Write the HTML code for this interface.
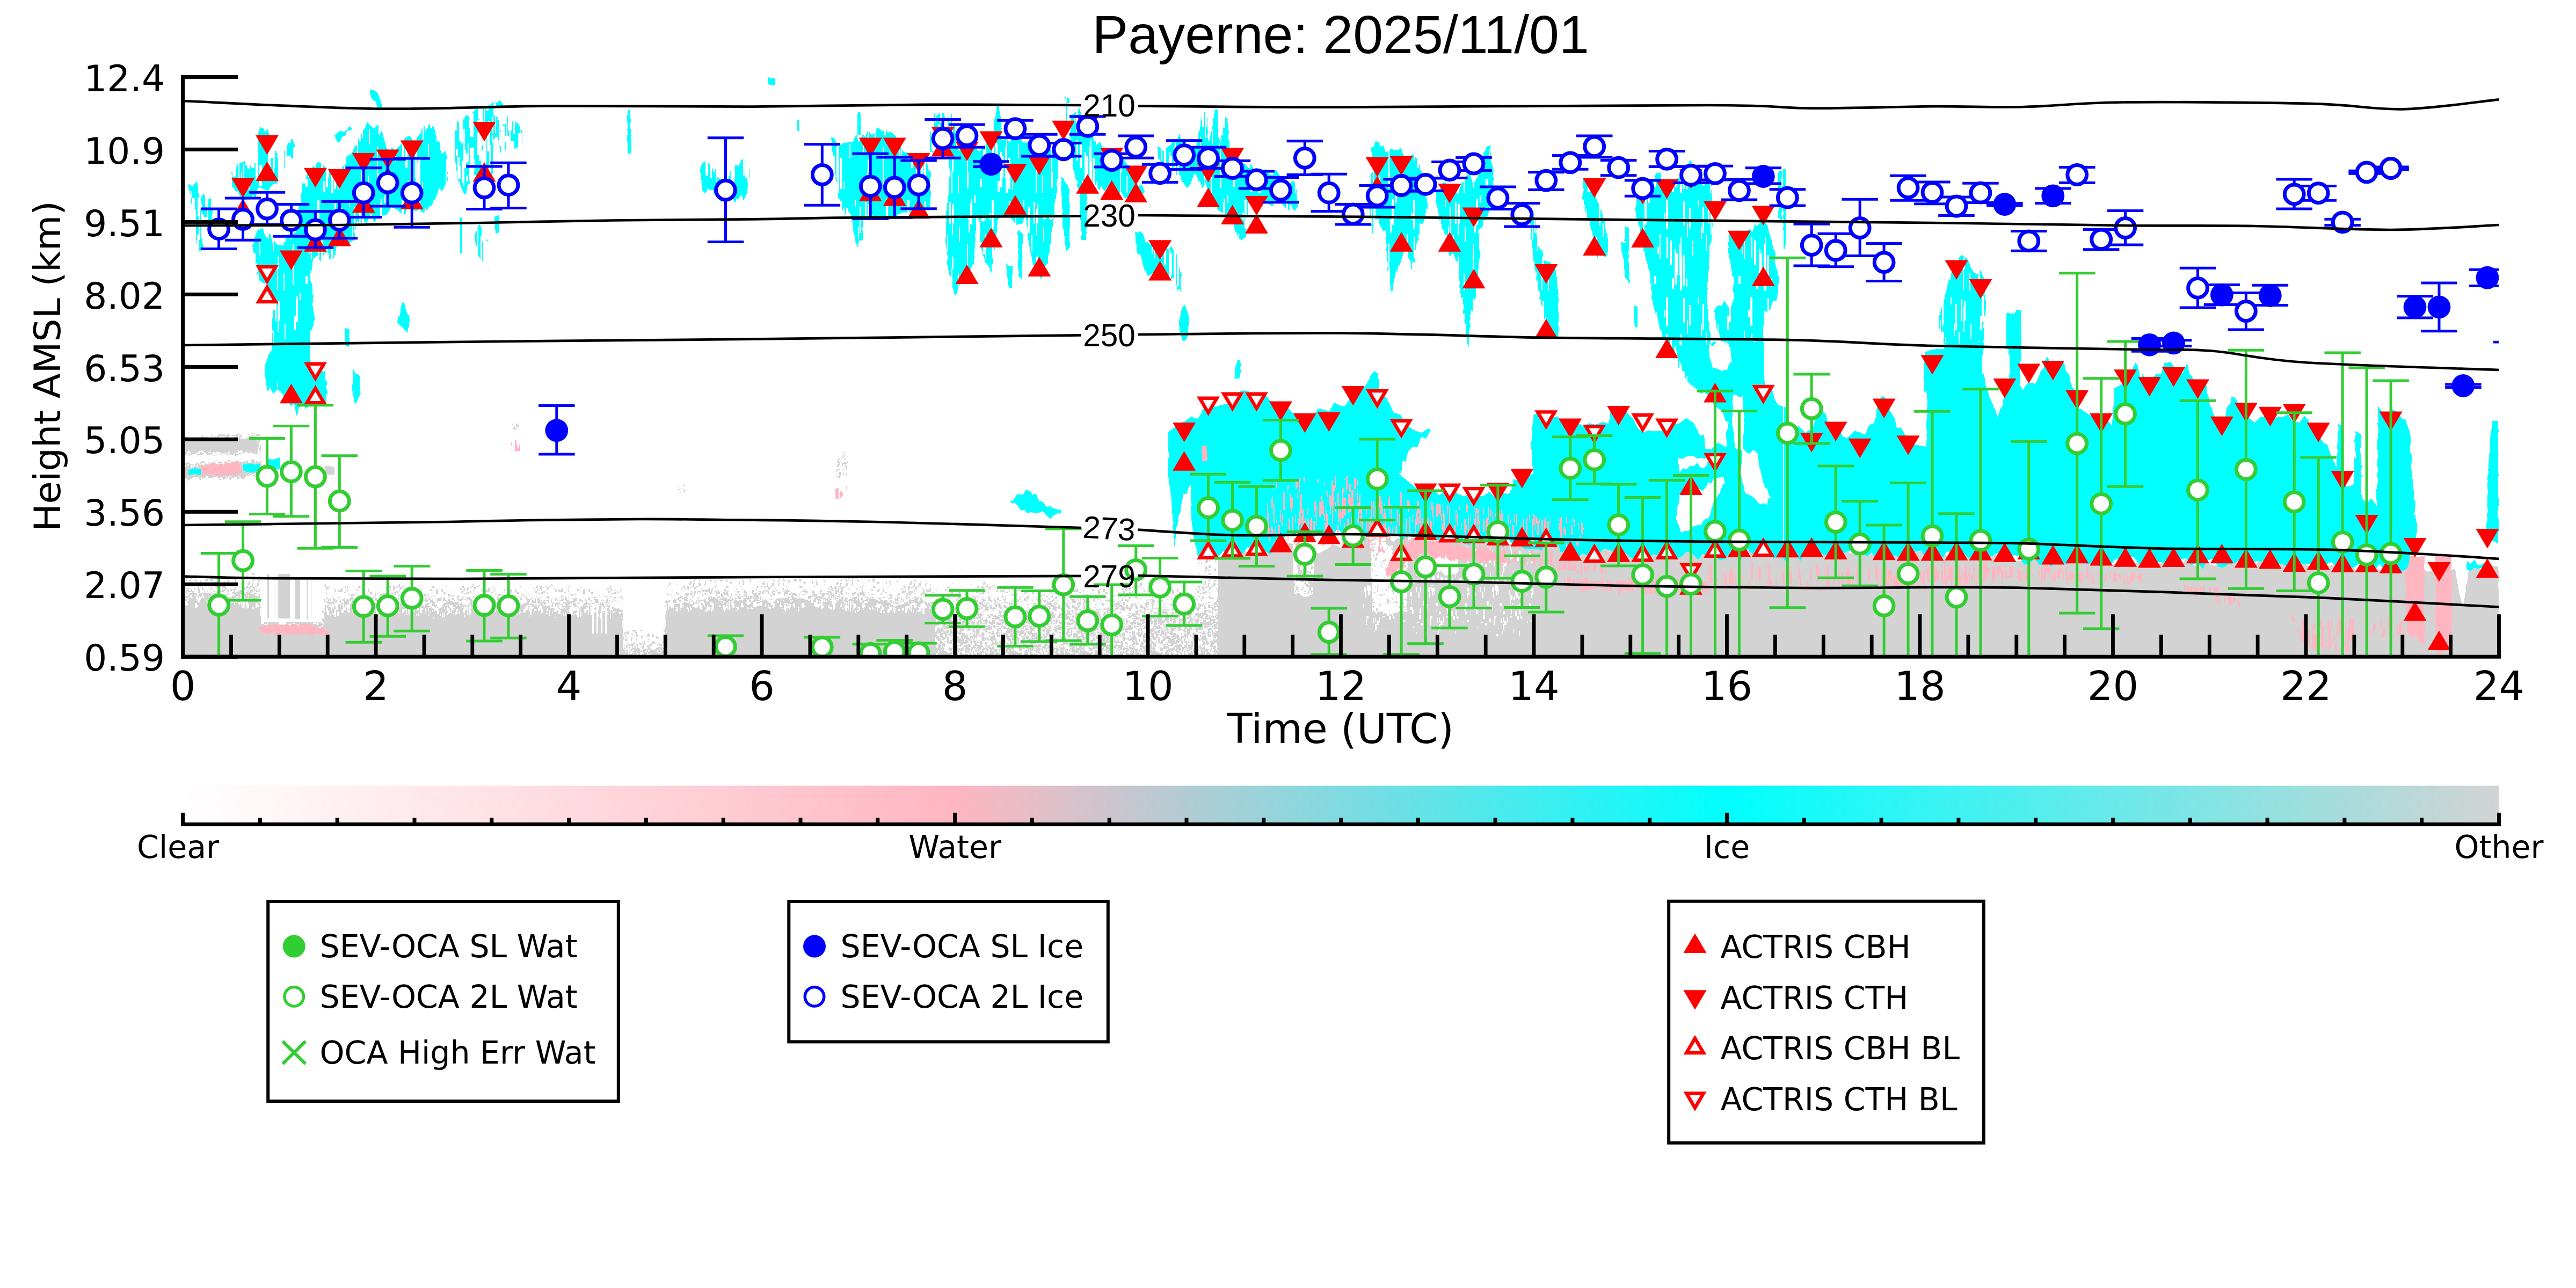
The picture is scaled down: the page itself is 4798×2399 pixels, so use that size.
<!DOCTYPE html><html><head><meta charset="utf-8"><title>Payerne: 2025/11/01</title><style>html,body{margin:0;padding:0;background:#fff}svg{display:block}</style></head><body><svg width="4798" height="2399" viewBox="0 0 4798 2399">
<defs><clipPath id="pc"><rect x="340.6" y="103.30000000000001" width="4313.4" height="1119.9"/></clipPath>
<linearGradient id="cb" x1="0" x2="1" y1="0" y2="0"><stop offset="0" stop-color="#ffffff"/><stop offset="0.3333" stop-color="#ffb6c1"/><stop offset="0.6667" stop-color="#00ffff"/><stop offset="1" stop-color="#d3d3d3"/></linearGradient>
<pattern id="w1" width="157" height="181" patternUnits="userSpaceOnUse"><rect width="157" height="181" fill="#00ffff"/><path d="M116 34h3v13h-3zM104 98h3v13h-3zM145 93h4v58h-4zM46 116h3v23h-3zM146 120h4v59h-4zM45 138h2v40h-2zM87 2h3v14h-3zM47 18h3v36h-3zM2 53h2v26h-2zM152 12h3v46h-3zM59 60h2v28h-2zM136 123h4v45h-4zM74 139h3v30h-3zM6 28h3v34h-3zM121 79h3v39h-3zM6 25h3v14h-3zM74 92h2v51h-2zM57 146h2v33h-2zM127 86h4v46h-4zM81 9h3v48h-3zM22 10h2v14h-2zM6 29h2v35h-2zM108 74h2v46h-2zM138 110h4v40h-4zM151 113h4v58h-4zM31 23h3v49h-3zM136 102h3v43h-3zM28 60h2v23h-2zM120 10h4v54h-4zM46 28h2v48h-2zM80 16h4v39h-4zM41 14h3v41h-3zM98 152h4v15h-4zM131 156h4v20h-4zM147 79h2v41h-2zM37 75h2v30h-2zM1 157h2v15h-2zM77 46h3v25h-3zM12 87h2v27h-2z" fill="#ffffff"/></pattern><pattern id="w2" width="163" height="177" patternUnits="userSpaceOnUse"><rect width="163" height="177" fill="#00ffff"/><path d="M26 65h2v44h-2zM48 45h5v44h-5zM31 35h5v13h-5zM32 71h4v62h-4zM118 54h2v67h-2zM127 128h2v44h-2zM37 100h3v53h-3zM74 73h2v40h-2zM133 85h7v39h-7zM91 95h4v43h-4zM153 73h2v62h-2zM121 27h3v25h-3zM156 7h5v13h-5zM47 113h3v43h-3zM82 34h4v62h-4zM134 67h5v70h-5zM18 0h7v63h-7zM104 47h2v33h-2zM15 53h7v64h-7zM123 144h2v29h-2zM100 108h7v36h-7zM53 50h6v32h-6zM137 154h2v23h-2zM111 24h3v28h-3zM150 105h3v56h-3zM84 93h5v62h-5zM78 21h4v20h-4zM105 39h5v66h-5zM127 44h7v54h-7zM67 17h6v17h-6zM41 83h4v63h-4zM161 0h2v44h-2zM101 17h3v51h-3zM141 38h4v25h-4zM106 20h3v22h-3zM15 25h7v45h-7zM109 82h5v55h-5zM100 55h2v69h-2zM130 103h7v28h-7zM7 76h2v24h-2zM25 8h5v51h-5zM102 6h7v46h-7zM56 1h3v30h-3zM107 110h7v42h-7zM10 90h5v60h-5zM137 48h7v56h-7zM146 87h2v36h-2zM57 99h5v31h-5zM44 153h3v17h-3zM46 15h2v22h-2zM53 133h2v18h-2zM32 15h5v28h-5zM57 110h7v54h-7zM135 40h3v54h-3zM62 129h3v28h-3zM44 32h3v61h-3zM122 68h4v51h-4zM134 15h4v65h-4zM19 97h3v57h-3zM20 68h6v36h-6zM80 86h3v64h-3zM151 92h4v63h-4zM60 9h2v70h-2zM100 7h6v38h-6zM21 94h2v42h-2zM30 57h7v60h-7zM86 60h5v60h-5zM143 56h3v29h-3zM29 110h3v51h-3zM32 37h7v70h-7zM116 73h6v19h-6zM43 114h7v61h-7zM42 14h5v35h-5zM53 118h6v20h-6zM29 2h2v13h-2zM88 109h4v54h-4zM87 67h6v25h-6zM86 31h5v58h-5zM49 113h4v53h-4zM118 97h2v69h-2zM157 130h5v40h-5z" fill="#ffffff"/></pattern><pattern id="w4" width="151" height="173" patternUnits="userSpaceOnUse"><rect width="151" height="173" fill="#00ffff"/><path d="M121 102h7v59h-7zM109 106h4v34h-4zM30 80h4v19h-4zM141 116h7v49h-7zM103 57h4v37h-4zM41 19h7v49h-7zM84 29h4v42h-4zM67 65h8v40h-8zM13 15h4v27h-4zM32 38h3v14h-3zM88 10h8v60h-8zM55 131h5v24h-5zM108 68h3v45h-3zM144 63h3v26h-3zM51 7h7v15h-7zM32 126h3v18h-3zM75 15h6v16h-6zM40 12h7v58h-7zM70 18h6v28h-6zM134 51h2v11h-2zM122 124h7v21h-7zM40 12h7v33h-7zM146 22h2v48h-2zM146 133h3v10h-3zM0 2h4v32h-4zM84 81h8v55h-8zM105 127h5v40h-5zM61 132h6v40h-6zM32 0h2v60h-2zM86 74h3v52h-3zM83 51h6v40h-6zM60 12h4v50h-4zM17 100h8v57h-8zM124 103h4v55h-4zM1 72h4v37h-4zM94 105h4v12h-4zM10 78h2v16h-2zM39 80h3v47h-3zM65 101h5v25h-5zM144 111h6v59h-6zM108 113h2v60h-2zM4 140h5v28h-5zM136 50h3v40h-3zM118 29h2v36h-2zM36 25h2v41h-2zM134 74h5v42h-5zM35 80h6v11h-6zM123 116h4v27h-4zM46 1h6v51h-6zM14 111h3v19h-3zM97 120h4v41h-4zM99 12h7v35h-7zM138 0h7v60h-7zM97 136h6v24h-6zM27 68h7v51h-7zM29 84h3v52h-3zM47 24h8v23h-8zM11 44h2v32h-2zM137 107h8v20h-8zM2 55h4v11h-4zM17 25h8v20h-8zM112 113h4v17h-4zM65 118h7v54h-7zM16 21h2v54h-2zM37 89h6v23h-6zM116 93h2v36h-2zM64 117h6v31h-6zM74 95h4v28h-4zM102 15h4v31h-4zM62 57h2v25h-2zM31 7h6v51h-6zM24 73h6v26h-6zM16 82h6v54h-6zM87 61h3v24h-3zM23 26h8v44h-8zM136 78h8v20h-8zM41 6h7v32h-7zM23 67h2v22h-2zM99 35h2v22h-2zM100 53h5v36h-5zM13 86h4v28h-4zM3 53h3v56h-3zM21 89h2v43h-2zM68 92h8v18h-8zM120 37h7v45h-7zM50 18h3v58h-3zM38 127h3v28h-3zM59 75h7v53h-7zM119 132h8v32h-8zM31 62h3v34h-3zM5 97h3v43h-3zM134 78h8v28h-8zM44 90h8v43h-8zM135 16h7v33h-7zM77 118h5v17h-5zM50 9h5v19h-5zM62 125h6v16h-6zM60 17h6v42h-6zM12 142h7v18h-7zM100 49h7v32h-7zM42 65h3v52h-3zM29 107h6v56h-6zM36 60h3v50h-3zM12 100h5v50h-5zM145 81h6v47h-6zM145 78h3v55h-3zM113 154h3v11h-3zM32 136h8v18h-8z" fill="#ffffff"/></pattern><pattern id="w3" width="149" height="167" patternUnits="userSpaceOnUse"><path d="M143 73h3v19h-3zM57 89h3v20h-3zM111 130h5v21h-5zM136 33h2v12h-2zM133 114h5v9h-5zM53 71h3v12h-3zM44 20h2v13h-2zM135 78h4v15h-4zM108 148h3v13h-3zM24 91h3v40h-3zM61 1h3v14h-3zM4 18h5v37h-5zM39 97h2v40h-2zM33 73h3v34h-3zM141 145h3v16h-3zM45 120h4v28h-4zM22 3h3v39h-3zM67 35h2v35h-2zM73 5h4v30h-4zM2 101h5v14h-5zM1 62h4v12h-4zM3 5h3v33h-3zM6 52h2v29h-2zM131 74h2v9h-2zM127 102h4v23h-4zM89 127h5v12h-5zM20 122h4v19h-4zM53 7h2v30h-2zM119 121h3v27h-3zM104 142h5v21h-5zM124 27h3v40h-3zM115 62h2v32h-2zM69 12h3v40h-3zM43 90h2v40h-2zM34 26h4v27h-4zM94 74h5v30h-5zM31 116h2v18h-2zM122 74h3v20h-3zM12 110h3v34h-3zM116 142h5v11h-5zM109 81h2v37h-2zM15 64h3v32h-3zM58 121h4v15h-4zM95 96h3v9h-3zM48 71h3v20h-3zM54 136h5v12h-5zM84 137h4v10h-4zM122 145h3v14h-3zM137 109h3v26h-3zM85 4h3v33h-3zM2 136h3v17h-3zM127 63h4v20h-4zM104 2h4v40h-4zM119 85h4v21h-4zM35 101h4v27h-4zM42 90h5v10h-5zM83 131h4v17h-4zM54 137h3v23h-3zM132 24h4v34h-4zM60 132h4v15h-4zM32 58h4v40h-4zM135 7h3v31h-3zM72 131h4v36h-4zM110 138h4v15h-4zM111 88h3v30h-3zM102 10h4v27h-4zM132 21h4v32h-4zM113 84h5v13h-5zM132 144h3v11h-3zM16 25h5v23h-5zM110 19h5v32h-5zM70 56h5v36h-5zM23 102h3v35h-3zM64 3h3v40h-3zM97 143h3v22h-3zM41 80h5v25h-5zM54 40h4v10h-4zM77 129h4v16h-4zM78 39h3v8h-3zM53 60h3v26h-3zM6 13h4v38h-4zM102 10h4v38h-4zM126 16h3v36h-3zM34 14h5v31h-5zM79 109h3v24h-3zM62 103h2v39h-2zM115 76h4v23h-4z" fill="#00ffff"/></pattern><pattern id="g7" width="131" height="97" patternUnits="userSpaceOnUse"><path d="M60 85h2v6h-2zM52 54h4v6h-4zM109 49h2v6h-2zM106 80h1v2h-1zM104 52h2v3h-2zM44 27h5v3h-5zM30 16h2v4h-2zM43 43h4v4h-4zM32 39h4v6h-4zM18 23h2v2h-2zM45 22h1v4h-1zM44 40h5v4h-5zM72 78h2v1h-2zM10 47h3v6h-3zM17 78h4v4h-4zM36 23h1v2h-1zM32 81h3v3h-3zM81 45h2v5h-2zM6 0h4v4h-4zM51 78h5v1h-5zM64 43h2v5h-2zM92 23h3v3h-3zM122 57h1v5h-1zM39 56h3v4h-3zM34 54h1v3h-1zM103 36h2v2h-2zM27 86h4v4h-4zM109 16h4v4h-4zM32 6h4v1h-4zM87 5h5v4h-5zM127 87h4v2h-4zM19 52h5v4h-5zM57 58h2v3h-2zM45 35h5v2h-5zM76 71h2v1h-2zM18 25h4v4h-4zM8 54h4v3h-4zM104 70h1v3h-1zM66 11h1v1h-1zM21 51h5v4h-5zM48 17h4v3h-4zM60 51h3v3h-3zM62 52h5v2h-5zM91 31h5v4h-5zM107 92h3v5h-3zM69 43h2v1h-2zM70 24h2v6h-2zM54 92h2v5h-2zM100 25h4v1h-4zM113 37h5v2h-5zM32 76h4v5h-4zM125 15h5v5h-5zM1 40h5v2h-5zM69 43h1v6h-1zM49 6h4v5h-4zM71 36h2v5h-2zM81 35h2v1h-2zM125 54h1v5h-1zM117 12h2v3h-2zM98 87h1v4h-1zM6 26h2v4h-2zM58 66h4v1h-4zM119 45h1v1h-1zM119 79h5v3h-5zM89 90h1v4h-1zM27 57h1v2h-1zM121 43h3v4h-3zM9 54h4v4h-4zM26 16h3v6h-3zM29 31h4v4h-4zM13 12h5v6h-5zM95 77h5v6h-5zM91 82h1v3h-1zM111 44h1v2h-1zM37 69h1v1h-1zM13 84h3v2h-3zM10 59h2v1h-2zM37 95h3v2h-3zM89 68h1v3h-1zM61 52h2v5h-2zM117 2h3v1h-3zM55 81h2v1h-2zM13 27h3v3h-3zM73 58h4v4h-4zM120 29h2v1h-2zM40 69h5v1h-5zM20 34h5v2h-5zM96 54h4v5h-4zM3 33h1v6h-1zM62 70h2v4h-2zM22 63h3v6h-3zM76 20h1v4h-1zM9 61h2v4h-2zM9 53h1v5h-1zM54 74h1v5h-1zM48 7h5v2h-5zM44 53h3v1h-3zM73 88h3v1h-3zM117 85h1v2h-1zM60 68h3v2h-3zM104 86h2v3h-2zM68 82h1v3h-1zM123 37h3v3h-3zM116 31h5v3h-5zM57 73h2v4h-2zM79 18h1v4h-1zM23 68h2v4h-2zM12 35h2v5h-2zM45 21h3v1h-3zM85 15h4v1h-4zM15 46h1v6h-1zM77 83h4v5h-4zM38 59h2v5h-2zM31 72h2v1h-2zM71 28h3v2h-3zM51 52h5v2h-5zM33 92h5v1h-5zM52 37h4v2h-4zM124 69h5v4h-5zM46 49h5v3h-5zM97 68h1v4h-1zM128 58h3v3h-3zM1 1h1v5h-1zM84 63h3v2h-3zM50 42h5v4h-5zM119 52h1v4h-1zM65 32h5v3h-5zM20 32h4v3h-4zM94 73h2v2h-2zM112 57h1v6h-1zM40 48h3v4h-3zM40 14h2v6h-2zM100 7h3v4h-3zM13 53h4v4h-4zM79 7h3v2h-3zM0 6h4v3h-4zM35 5h5v2h-5zM7 61h4v4h-4zM90 69h3v6h-3zM0 49h3v3h-3zM84 26h5v5h-5zM54 70h1v5h-1zM20 69h1v3h-1zM86 74h5v3h-5zM74 14h3v4h-3zM76 41h1v1h-1zM124 22h4v3h-4zM120 79h2v2h-2zM44 45h5v1h-5zM30 70h1v3h-1zM127 49h1v4h-1zM87 6h5v4h-5zM99 45h2v5h-2zM95 73h4v2h-4zM109 75h1v2h-1zM35 40h3v4h-3zM101 27h1v6h-1zM74 83h3v6h-3zM47 85h2v6h-2zM0 32h4v3h-4zM44 67h2v3h-2zM107 89h4v3h-4zM114 18h2v4h-2zM106 76h1v5h-1zM70 96h5v1h-5zM103 25h1v1h-1zM32 76h4v3h-4zM20 80h3v5h-3zM61 87h2v3h-2zM68 15h3v1h-3zM30 13h2v4h-2zM34 91h2v2h-2zM110 3h5v3h-5zM82 25h4v4h-4zM68 87h3v5h-3zM127 42h4v5h-4zM117 65h1v1h-1zM30 9h2v6h-2zM15 39h2v6h-2zM10 3h2v2h-2zM25 14h4v1h-4zM33 86h3v6h-3zM65 52h4v2h-4zM46 46h4v4h-4zM119 77h3v1h-3zM89 85h4v2h-4zM8 88h1v6h-1zM116 91h4v6h-4zM87 43h3v6h-3zM67 10h4v1h-4zM40 21h5v6h-5zM69 91h5v3h-5zM14 31h4v6h-4zM12 44h1v4h-1zM63 85h5v5h-5zM58 88h1v1h-1zM126 24h5v6h-5zM42 90h4v6h-4zM19 31h4v4h-4zM96 72h3v2h-3zM54 94h5v3h-5zM28 39h5v1h-5zM22 82h5v1h-5zM84 14h4v3h-4zM78 64h3v4h-3zM71 93h1v4h-1zM27 77h1v2h-1zM31 86h5v4h-5zM102 2h2v6h-2zM25 62h1v6h-1zM15 88h4v3h-4zM47 76h5v1h-5zM98 68h3v5h-3zM117 47h3v2h-3zM92 37h4v4h-4zM76 80h4v6h-4zM94 67h4v4h-4zM0 10h4v4h-4zM107 91h2v6h-2zM60 88h4v3h-4zM97 0h5v1h-5zM103 1h1v5h-1zM126 22h2v2h-2zM86 47h2v2h-2zM45 48h5v1h-5zM120 59h1v5h-1zM123 32h2v5h-2zM47 70h1v3h-1zM45 75h2v3h-2zM127 14h3v1h-3zM115 45h1v1h-1zM22 95h5v2h-5zM28 64h2v1h-2zM60 64h4v2h-4zM20 55h1v3h-1zM9 25h2v4h-2zM52 59h1v1h-1zM66 15h2v5h-2zM80 27h3v2h-3zM113 69h5v3h-5zM53 10h3v6h-3zM99 2h5v6h-5zM74 15h1v2h-1zM86 20h4v4h-4zM100 35h5v6h-5zM60 6h4v1h-4zM99 47h1v2h-1zM84 28h5v6h-5zM96 36h2v6h-2zM85 88h1v5h-1zM126 14h1v5h-1zM86 15h4v3h-4zM1 88h5v3h-5zM15 90h3v6h-3zM38 79h4v1h-4zM106 29h2v6h-2zM39 61h3v4h-3zM59 4h3v1h-3zM99 92h5v3h-5zM25 5h5v3h-5zM41 14h5v2h-5zM92 52h1v4h-1zM127 7h4v3h-4zM128 71h3v1h-3zM101 39h1v2h-1zM90 38h1v5h-1zM66 46h1v1h-1zM110 30h5v3h-5zM63 20h2v1h-2zM54 49h5v6h-5zM1 22h1v2h-1zM31 66h1v6h-1zM7 58h4v1h-4zM40 72h4v5h-4zM51 83h2v3h-2zM57 50h4v2h-4zM19 49h1v4h-1zM17 94h1v1h-1zM76 61h3v2h-3zM90 69h5v1h-5zM101 87h3v2h-3zM19 57h5v5h-5zM113 70h5v2h-5zM69 11h4v6h-4zM121 57h2v5h-2zM77 61h5v4h-5zM93 82h3v3h-3zM49 19h5v3h-5zM39 62h5v5h-5zM120 67h3v1h-3zM43 57h3v3h-3zM122 49h3v5h-3zM73 68h5v2h-5zM31 38h2v3h-2zM51 3h2v6h-2zM47 31h4v3h-4zM53 56h2v4h-2zM96 62h4v2h-4zM12 2h2v5h-2zM56 43h1v1h-1zM43 51h2v2h-2zM51 29h1v5h-1zM101 85h2v5h-2zM40 38h1v6h-1zM117 61h2v4h-2zM98 5h5v3h-5zM94 95h5v2h-5zM9 49h5v1h-5zM33 64h1v2h-1zM16 88h3v6h-3zM35 16h3v5h-3zM77 68h4v4h-4zM111 21h3v3h-3zM21 80h5v6h-5zM56 2h4v5h-4zM84 15h3v4h-3zM40 1h3v1h-3zM103 32h5v1h-5zM64 17h3v3h-3zM12 25h4v6h-4zM102 88h3v3h-3zM77 51h4v6h-4zM124 31h3v6h-3zM26 82h2v5h-2zM47 89h5v6h-5zM15 79h1v4h-1zM127 75h1v3h-1zM7 4h5v1h-5zM52 47h1v1h-1zM116 77h3v2h-3zM115 69h1v2h-1zM65 17h3v4h-3zM0 24h5v3h-5zM29 44h1v3h-1zM92 72h2v4h-2zM72 40h2v4h-2zM84 38h5v1h-5zM80 73h4v3h-4zM123 46h5v1h-5zM57 21h4v1h-4zM61 66h3v3h-3zM58 16h3v5h-3zM126 47h3v3h-3zM122 82h3v5h-3zM34 48h1v3h-1zM61 61h1v6h-1zM35 92h4v2h-4zM46 38h4v6h-4zM10 49h5v4h-5zM78 62h5v4h-5zM52 6h5v1h-5zM98 80h4v1h-4zM4 72h4v2h-4zM81 65h5v2h-5zM24 18h1v3h-1zM78 21h2v4h-2zM67 50h3v4h-3zM100 83h1v6h-1zM104 15h1v4h-1zM69 9h2v6h-2zM104 51h1v5h-1zM91 21h3v2h-3zM103 27h3v4h-3zM65 82h4v6h-4zM73 17h2v4h-2zM83 79h1v4h-1zM13 48h1v3h-1zM14 41h4v4h-4zM81 70h3v5h-3zM90 1h4v5h-4zM71 40h4v1h-4zM112 55h3v3h-3zM12 49h5v4h-5zM109 91h5v2h-5zM85 35h2v4h-2zM46 43h3v4h-3zM79 27h4v6h-4zM60 84h3v2h-3zM86 58h2v6h-2zM95 32h5v2h-5zM97 4h1v6h-1zM99 60h1v3h-1zM113 47h1v1h-1zM46 20h3v3h-3zM72 86h1v6h-1zM40 21h2v5h-2zM84 34h2v2h-2zM0 11h2v3h-2zM84 84h3v6h-3zM128 67h3v5h-3zM44 23h1v4h-1zM15 46h1v6h-1zM7 40h3v4h-3zM43 85h3v1h-3zM1 61h3v3h-3zM120 87h1v5h-1zM62 42h3v2h-3zM5 83h5v1h-5zM66 28h5v6h-5zM113 33h3v4h-3zM10 23h3v5h-3zM120 65h3v2h-3zM28 82h5v1h-5zM106 70h5v4h-5zM95 37h1v1h-1zM90 26h3v5h-3zM52 68h5v6h-5zM52 32h1v4h-1zM55 57h4v3h-4zM2 85h2v3h-2zM13 27h3v3h-3zM84 7h5v3h-5zM89 20h3v2h-3zM33 0h1v3h-1zM80 42h2v6h-2zM98 37h5v3h-5zM31 48h5v3h-5zM80 37h4v2h-4zM1 33h1v4h-1zM122 66h1v4h-1zM34 53h2v4h-2zM101 57h2v1h-2zM37 37h1v5h-1zM121 1h3v2h-3zM44 24h5v3h-5zM46 85h4v6h-4zM55 25h2v2h-2zM50 18h2v2h-2zM20 33h1v5h-1zM20 57h3v3h-3zM30 5h1v4h-1zM1 91h3v5h-3zM117 12h4v5h-4zM65 68h3v4h-3zM73 62h4v1h-4zM78 6h1v6h-1zM88 18h5v1h-5zM3 40h3v1h-3zM95 48h5v2h-5zM96 14h1v6h-1zM1 52h4v5h-4zM25 81h1v5h-1zM68 91h1v6h-1zM17 84h5v3h-5zM16 23h1v5h-1zM115 91h5v2h-5zM126 20h3v3h-3zM8 19h2v4h-2zM89 42h3v2h-3zM57 15h1v1h-1zM58 63h4v1h-4zM100 23h1v6h-1zM17 69h4v2h-4zM14 87h1v4h-1zM111 41h1v4h-1zM117 83h3v1h-3zM87 30h4v6h-4zM4 12h1v4h-1zM70 24h5v4h-5zM53 46h2v3h-2zM59 80h5v6h-5zM96 23h5v6h-5zM46 55h3v2h-3zM17 24h2v2h-2zM49 57h4v2h-4zM77 88h5v5h-5zM127 22h2v6h-2zM28 71h1v6h-1zM75 6h5v4h-5zM87 33h3v4h-3zM94 28h5v4h-5zM92 2h3v5h-3zM104 61h5v3h-5zM114 15h5v4h-5zM67 77h5v5h-5zM76 31h2v2h-2zM70 90h3v4h-3zM2 44h5v5h-5zM19 6h3v2h-3zM115 6h2v4h-2zM0 95h5v1h-5zM59 58h5v4h-5zM84 72h1v5h-1zM76 87h3v2h-3zM62 55h1v5h-1zM10 43h5v3h-5zM77 53h4v4h-4zM42 91h2v6h-2zM126 60h5v3h-5zM28 77h3v5h-3zM23 18h5v4h-5zM116 55h4v5h-4zM49 63h2v5h-2zM1 0h1v5h-1zM119 2h5v6h-5zM41 23h5v4h-5zM94 89h3v1h-3zM9 58h2v5h-2zM64 42h5v4h-5zM74 43h2v1h-2zM121 88h4v3h-4zM111 75h1v4h-1zM12 21h5v5h-5zM104 86h1v3h-1zM46 0h3v1h-3zM48 17h4v1h-4zM111 84h2v5h-2zM33 27h3v4h-3zM38 92h5v4h-5zM108 42h1v4h-1zM71 17h1v3h-1zM107 6h1v1h-1zM72 10h4v2h-4zM92 63h1v1h-1zM56 12h5v2h-5zM5 1h1v4h-1zM78 33h1v4h-1zM47 30h4v6h-4zM9 5h4v4h-4zM29 31h5v1h-5zM11 36h2v2h-2zM9 65h1v6h-1zM13 11h3v3h-3zM123 85h5v2h-5zM85 51h3v4h-3zM63 37h1v1h-1zM75 47h4v6h-4zM129 56h2v1h-2zM6 73h2v2h-2zM91 55h5v1h-5zM45 20h4v1h-4zM30 11h2v6h-2zM98 40h4v6h-4zM27 72h2v2h-2zM120 18h3v4h-3zM67 58h5v1h-5zM116 25h1v4h-1zM109 71h1v5h-1zM21 14h4v4h-4zM105 58h1v3h-1zM84 81h2v5h-2zM128 23h2v5h-2zM73 1h5v3h-5zM67 7h2v3h-2zM65 76h2v1h-2zM92 80h1v3h-1zM122 30h4v6h-4zM9 60h3v5h-3zM90 56h4v6h-4zM67 9h3v3h-3zM50 19h1v6h-1zM37 81h4v6h-4zM62 89h5v1h-5zM5 60h3v5h-3zM31 55h3v3h-3zM90 75h1v2h-1zM54 34h3v3h-3zM33 19h5v6h-5zM106 84h2v6h-2zM52 36h2v6h-2zM65 72h2v2h-2zM33 52h4v2h-4zM72 25h1v3h-1zM16 80h1v2h-1zM54 85h5v4h-5zM122 41h1v2h-1zM75 70h2v2h-2zM41 96h5v1h-5zM26 71h4v1h-4zM13 84h4v2h-4zM81 21h2v6h-2zM54 0h3v4h-3zM26 93h5v4h-5zM42 10h5v4h-5zM81 15h4v2h-4zM69 5h4v2h-4zM64 91h4v6h-4zM80 29h5v4h-5zM7 13h4v3h-4zM31 92h3v4h-3zM1 2h3v2h-3zM14 27h4v1h-4zM88 29h1v4h-1zM39 43h4v4h-4zM117 55h3v5h-3zM28 20h3v1h-3zM58 50h4v6h-4zM20 2h5v2h-5zM15 32h1v5h-1zM4 79h4v1h-4zM6 55h5v4h-5zM80 93h5v3h-5zM96 32h1v2h-1zM36 15h1v1h-1zM26 59h5v3h-5zM56 30h3v2h-3zM34 45h4v6h-4zM108 8h4v4h-4zM34 72h5v5h-5zM61 27h3v6h-3zM60 3h4v5h-4zM102 25h4v4h-4zM117 29h2v4h-2zM106 92h5v4h-5zM31 0h2v1h-2zM104 20h4v5h-4zM56 55h5v4h-5zM115 20h1v5h-1zM20 47h3v1h-3zM75 66h5v4h-5zM5 55h4v6h-4zM89 9h4v2h-4zM31 2h1v3h-1zM76 17h1v6h-1zM109 83h3v2h-3zM66 3h1v1h-1zM129 72h2v3h-2zM40 61h1v4h-1zM114 10h5v6h-5zM111 91h3v3h-3zM93 79h1v6h-1zM41 63h3v2h-3zM92 52h1v4h-1zM22 73h2v4h-2zM45 0h1v3h-1zM9 76h2v2h-2zM8 5h2v5h-2zM23 8h3v6h-3zM12 91h3v6h-3zM79 87h1v5h-1zM41 47h1v1h-1zM63 88h4v3h-4zM19 28h3v3h-3zM127 94h4v2h-4zM15 19h4v4h-4zM46 83h4v3h-4zM21 81h5v3h-5zM34 15h5v6h-5zM63 54h5v6h-5zM58 71h2v5h-2zM88 28h2v6h-2zM25 6h2v5h-2zM72 89h1v5h-1zM125 26h1v1h-1zM13 64h1v3h-1zM129 44h1v1h-1zM8 91h4v5h-4zM106 21h3v3h-3zM13 50h1v4h-1zM60 67h4v4h-4zM84 5h4v4h-4zM113 61h1v1h-1zM76 80h3v6h-3zM117 53h2v3h-2zM12 44h5v2h-5zM107 10h2v1h-2zM119 9h4v3h-4zM60 9h5v6h-5zM98 10h2v1h-2zM86 54h4v3h-4zM13 45h1v1h-1zM22 57h5v2h-5zM103 21h5v2h-5zM13 91h5v5h-5zM85 50h4v6h-4zM102 26h1v3h-1zM75 81h4v3h-4zM33 34h2v2h-2zM99 50h4v3h-4zM25 67h4v3h-4zM14 53h4v1h-4zM26 26h1v6h-1zM68 21h5v2h-5zM4 3h4v4h-4zM7 37h3v2h-3zM14 36h1v2h-1zM46 9h4v6h-4zM62 32h2v1h-2zM63 88h5v3h-5zM86 1h2v5h-2zM91 77h2v4h-2zM92 76h3v3h-3zM123 91h3v5h-3zM82 78h1v4h-1zM120 7h1v5h-1zM68 14h1v4h-1zM127 50h3v2h-3zM110 68h5v2h-5zM32 47h1v5h-1zM55 88h4v5h-4zM56 13h3v5h-3zM121 51h5v6h-5zM62 82h1v2h-1zM52 61h3v3h-3zM115 91h2v1h-2zM29 80h3v2h-3zM84 46h2v4h-2zM113 85h3v1h-3zM28 69h3v6h-3zM127 44h3v2h-3zM79 62h2v3h-2zM96 30h4v4h-4zM114 82h4v4h-4zM51 69h5v4h-5zM38 1h1v1h-1zM27 74h1v6h-1zM33 25h1v6h-1zM94 60h1v2h-1zM96 18h4v4h-4zM61 94h5v2h-5zM37 87h1v1h-1zM27 6h1v2h-1zM38 17h5v6h-5zM39 42h3v4h-3zM22 91h4v4h-4zM53 12h2v1h-2zM35 76h4v3h-4zM93 62h4v1h-4zM95 49h3v4h-3zM7 81h5v2h-5zM18 47h5v3h-5zM88 15h4v6h-4zM50 52h2v3h-2zM12 61h3v5h-3zM33 90h4v2h-4zM61 89h3v4h-3zM109 12h4v2h-4zM71 60h1v4h-1zM69 66h5v1h-5zM92 55h1v4h-1zM95 54h4v3h-4zM6 54h1v5h-1zM26 1h3v2h-3zM21 34h2v3h-2zM129 77h1v2h-1zM109 49h1v2h-1zM53 87h5v6h-5zM79 64h3v2h-3zM106 45h2v5h-2zM46 47h1v1h-1zM96 22h3v2h-3zM50 74h2v5h-2zM32 42h1v6h-1zM129 27h2v2h-2zM123 75h5v5h-5zM66 79h3v1h-3zM39 34h5v2h-5zM125 40h3v1h-3zM54 73h3v1h-3zM91 40h1v6h-1zM49 60h2v4h-2zM118 67h2v4h-2zM121 38h4v6h-4zM27 35h5v6h-5zM66 0h1v4h-1zM22 94h4v2h-4zM120 38h4v1h-4zM85 61h1v2h-1zM41 77h2v2h-2zM117 50h2v5h-2zM67 62h5v5h-5zM76 52h4v5h-4zM78 47h2v2h-2zM115 43h2v1h-2zM95 41h5v5h-5zM63 84h2v6h-2zM84 67h2v2h-2zM22 44h2v5h-2zM41 19h2v6h-2zM53 91h3v6h-3zM88 93h5v4h-5zM129 68h1v3h-1zM73 54h1v4h-1zM110 83h2v2h-2zM117 55h1v6h-1zM110 25h2v4h-2zM64 76h1v2h-1zM56 23h4v2h-4zM16 0h3v6h-3zM60 16h1v2h-1zM47 53h5v6h-5zM48 8h2v3h-2zM12 15h2v3h-2zM22 64h4v4h-4zM46 70h1v6h-1zM10 52h4v5h-4zM45 70h5v6h-5zM109 24h3v6h-3zM83 12h5v6h-5zM85 6h4v6h-4zM82 68h5v2h-5zM72 2h1v6h-1zM44 61h4v6h-4zM11 62h1v2h-1zM64 13h1v4h-1zM35 63h5v5h-5zM63 71h2v3h-2zM129 17h2v2h-2zM117 76h3v3h-3zM114 47h2v3h-2zM110 60h2v4h-2zM37 6h4v1h-4zM82 1h4v4h-4zM127 17h2v4h-2zM41 93h1v3h-1zM63 81h1v3h-1zM28 90h2v1h-2zM22 81h1v4h-1zM47 9h5v4h-5zM116 55h4v3h-4zM51 49h3v3h-3zM73 64h1v1h-1zM16 90h1v5h-1zM76 40h5v4h-5zM18 45h4v6h-4zM87 78h4v2h-4zM0 43h5v2h-5zM21 64h3v6h-3zM100 40h1v3h-1zM0 64h3v5h-3zM34 52h3v4h-3zM40 56h5v4h-5zM129 87h2v4h-2zM121 52h3v6h-3zM15 20h3v6h-3zM111 66h3v6h-3zM83 25h2v4h-2zM19 47h1v6h-1zM15 42h2v5h-2zM26 53h3v6h-3zM43 4h1v6h-1zM64 52h5v3h-5zM41 45h2v4h-2zM25 78h2v2h-2zM60 64h3v3h-3zM65 46h5v3h-5zM3 75h1v4h-1zM59 74h5v3h-5zM94 32h4v2h-4zM69 28h1v1h-1zM5 52h2v2h-2zM102 7h4v3h-4zM44 20h1v3h-1zM80 59h3v5h-3zM11 28h1v1h-1zM129 2h2v4h-2zM123 8h2v2h-2zM66 12h5v2h-5zM75 76h2v5h-2zM61 0h3v3h-3zM39 67h4v3h-4zM32 71h3v2h-3zM92 46h3v3h-3zM110 5h5v2h-5zM32 41h5v2h-5zM104 61h1v6h-1zM1 85h2v2h-2zM47 69h5v1h-5zM52 5h2v5h-2zM114 35h2v2h-2zM29 31h5v6h-5zM31 79h2v1h-2zM26 45h2v6h-2zM122 67h4v2h-4zM121 66h5v5h-5zM74 59h3v4h-3zM41 51h2v1h-2zM95 48h1v3h-1zM52 90h3v2h-3zM80 81h5v1h-5zM126 67h4v6h-4zM25 10h1v2h-1zM122 38h2v4h-2zM7 22h2v1h-2zM87 43h4v4h-4zM83 43h3v3h-3zM126 24h1v3h-1zM90 87h4v6h-4zM52 52h4v3h-4zM59 52h3v6h-3zM45 61h3v1h-3zM51 23h5v5h-5zM72 23h3v1h-3zM78 12h4v3h-4zM119 87h1v4h-1zM118 37h5v3h-5zM70 57h1v3h-1zM28 42h3v4h-3zM29 29h1v3h-1zM92 61h5v6h-5zM4 61h5v1h-5zM92 56h1v1h-1zM81 38h1v2h-1zM100 43h3v5h-3zM61 30h1v5h-1zM41 48h4v2h-4zM81 78h4v4h-4zM104 70h3v6h-3zM118 47h3v1h-3zM73 70h3v1h-3zM116 29h2v2h-2zM41 82h1v1h-1zM95 19h2v6h-2zM87 85h3v3h-3zM58 81h1v1h-1zM80 66h4v1h-4zM42 5h5v4h-5zM24 33h2v3h-2zM7 89h5v1h-5zM41 56h3v5h-3zM27 70h1v3h-1zM99 77h2v2h-2zM101 43h3v5h-3zM12 62h4v1h-4zM115 76h1v2h-1zM22 86h2v1h-2zM114 15h2v4h-2zM126 45h3v1h-3zM44 36h4v4h-4zM11 77h4v3h-4zM120 77h5v1h-5zM54 92h5v4h-5zM26 79h5v2h-5zM53 37h2v2h-2zM71 56h2v1h-2zM48 93h3v3h-3zM40 11h3v3h-3zM71 66h1v4h-1zM8 59h5v1h-5zM52 82h4v1h-4zM64 4h3v3h-3zM36 47h4v6h-4zM61 16h4v2h-4zM64 77h5v2h-5zM45 53h3v5h-3zM4 18h2v1h-2zM17 92h3v3h-3zM71 41h3v4h-3zM35 27h5v6h-5zM49 69h4v2h-4zM81 84h1v4h-1zM22 52h1v4h-1zM120 17h2v2h-2zM90 70h1v3h-1zM112 66h3v1h-3zM27 30h1v3h-1zM118 70h5v3h-5zM74 50h5v6h-5zM72 58h4v2h-4zM7 62h3v6h-3zM76 21h5v5h-5zM111 58h2v4h-2zM106 41h3v6h-3zM5 22h1v6h-1zM54 52h2v5h-2zM29 8h1v2h-1zM75 89h5v1h-5zM35 2h4v5h-4zM11 75h2v6h-2zM58 91h2v1h-2zM14 49h3v2h-3zM126 71h4v6h-4zM121 80h1v5h-1zM68 28h3v5h-3zM48 15h5v4h-5zM110 17h3v6h-3zM109 38h5v5h-5zM126 19h4v2h-4zM29 55h5v2h-5zM1 68h1v6h-1zM30 75h1v1h-1zM85 34h2v3h-2zM20 65h4v5h-4zM88 50h1v5h-1zM34 68h3v5h-3zM30 48h3v3h-3zM112 41h3v3h-3zM38 66h4v5h-4zM117 40h5v4h-5zM69 67h3v6h-3zM73 35h5v3h-5zM18 15h3v1h-3zM75 42h2v2h-2zM73 39h3v3h-3zM55 37h2v4h-2zM22 60h5v4h-5zM19 52h1v6h-1zM112 73h3v4h-3zM99 91h3v3h-3zM33 23h2v1h-2zM86 10h2v2h-2zM90 15h5v5h-5zM13 91h5v5h-5zM19 78h3v6h-3zM26 53h3v5h-3zM4 47h1v5h-1zM98 63h5v6h-5zM61 23h3v6h-3zM18 34h5v1h-5zM66 12h4v4h-4zM94 46h3v3h-3zM83 84h4v6h-4zM88 24h4v4h-4zM57 16h3v6h-3zM4 5h4v5h-4zM115 17h2v6h-2zM9 41h3v5h-3zM58 62h5v2h-5zM80 16h2v1h-2zM116 68h4v6h-4zM9 40h1v2h-1zM41 58h1v5h-1zM75 4h2v3h-2zM35 61h1v1h-1zM117 8h3v5h-3zM39 46h5v6h-5zM78 0h2v3h-2zM56 54h1v1h-1zM55 91h1v4h-1zM100 52h5v1h-5zM0 63h1v1h-1zM123 61h4v4h-4z" fill="#d3d3d3"/></pattern><pattern id="g4" width="127" height="101" patternUnits="userSpaceOnUse"><path d="M85 51h4v6h-4zM101 22h2v4h-2zM65 16h4v3h-4zM113 10h2v1h-2zM117 65h4v6h-4zM1 64h4v3h-4zM1 83h3v6h-3zM99 2h4v2h-4zM117 91h2v6h-2zM55 32h4v3h-4zM57 28h1v5h-1zM95 15h1v3h-1zM22 53h4v2h-4zM85 22h2v1h-2zM64 75h3v6h-3zM116 54h2v6h-2zM18 74h2v6h-2zM43 86h1v3h-1zM76 7h1v5h-1zM64 3h1v6h-1zM85 93h1v5h-1zM32 66h4v6h-4zM99 40h1v1h-1zM71 39h4v6h-4zM68 51h1v4h-1zM67 64h3v1h-3zM72 83h3v5h-3zM38 86h4v1h-4zM104 29h1v1h-1zM36 3h3v2h-3zM3 48h1v1h-1zM9 52h3v4h-3zM56 83h2v6h-2zM81 68h3v2h-3zM30 29h2v2h-2zM35 51h4v3h-4zM82 83h3v5h-3zM54 2h1v4h-1zM33 88h1v4h-1zM4 53h4v6h-4zM35 21h3v2h-3zM65 79h1v5h-1zM39 8h4v3h-4zM0 0h2v1h-2zM5 46h1v5h-1zM76 33h2v1h-2zM84 31h3v4h-3zM74 33h4v5h-4zM56 17h2v6h-2zM32 23h4v4h-4zM1 69h3v4h-3zM95 27h1v3h-1zM46 73h2v6h-2zM27 7h2v2h-2zM114 49h1v3h-1zM84 84h3v2h-3zM122 84h3v5h-3zM26 89h4v2h-4zM14 43h4v3h-4zM70 32h4v5h-4zM70 91h4v2h-4zM46 78h1v2h-1zM71 25h2v2h-2zM26 68h4v3h-4zM112 52h4v1h-4zM19 78h1v5h-1zM61 62h3v6h-3zM6 55h4v2h-4zM80 88h2v4h-2zM118 6h2v4h-2zM96 46h1v6h-1zM117 64h3v2h-3zM23 30h3v1h-3zM30 76h3v3h-3zM55 34h1v2h-1zM45 8h3v1h-3zM11 4h1v6h-1zM124 19h1v6h-1zM115 89h3v6h-3zM104 71h1v1h-1zM26 57h1v2h-1zM38 76h4v1h-4zM42 27h4v1h-4zM24 45h1v1h-1zM54 63h1v1h-1zM65 89h4v2h-4zM81 55h2v4h-2zM20 12h2v5h-2zM75 69h3v2h-3zM57 21h2v5h-2zM92 5h2v5h-2zM75 42h3v3h-3zM52 74h4v2h-4zM65 37h4v4h-4zM93 45h4v4h-4zM49 19h3v4h-3zM74 11h2v3h-2zM83 16h3v5h-3zM55 69h2v5h-2zM18 72h2v6h-2zM116 11h1v1h-1zM121 57h3v3h-3zM73 96h4v5h-4zM13 25h2v6h-2zM115 15h2v2h-2zM67 94h1v2h-1zM107 3h2v6h-2zM20 77h4v6h-4zM60 10h3v3h-3zM66 20h3v3h-3zM5 64h1v4h-1zM28 72h3v4h-3zM11 37h4v1h-4zM95 50h3v4h-3zM113 18h2v4h-2zM26 55h2v3h-2zM123 8h2v3h-2zM76 22h1v1h-1zM73 2h4v1h-4zM82 0h1v1h-1zM17 41h2v6h-2zM28 81h1v5h-1zM48 31h1v3h-1zM13 33h4v3h-4zM19 54h4v4h-4zM47 15h3v1h-3zM37 48h2v2h-2zM113 5h4v6h-4zM54 78h4v6h-4zM50 54h4v2h-4zM31 9h1v6h-1zM44 66h4v2h-4zM24 29h4v4h-4zM104 58h4v4h-4zM12 57h3v4h-3zM53 64h4v6h-4zM29 31h1v1h-1zM68 48h3v6h-3zM6 56h4v4h-4zM27 70h4v6h-4zM72 61h4v5h-4zM5 28h1v3h-1zM29 34h4v1h-4zM52 4h4v6h-4zM41 90h1v6h-1zM86 68h4v3h-4zM29 91h1v6h-1zM91 19h3v2h-3zM9 97h1v1h-1zM119 38h2v2h-2zM9 35h4v6h-4zM9 23h4v2h-4zM118 43h4v2h-4zM54 80h3v3h-3zM63 13h1v1h-1zM21 54h3v4h-3zM87 88h1v6h-1zM69 21h2v3h-2zM63 70h4v3h-4zM119 45h1v2h-1zM115 49h3v4h-3zM16 90h4v2h-4zM5 36h1v4h-1zM90 74h4v4h-4zM28 41h2v1h-2zM118 29h3v2h-3zM19 72h4v1h-4zM12 83h3v3h-3zM47 21h1v3h-1zM55 94h2v3h-2zM29 22h4v6h-4zM77 82h2v3h-2zM34 92h1v4h-1zM49 31h1v1h-1zM0 82h2v3h-2zM0 68h1v5h-1zM119 81h4v2h-4zM102 14h2v4h-2zM110 62h4v3h-4zM86 48h2v6h-2zM107 94h1v6h-1zM43 89h2v4h-2zM98 30h3v3h-3zM77 47h4v4h-4zM82 79h2v2h-2zM23 80h2v1h-2zM122 1h3v1h-3zM50 88h3v1h-3zM96 18h1v5h-1zM54 87h4v2h-4zM82 83h1v4h-1zM5 47h4v6h-4zM120 52h2v2h-2zM115 62h1v1h-1zM60 21h3v3h-3zM78 92h3v3h-3zM59 61h2v1h-2zM6 8h3v1h-3zM17 3h2v5h-2zM112 25h2v5h-2zM38 71h4v3h-4zM95 38h1v4h-1zM81 67h2v2h-2zM93 89h1v6h-1zM22 40h1v3h-1zM61 48h1v6h-1zM10 95h3v4h-3zM47 24h2v1h-2zM15 40h1v4h-1zM7 39h1v3h-1zM83 6h2v2h-2zM94 6h4v6h-4zM112 94h4v1h-4zM11 50h2v2h-2zM63 92h3v6h-3zM54 16h4v4h-4zM45 40h1v6h-1zM71 49h3v1h-3zM98 35h4v6h-4zM66 92h4v4h-4zM66 38h1v4h-1zM115 86h4v3h-4zM45 9h2v6h-2zM32 82h1v6h-1zM52 6h2v3h-2zM40 7h4v3h-4zM96 50h3v4h-3zM68 17h2v6h-2zM36 0h1v4h-1zM111 17h1v1h-1zM52 94h2v3h-2zM58 39h4v6h-4zM98 72h2v3h-2zM109 58h3v4h-3zM26 79h3v2h-3zM84 96h3v4h-3zM126 88h1v6h-1zM84 30h3v3h-3zM107 58h2v3h-2zM123 29h2v1h-2zM108 61h4v3h-4zM33 86h2v6h-2zM96 72h4v3h-4zM116 60h4v3h-4zM22 94h3v4h-3zM24 63h2v6h-2zM85 92h1v2h-1zM71 36h3v4h-3zM30 4h3v3h-3zM98 47h1v6h-1zM37 88h2v3h-2zM32 25h1v2h-1zM75 14h4v6h-4zM47 78h4v4h-4zM112 25h3v2h-3zM30 28h2v5h-2zM125 61h2v4h-2zM67 6h3v5h-3zM6 38h1v3h-1zM84 19h4v5h-4zM77 45h3v2h-3zM23 69h1v2h-1zM15 95h4v3h-4zM26 6h1v3h-1zM48 53h4v4h-4zM126 26h1v3h-1zM112 2h3v4h-3zM9 95h1v1h-1zM68 31h2v5h-2zM125 24h1v5h-1zM98 56h3v1h-3zM96 91h4v2h-4zM98 19h3v6h-3zM103 65h1v6h-1zM112 86h1v3h-1zM23 13h2v5h-2zM86 27h1v1h-1zM36 3h4v4h-4zM22 7h1v2h-1zM89 73h2v5h-2zM3 4h3v4h-3zM45 31h2v2h-2zM58 42h1v3h-1zM56 36h2v4h-2zM31 19h2v4h-2zM83 10h4v1h-4zM51 62h2v6h-2zM75 67h2v5h-2zM76 31h4v2h-4zM14 71h1v2h-1zM115 78h1v6h-1zM99 96h4v2h-4zM116 42h2v2h-2zM117 73h4v4h-4zM48 85h4v6h-4zM64 39h2v5h-2zM110 0h2v1h-2zM80 59h4v4h-4zM98 26h2v6h-2zM73 67h3v1h-3zM104 60h1v3h-1zM63 65h3v4h-3zM29 45h4v5h-4zM55 34h4v6h-4zM85 55h3v6h-3zM113 32h1v5h-1zM92 32h3v1h-3zM17 48h4v6h-4zM49 45h2v3h-2zM29 21h4v6h-4zM85 33h4v1h-4zM75 72h3v4h-3zM78 37h2v5h-2zM65 46h2v4h-2zM73 4h3v4h-3zM63 3h4v5h-4zM29 1h2v3h-2zM30 77h4v6h-4zM55 12h2v2h-2zM14 50h3v5h-3zM96 89h2v3h-2zM83 28h3v5h-3zM95 53h1v6h-1zM56 17h3v2h-3zM25 69h1v5h-1zM44 57h2v4h-2zM96 62h1v2h-1zM64 62h3v3h-3zM103 5h2v4h-2zM51 93h4v2h-4zM113 54h1v1h-1zM43 15h3v1h-3zM43 5h1v4h-1zM51 12h2v5h-2zM93 17h2v5h-2zM116 76h2v2h-2zM22 13h3v2h-3zM27 76h3v3h-3zM10 27h1v5h-1zM24 59h1v6h-1zM35 89h1v4h-1zM81 37h1v5h-1zM120 2h4v1h-4zM14 24h4v2h-4zM57 83h1v6h-1zM106 69h1v5h-1zM81 14h1v6h-1zM79 25h2v1h-2zM101 80h4v2h-4zM27 78h1v1h-1zM85 59h1v5h-1zM102 61h4v1h-4zM46 18h4v2h-4zM36 0h3v3h-3zM30 38h1v6h-1zM48 34h1v3h-1zM27 83h2v1h-2zM103 91h4v4h-4zM6 8h1v2h-1zM7 23h1v6h-1zM22 81h3v1h-3zM14 96h4v1h-4zM113 22h4v1h-4zM105 10h3v6h-3zM35 57h4v5h-4zM45 81h1v1h-1zM42 16h2v4h-2zM96 38h4v1h-4zM5 64h1v1h-1zM21 64h3v1h-3zM91 25h4v1h-4zM78 94h4v4h-4zM53 14h1v4h-1zM57 52h1v5h-1zM71 67h1v5h-1zM73 54h3v5h-3zM93 70h4v6h-4zM95 19h4v2h-4zM62 83h3v1h-3zM99 90h2v2h-2zM123 75h3v6h-3zM102 16h2v3h-2zM107 30h3v2h-3zM37 79h4v5h-4zM71 31h3v3h-3zM71 52h3v6h-3zM15 4h1v3h-1zM1 59h2v2h-2zM45 18h3v2h-3zM66 37h1v4h-1zM9 87h1v1h-1zM117 68h4v2h-4zM74 51h3v4h-3zM0 30h4v5h-4zM83 27h4v4h-4zM102 20h3v2h-3zM75 61h1v4h-1zM100 31h1v2h-1zM26 68h2v4h-2zM83 40h1v1h-1zM5 48h4v2h-4zM28 7h4v1h-4zM64 96h2v5h-2zM83 25h2v5h-2zM62 24h2v1h-2zM62 12h1v3h-1zM30 81h4v2h-4zM90 41h3v3h-3zM38 30h4v6h-4zM94 76h4v5h-4zM79 2h4v4h-4zM21 59h3v2h-3zM58 20h4v5h-4zM86 81h3v1h-3zM26 83h3v6h-3zM41 14h2v4h-2zM4 89h3v4h-3zM51 92h1v2h-1zM28 73h4v3h-4zM88 26h3v1h-3zM51 85h4v1h-4zM48 40h1v3h-1zM61 58h3v2h-3zM54 5h2v3h-2zM17 47h3v2h-3zM84 68h4v5h-4zM62 8h4v1h-4zM81 13h3v4h-3zM100 100h1v1h-1zM111 10h4v3h-4zM19 99h4v1h-4zM109 45h2v4h-2zM24 72h3v5h-3zM6 89h1v4h-1zM74 67h4v4h-4zM90 100h1v1h-1zM47 78h2v4h-2zM55 3h4v5h-4zM86 13h4v1h-4zM102 49h1v1h-1zM77 30h4v2h-4zM55 72h3v6h-3zM120 65h4v4h-4zM110 28h1v5h-1zM11 86h2v4h-2zM23 81h3v2h-3zM51 76h3v3h-3zM33 80h2v2h-2zM9 40h1v6h-1zM58 34h2v4h-2zM101 12h3v2h-3zM13 55h1v5h-1zM9 65h1v4h-1zM87 0h1v3h-1zM101 15h2v3h-2zM52 13h2v6h-2zM79 9h1v5h-1zM88 32h4v3h-4zM123 31h4v5h-4zM69 86h2v6h-2zM10 41h4v2h-4zM43 43h1v1h-1zM44 22h3v4h-3zM3 94h4v3h-4zM19 11h1v2h-1zM11 28h3v5h-3zM28 35h2v5h-2zM51 60h3v2h-3zM84 71h2v1h-2zM38 72h4v6h-4zM58 70h2v6h-2zM119 40h1v1h-1zM118 68h2v3h-2zM79 97h1v2h-1zM120 65h2v1h-2zM44 70h1v4h-1zM42 51h2v2h-2zM39 53h2v4h-2zM102 11h2v6h-2zM26 82h3v2h-3zM75 55h1v6h-1zM3 42h3v4h-3zM65 69h4v3h-4zM49 58h3v3h-3zM55 89h2v6h-2zM13 64h4v5h-4zM97 77h4v1h-4zM60 75h3v5h-3zM107 58h4v1h-4zM36 87h3v1h-3zM62 17h1v1h-1zM76 45h1v5h-1zM22 53h4v1h-4zM72 31h1v3h-1zM121 67h2v3h-2zM68 40h2v5h-2zM72 19h4v5h-4zM120 59h2v1h-2zM88 44h3v2h-3zM19 60h2v4h-2zM4 91h1v4h-1zM59 25h2v2h-2zM6 74h1v5h-1zM94 89h2v2h-2zM113 39h2v1h-2zM90 0h2v6h-2zM38 7h2v1h-2zM123 75h2v4h-2zM46 11h4v4h-4zM53 43h2v1h-2zM50 9h2v6h-2zM19 42h2v6h-2zM2 83h4v2h-4zM94 16h1v3h-1zM32 6h3v4h-3zM119 21h3v3h-3zM19 44h3v4h-3zM70 39h1v5h-1zM113 18h3v6h-3zM108 35h3v3h-3zM44 80h3v5h-3zM23 23h4v3h-4zM124 21h3v3h-3zM62 20h3v2h-3zM28 13h1v1h-1zM114 82h2v3h-2zM65 59h4v4h-4zM86 88h4v4h-4zM47 48h3v1h-3zM7 94h4v6h-4zM96 74h4v6h-4zM51 5h2v2h-2zM114 5h2v6h-2zM57 17h4v6h-4zM61 26h2v1h-2zM88 41h3v6h-3zM91 11h3v1h-3zM59 1h2v3h-2zM123 75h1v1h-1zM7 0h4v4h-4zM42 88h4v3h-4zM105 23h4v3h-4zM10 64h2v1h-2zM38 55h1v5h-1zM54 51h3v6h-3zM25 83h1v5h-1zM121 29h3v2h-3zM59 12h2v5h-2zM80 32h4v3h-4zM11 65h1v6h-1zM45 90h1v2h-1zM116 62h3v6h-3zM113 14h2v6h-2zM71 21h3v6h-3zM102 89h1v3h-1zM16 75h3v3h-3zM104 18h3v2h-3zM3 33h2v6h-2zM14 30h2v4h-2zM63 55h4v1h-4zM67 31h3v3h-3zM105 59h2v1h-2zM92 61h4v2h-4zM49 39h1v3h-1zM84 7h2v2h-2zM92 95h1v5h-1zM90 81h1v4h-1zM41 73h2v4h-2zM56 44h1v2h-1zM104 63h1v6h-1zM7 56h4v5h-4zM75 94h3v1h-3zM120 92h1v6h-1zM51 71h4v1h-4zM19 92h1v5h-1zM44 54h4v2h-4zM14 80h1v1h-1zM43 95h3v4h-3zM53 28h3v5h-3zM72 29h1v3h-1zM53 79h1v2h-1zM98 57h2v6h-2zM86 28h2v3h-2zM76 98h1v2h-1zM96 5h2v6h-2zM98 8h1v5h-1zM73 95h2v2h-2zM54 33h3v3h-3zM70 86h1v4h-1zM60 17h1v6h-1zM37 65h3v3h-3zM8 20h2v1h-2zM60 31h1v4h-1zM74 64h3v5h-3zM18 4h2v3h-2zM22 67h4v6h-4zM77 93h4v3h-4zM92 26h2v5h-2zM60 74h1v6h-1zM35 33h4v5h-4zM62 90h3v3h-3zM91 15h3v4h-3zM112 27h2v1h-2zM38 24h4v6h-4zM30 90h4v2h-4zM81 74h2v2h-2zM71 56h2v5h-2zM99 4h1v2h-1zM38 97h3v3h-3zM65 74h2v5h-2zM104 40h4v5h-4zM31 47h3v1h-3zM37 46h4v2h-4zM6 26h4v6h-4zM56 70h2v6h-2zM117 29h3v5h-3zM19 0h3v6h-3zM42 0h1v3h-1zM87 72h2v6h-2zM99 47h2v4h-2zM57 19h4v1h-4zM88 91h3v2h-3zM75 14h3v1h-3zM78 83h2v1h-2zM8 35h1v3h-1zM17 37h1v1h-1zM34 84h2v1h-2zM99 74h1v5h-1zM114 68h2v3h-2zM106 43h4v6h-4zM94 51h3v1h-3zM35 80h4v6h-4zM13 33h4v3h-4zM5 99h4v1h-4zM32 29h3v2h-3zM101 16h3v1h-3zM11 31h1v2h-1zM18 64h4v2h-4zM5 45h3v4h-3zM11 18h1v2h-1zM67 48h2v3h-2zM78 51h4v3h-4zM23 70h1v2h-1zM43 94h2v1h-2zM52 77h3v3h-3zM79 37h3v4h-3zM24 13h1v5h-1zM123 40h4v1h-4zM54 24h4v1h-4zM8 14h3v2h-3zM96 68h1v2h-1zM74 36h4v1h-4zM15 13h3v1h-3zM27 53h2v5h-2zM95 85h4v3h-4zM11 55h4v3h-4zM26 84h3v3h-3zM115 97h2v1h-2zM105 38h4v5h-4zM11 70h4v4h-4zM79 33h4v3h-4zM80 2h1v5h-1zM92 63h3v1h-3zM76 85h2v3h-2zM67 91h4v6h-4zM94 5h3v4h-3zM61 62h1v4h-1zM5 2h2v6h-2zM19 63h3v6h-3zM38 86h2v1h-2zM49 79h3v2h-3zM82 92h3v6h-3zM10 51h2v6h-2zM36 83h1v6h-1zM102 87h1v3h-1zM103 72h3v4h-3zM6 62h1v5h-1zM63 48h2v3h-2zM86 69h1v5h-1zM24 22h3v2h-3zM22 32h4v5h-4zM1 82h1v3h-1zM84 89h3v4h-3zM39 57h2v2h-2zM82 78h3v1h-3zM20 48h1v5h-1zM27 78h4v6h-4zM7 69h4v4h-4zM108 39h2v3h-2zM50 82h2v1h-2zM70 80h2v2h-2zM48 3h2v1h-2zM116 12h2v2h-2zM8 2h3v2h-3zM120 42h2v3h-2zM90 82h4v4h-4zM69 55h4v1h-4zM120 45h3v5h-3zM71 49h4v4h-4zM25 38h4v2h-4zM23 91h3v4h-3zM45 29h1v4h-1zM90 80h2v5h-2zM58 77h1v3h-1zM83 30h4v2h-4zM26 58h3v1h-3z" fill="#d3d3d3"/></pattern><pattern id="g1" width="137" height="103" patternUnits="userSpaceOnUse"><path d="M76 35h2v3h-2zM75 68h3v4h-3zM104 78h3v1h-3zM25 95h4v5h-4zM116 31h3v5h-3zM75 35h1v1h-1zM31 97h2v2h-2zM69 92h4v5h-4zM76 37h1v4h-1zM93 23h3v2h-3zM109 51h1v4h-1zM2 20h3v3h-3zM80 53h2v5h-2zM86 79h1v5h-1zM84 50h3v1h-3zM114 10h1v5h-1zM64 61h4v3h-4zM35 83h2v5h-2zM30 89h4v5h-4zM97 0h3v5h-3zM71 2h2v3h-2zM127 9h3v1h-3zM53 15h4v4h-4zM28 5h4v2h-4zM123 42h3v1h-3zM33 10h1v4h-1zM121 64h4v1h-4zM96 8h2v5h-2zM30 80h4v2h-4zM99 69h2v2h-2zM62 84h3v2h-3zM101 59h1v2h-1zM10 59h2v1h-2zM131 67h1v2h-1zM72 45h4v3h-4zM18 94h4v5h-4zM87 30h1v2h-1zM37 38h4v3h-4zM78 51h4v1h-4zM7 86h1v2h-1zM48 84h2v1h-2zM53 31h2v4h-2zM71 14h2v3h-2zM131 33h1v3h-1zM18 8h3v5h-3zM99 70h1v2h-1zM37 71h4v4h-4zM87 87h3v3h-3zM119 33h1v1h-1zM72 11h2v3h-2zM126 95h2v4h-2zM65 45h4v2h-4zM16 86h3v3h-3zM94 90h1v3h-1zM21 78h2v2h-2zM37 94h4v5h-4zM89 30h2v3h-2zM49 80h1v4h-1zM83 31h4v5h-4zM110 13h3v4h-3zM22 32h1v5h-1zM127 68h4v5h-4zM88 47h2v2h-2zM70 51h4v1h-4zM28 0h4v3h-4zM40 17h1v4h-1zM54 25h3v3h-3zM94 13h1v3h-1zM118 92h1v3h-1zM59 37h4v4h-4zM92 95h2v5h-2zM112 44h1v3h-1zM116 67h3v4h-3zM30 11h2v2h-2zM119 61h4v4h-4zM77 42h1v4h-1zM117 86h4v5h-4zM80 47h3v2h-3zM53 28h1v5h-1zM88 95h4v5h-4zM89 56h1v5h-1zM18 69h2v1h-2zM74 96h3v5h-3zM126 31h1v2h-1zM45 85h2v5h-2zM75 2h3v2h-3zM84 40h3v4h-3zM28 58h1v1h-1zM52 52h3v5h-3zM85 93h2v4h-2zM29 30h1v1h-1zM48 42h2v3h-2zM53 26h4v5h-4zM89 50h4v3h-4zM120 9h3v1h-3zM29 27h1v2h-1zM13 2h2v2h-2zM84 69h4v3h-4zM118 46h3v2h-3zM36 13h1v3h-1zM117 82h2v1h-2zM58 56h3v2h-3zM6 53h2v5h-2zM13 55h3v5h-3zM43 65h1v2h-1zM20 89h2v1h-2zM80 33h1v1h-1zM110 81h4v1h-4zM3 26h1v2h-1zM110 77h4v1h-4zM96 68h2v1h-2zM87 44h3v3h-3zM26 99h2v3h-2zM76 2h4v5h-4zM54 12h4v5h-4zM36 13h4v2h-4zM130 29h1v5h-1zM98 51h3v4h-3zM29 3h2v4h-2zM133 26h1v1h-1zM88 79h1v3h-1zM45 17h1v4h-1zM26 49h2v1h-2zM1 6h3v4h-3zM97 7h2v4h-2zM130 82h2v1h-2zM126 52h2v1h-2zM85 97h3v2h-3zM108 26h2v1h-2zM60 80h3v4h-3zM57 6h1v1h-1zM58 58h2v5h-2zM41 18h1v4h-1zM11 100h3v3h-3zM95 62h1v3h-1zM48 72h4v4h-4zM3 5h3v3h-3zM44 78h2v1h-2zM84 18h1v4h-1zM7 36h2v2h-2zM120 90h4v2h-4zM47 96h1v3h-1zM9 61h2v2h-2zM47 82h4v3h-4zM48 66h2v4h-2zM10 13h3v1h-3zM107 18h3v3h-3zM40 80h3v2h-3zM32 2h4v3h-4zM50 56h2v3h-2zM5 82h2v1h-2zM60 73h1v4h-1zM12 86h3v2h-3zM90 19h2v4h-2zM18 28h3v2h-3zM47 62h4v5h-4zM73 88h1v5h-1zM120 32h3v4h-3zM113 11h3v2h-3zM2 29h1v2h-1zM91 81h1v5h-1zM5 37h3v3h-3zM121 81h4v1h-4zM64 97h1v1h-1zM99 62h1v5h-1zM124 39h3v4h-3zM119 65h1v1h-1zM17 90h4v4h-4zM69 50h2v4h-2zM132 38h4v5h-4zM12 22h4v5h-4zM58 51h4v2h-4zM121 18h2v4h-2zM3 40h2v4h-2zM59 23h4v5h-4zM126 84h2v3h-2zM66 6h1v5h-1zM19 79h3v1h-3zM81 40h4v2h-4zM69 31h4v3h-4zM100 77h3v1h-3zM83 86h2v5h-2zM15 99h3v2h-3zM18 81h2v1h-2zM96 41h4v2h-4zM101 94h4v1h-4zM126 54h2v2h-2zM120 72h1v1h-1zM6 18h1v1h-1zM69 45h2v3h-2zM18 20h1v3h-1zM43 74h4v2h-4zM21 19h1v1h-1zM4 9h1v3h-1zM53 63h2v3h-2zM89 47h1v3h-1zM35 66h3v3h-3zM11 46h4v3h-4zM50 58h4v1h-4zM50 7h2v3h-2zM27 76h1v4h-1zM105 22h2v4h-2zM121 53h2v1h-2zM27 51h2v4h-2zM37 30h1v4h-1zM0 67h3v5h-3zM3 20h4v2h-4zM92 72h4v2h-4zM19 11h3v2h-3zM5 33h4v1h-4zM127 72h4v5h-4zM81 68h3v4h-3zM33 95h1v5h-1zM88 85h4v4h-4zM8 92h3v4h-3zM29 97h3v3h-3zM90 91h3v3h-3zM101 60h1v2h-1zM68 56h4v5h-4zM67 46h1v4h-1zM41 67h3v3h-3zM48 9h2v2h-2zM39 61h4v4h-4zM53 3h3v3h-3zM95 10h3v4h-3zM103 96h4v3h-4zM133 98h1v2h-1zM3 99h4v3h-4zM59 68h1v4h-1zM12 51h3v3h-3zM66 84h4v1h-4zM9 94h3v3h-3zM87 65h3v4h-3zM15 7h1v1h-1zM132 8h3v1h-3zM2 52h1v2h-1zM108 49h4v3h-4zM82 41h4v1h-4zM83 41h2v2h-2zM129 91h2v3h-2zM79 58h2v3h-2zM69 29h4v5h-4zM53 20h2v1h-2zM92 99h1v3h-1zM15 1h1v2h-1zM12 82h4v1h-4zM55 62h3v2h-3zM133 89h4v5h-4zM14 17h2v1h-2zM113 39h1v2h-1zM129 26h1v3h-1zM81 83h3v2h-3zM111 48h3v5h-3zM127 54h4v3h-4zM105 76h4v4h-4zM120 94h2v1h-2zM58 32h3v2h-3zM134 78h1v5h-1zM84 40h4v5h-4zM57 82h3v1h-3zM4 73h4v3h-4zM73 65h2v2h-2zM7 16h3v2h-3zM61 49h3v1h-3zM71 43h4v2h-4zM18 11h4v5h-4zM97 12h1v1h-1zM6 13h4v4h-4zM88 68h2v5h-2zM118 49h4v4h-4zM45 69h1v2h-1zM56 6h3v1h-3zM39 3h1v2h-1zM91 4h3v3h-3zM36 36h3v4h-3zM119 18h2v4h-2zM6 51h1v5h-1zM60 13h1v3h-1zM60 63h4v5h-4zM80 2h3v1h-3zM21 10h2v4h-2zM16 34h4v5h-4zM53 71h3v4h-3zM120 3h4v1h-4z" fill="#d3d3d3"/></pattern><pattern id="h3" width="113" height="107" patternUnits="userSpaceOnUse"><path d="M101 72h2v10h-2zM45 7h1v4h-1zM110 19h3v2h-3zM103 94h3v6h-3zM17 60h3v9h-3zM53 72h2v2h-2zM38 11h1v9h-1zM4 93h2v9h-2zM1 36h4v8h-4zM98 44h4v8h-4zM62 34h3v9h-3zM49 36h1v9h-1zM97 103h2v3h-2zM54 91h4v10h-4zM11 42h1v2h-1zM89 4h4v10h-4zM18 20h3v9h-3zM69 55h1v6h-1zM60 59h1v7h-1zM27 79h1v6h-1zM9 61h1v2h-1zM55 38h2v2h-2zM57 39h2v9h-2zM71 96h1v9h-1zM92 23h1v3h-1zM55 2h3v6h-3zM45 90h4v7h-4zM7 58h1v9h-1zM69 11h2v8h-2zM23 65h4v8h-4zM75 30h4v4h-4zM59 80h2v5h-2zM58 10h3v10h-3zM70 83h1v2h-1zM11 67h1v6h-1zM5 37h4v8h-4zM56 49h4v2h-4zM49 65h1v10h-1zM28 98h2v6h-2zM82 60h2v9h-2zM43 86h4v9h-4zM43 32h4v9h-4zM20 33h2v6h-2zM30 97h4v9h-4zM101 35h2v3h-2zM63 69h3v10h-3zM15 87h4v6h-4zM19 87h4v5h-4zM97 52h2v9h-2zM93 47h3v3h-3zM37 90h2v3h-2zM51 16h2v10h-2zM86 94h4v7h-4zM58 76h1v3h-1zM6 75h2v10h-2zM61 102h3v5h-3zM55 98h1v4h-1zM62 101h2v6h-2zM74 73h1v7h-1zM43 90h4v10h-4zM82 88h4v6h-4zM73 36h2v2h-2zM9 44h3v5h-3zM15 96h4v8h-4zM22 19h2v9h-2zM53 55h4v8h-4zM39 16h2v2h-2zM6 49h4v8h-4zM4 98h1v9h-1zM45 42h1v7h-1zM52 60h1v8h-1zM0 71h3v2h-3zM51 55h3v8h-3zM15 11h3v6h-3zM56 72h2v4h-2zM103 41h1v2h-1zM4 29h1v4h-1zM68 45h4v5h-4zM31 23h3v7h-3zM51 14h1v7h-1zM16 80h2v6h-2zM11 18h4v6h-4zM67 11h2v10h-2zM35 95h1v6h-1zM2 4h4v6h-4zM43 63h3v7h-3zM29 44h4v8h-4zM48 95h1v8h-1zM76 61h4v5h-4zM81 77h3v4h-3zM66 23h4v9h-4zM105 60h4v6h-4zM85 29h1v8h-1zM57 54h4v4h-4zM85 16h3v3h-3zM51 45h4v6h-4zM70 97h4v10h-4zM5 37h2v9h-2zM29 73h1v8h-1zM64 20h1v2h-1zM62 58h3v4h-3zM61 48h3v4h-3zM8 36h4v4h-4zM81 8h1v3h-1zM44 67h4v8h-4zM81 42h4v6h-4zM58 65h3v6h-3zM109 58h4v4h-4zM14 66h2v4h-2zM104 20h1v7h-1zM93 14h3v10h-3zM98 18h3v9h-3zM48 55h1v5h-1zM34 10h3v7h-3zM18 82h2v9h-2zM83 54h4v10h-4zM36 6h1v2h-1zM84 90h1v2h-1zM97 74h2v9h-2zM6 27h2v10h-2zM31 25h1v6h-1zM41 4h1v7h-1zM47 32h4v7h-4zM9 83h3v5h-3zM111 60h1v6h-1zM39 63h1v7h-1zM76 23h2v9h-2zM107 26h4v8h-4zM60 51h3v9h-3zM69 18h2v4h-2zM1 50h3v10h-3zM24 53h4v10h-4zM19 31h3v7h-3zM57 70h4v6h-4zM85 73h1v2h-1zM26 57h4v4h-4zM61 14h3v4h-3zM25 84h3v10h-3zM78 97h4v9h-4zM12 4h2v8h-2zM19 102h1v2h-1zM39 84h4v3h-4zM55 8h4v8h-4zM100 34h4v8h-4zM99 85h4v2h-4zM104 56h4v8h-4zM15 60h1v3h-1zM44 23h1v6h-1zM6 90h4v3h-4zM77 39h4v10h-4zM102 28h1v6h-1zM60 18h3v2h-3zM74 62h2v3h-2zM93 2h3v3h-3zM87 89h3v9h-3zM61 79h3v9h-3zM36 61h2v4h-2zM96 57h4v3h-4zM88 91h2v3h-2zM35 35h3v3h-3zM47 83h4v3h-4zM110 49h2v8h-2zM90 20h4v10h-4zM83 67h3v8h-3zM81 7h1v5h-1zM6 66h1v10h-1zM5 92h3v3h-3zM40 32h2v10h-2zM88 11h2v10h-2zM34 40h1v10h-1zM8 13h4v5h-4zM94 14h4v6h-4zM92 62h1v7h-1zM101 17h2v7h-2zM61 56h3v10h-3zM8 54h4v8h-4zM79 66h1v10h-1zM99 86h1v2h-1zM45 16h4v2h-4zM92 26h4v4h-4zM33 23h3v10h-3zM1 60h2v9h-2zM86 93h3v8h-3zM81 29h1v3h-1zM65 31h4v10h-4zM75 12h1v10h-1zM84 32h2v4h-2zM41 9h2v7h-2zM9 54h2v8h-2zM105 51h4v4h-4zM0 95h3v9h-3zM43 23h1v3h-1zM42 60h2v8h-2zM15 82h4v9h-4zM81 52h3v2h-3zM50 52h4v8h-4zM22 8h2v10h-2zM96 92h1v3h-1zM1 18h2v2h-2zM101 41h1v7h-1zM38 87h4v3h-4zM72 91h1v5h-1zM74 57h2v10h-2zM55 81h4v5h-4zM91 65h4v3h-4zM80 48h4v9h-4zM65 86h4v3h-4zM99 92h4v2h-4zM22 36h2v5h-2zM4 39h4v2h-4zM97 75h2v9h-2zM21 3h2v9h-2zM86 61h1v6h-1zM61 85h1v3h-1zM22 21h3v10h-3zM100 30h2v9h-2zM73 80h4v7h-4zM23 8h4v8h-4zM6 81h2v7h-2zM84 28h2v6h-2zM85 27h2v7h-2zM91 47h4v6h-4zM71 64h4v7h-4zM74 21h4v10h-4zM88 88h2v3h-2zM45 17h1v6h-1zM69 10h4v2h-4zM47 51h3v10h-3zM62 59h3v6h-3zM112 50h1v3h-1zM35 71h2v8h-2zM42 71h1v9h-1zM42 86h4v3h-4zM66 97h1v5h-1zM93 90h1v9h-1zM85 90h3v10h-3zM49 74h3v3h-3zM93 90h4v3h-4zM104 66h4v5h-4zM109 31h1v5h-1zM29 20h3v7h-3zM32 71h2v10h-2zM28 36h1v8h-1zM19 24h3v7h-3zM6 23h4v9h-4zM75 40h2v5h-2zM110 20h2v6h-2zM2 85h3v7h-3zM31 23h4v8h-4zM24 31h2v8h-2zM105 39h4v5h-4zM41 43h3v6h-3zM58 72h3v8h-3zM98 62h4v5h-4zM22 27h4v6h-4zM69 86h4v8h-4z" fill="#ffffff"/></pattern><pattern id="h1" width="119" height="109" patternUnits="userSpaceOnUse"><path d="M8 12h4v9h-4zM85 10h3v7h-3zM62 72h3v12h-3zM72 95h3v3h-3zM86 17h4v7h-4zM91 21h3v4h-3zM2 47h1v5h-1zM82 101h3v5h-3zM92 34h3v6h-3zM117 6h2v12h-2zM111 34h3v10h-3zM109 44h1v3h-1zM12 46h3v7h-3zM95 57h2v6h-2zM27 4h2v9h-2zM54 79h1v2h-1zM24 13h2v11h-2zM42 4h4v9h-4zM70 60h1v9h-1zM63 60h1v9h-1zM94 46h1v12h-1zM93 45h2v10h-2zM29 70h3v5h-3zM79 34h3v2h-3zM25 55h4v8h-4zM76 19h4v8h-4zM49 7h3v12h-3zM19 3h2v10h-2zM74 9h2v9h-2zM76 36h1v8h-1zM76 95h1v6h-1zM37 62h3v6h-3zM54 9h1v7h-1zM14 77h1v3h-1zM84 6h2v4h-2zM76 57h4v3h-4zM10 26h1v9h-1zM43 101h2v4h-2zM26 42h3v11h-3zM42 93h4v9h-4zM29 96h2v5h-2zM61 85h1v10h-1zM98 59h1v2h-1zM108 67h1v3h-1zM39 86h1v8h-1zM106 17h2v2h-2zM114 4h2v7h-2zM22 68h3v3h-3zM13 103h4v3h-4zM56 33h4v6h-4zM85 48h3v9h-3zM46 57h4v5h-4zM58 62h3v8h-3zM93 85h1v10h-1zM57 47h1v2h-1zM44 11h2v12h-2zM100 95h4v4h-4zM75 22h2v12h-2zM65 93h4v11h-4zM114 65h4v3h-4zM89 1h3v11h-3zM77 44h2v9h-2zM58 90h2v5h-2zM19 88h2v4h-2zM114 15h3v8h-3zM87 96h1v11h-1zM32 30h4v8h-4zM45 63h2v11h-2zM82 82h1v7h-1zM82 21h3v7h-3zM63 49h3v4h-3zM43 41h1v7h-1zM50 2h4v9h-4zM9 41h4v5h-4zM90 6h3v9h-3zM47 0h4v10h-4zM88 36h3v7h-3zM111 49h3v4h-3zM88 57h4v7h-4zM65 66h4v8h-4zM39 35h2v8h-2zM94 13h2v11h-2zM99 43h1v9h-1zM110 38h2v9h-2zM50 91h4v11h-4z" fill="#ffffff"/></pattern><pattern id="p4" width="113" height="127" patternUnits="userSpaceOnUse"><path d="M13 39h4v23h-4zM83 89h4v23h-4zM50 50h2v7h-2zM51 41h3v9h-3zM11 81h2v40h-2zM37 49h2v17h-2zM65 3h2v30h-2zM11 64h3v33h-3zM45 50h2v29h-2zM73 43h2v27h-2zM43 25h4v26h-4zM74 23h2v38h-2zM15 19h3v10h-3zM94 41h4v30h-4zM0 46h3v34h-3zM35 67h3v33h-3zM82 74h2v30h-2zM47 71h3v16h-3zM29 38h4v40h-4zM109 11h4v15h-4zM91 79h4v27h-4zM5 30h3v19h-3zM107 12h4v26h-4zM36 79h2v17h-2zM31 75h2v21h-2zM62 12h3v25h-3zM60 72h4v25h-4zM13 31h2v19h-2zM74 91h2v36h-2zM87 14h4v32h-4zM102 81h3v30h-3zM67 104h2v14h-2zM62 91h3v20h-3zM19 75h4v8h-4zM43 42h4v29h-4zM77 62h2v9h-2zM19 73h3v24h-3zM63 66h2v18h-2zM32 37h3v34h-3zM13 21h2v27h-2zM16 20h2v6h-2zM109 86h4v7h-4zM88 42h2v28h-2zM95 25h3v16h-3zM10 57h2v13h-2zM8 68h3v7h-3zM78 40h4v28h-4zM31 23h4v14h-4zM98 81h2v24h-2zM98 41h3v29h-3zM76 66h4v31h-4zM62 102h3v25h-3zM20 76h4v40h-4zM85 17h2v13h-2zM46 56h3v28h-3zM1 77h2v9h-2zM8 67h2v18h-2zM87 3h3v37h-3zM81 14h2v34h-2zM41 1h3v27h-3zM103 33h2v33h-2zM17 38h4v33h-4zM84 16h3v35h-3zM27 9h3v19h-3zM97 49h2v9h-2zM57 81h3v33h-3zM17 92h2v32h-2zM78 27h4v30h-4zM61 0h2v19h-2zM90 8h3v36h-3zM6 49h3v38h-3zM81 0h3v18h-3zM13 57h4v32h-4zM38 97h3v21h-3zM57 67h3v32h-3zM25 57h4v23h-4zM94 65h3v20h-3zM104 38h4v32h-4zM83 89h3v37h-3zM85 8h4v23h-4zM25 66h2v27h-2zM55 55h3v30h-3zM68 31h2v29h-2zM87 84h3v29h-3zM29 53h4v33h-4zM87 82h2v9h-2zM58 19h2v26h-2zM46 63h4v23h-4zM98 28h3v30h-3zM101 98h3v16h-3zM47 4h2v24h-2zM7 95h4v9h-4zM58 31h3v9h-3zM107 18h4v34h-4z" fill="#ffb6c1"/></pattern><pattern id="p2" width="109" height="131" patternUnits="userSpaceOnUse"><path d="M80 68h3v12h-3zM101 0h3v33h-3zM48 54h3v31h-3zM92 61h3v19h-3zM42 51h1v20h-1zM33 48h1v9h-1zM29 99h1v11h-1zM43 47h3v35h-3zM62 7h3v21h-3zM44 99h1v8h-1zM79 13h1v16h-1zM12 85h2v12h-2zM83 24h2v35h-2zM60 68h1v6h-1zM20 82h3v26h-3zM82 98h2v26h-2zM69 59h3v11h-3zM0 79h2v12h-2zM18 2h1v9h-1zM69 57h2v14h-2zM8 10h1v16h-1zM6 8h3v28h-3zM54 25h1v16h-1zM80 14h1v27h-1zM72 39h2v35h-2zM71 21h1v33h-1zM3 66h2v13h-2zM79 63h2v9h-2zM31 90h1v21h-1zM21 102h2v29h-2zM68 89h1v32h-1zM9 45h2v36h-2zM83 21h1v8h-1zM0 99h3v26h-3zM98 41h2v22h-2zM54 42h1v20h-1zM21 1h1v31h-1zM23 18h2v14h-2zM4 3h3v18h-3zM26 45h1v25h-1zM95 33h2v23h-2zM83 94h2v20h-2zM47 58h2v26h-2zM106 57h1v13h-1zM68 40h2v13h-2zM36 81h2v25h-2zM24 4h3v35h-3zM74 41h1v28h-1zM78 66h3v11h-3zM67 25h1v19h-1zM37 50h3v23h-3zM72 34h1v32h-1zM51 21h2v25h-2zM2 50h3v26h-3zM27 32h3v26h-3zM63 9h1v32h-1zM14 41h1v15h-1zM9 10h1v19h-1zM50 17h3v17h-3zM106 93h1v15h-1zM22 35h3v26h-3zM101 88h1v19h-1zM88 51h1v6h-1zM18 86h1v35h-1zM88 96h2v27h-2zM20 50h2v32h-2zM27 31h2v15h-2zM65 91h2v9h-2zM0 109h1v21h-1zM102 93h3v9h-3zM5 10h3v20h-3zM72 68h2v15h-2zM15 95h3v30h-3zM37 30h2v11h-2zM64 16h3v25h-3zM42 99h1v8h-1zM47 16h1v35h-1zM74 66h2v24h-2zM80 7h2v22h-2zM6 60h1v10h-1zM86 65h1v14h-1zM29 54h3v25h-3zM98 46h1v7h-1zM55 107h3v6h-3zM59 18h3v28h-3z" fill="#ffb6c1"/></pattern>
</defs>
<rect width="4798" height="2399" fill="#fff"/>
<g clip-path="url(#pc)" shape-rendering="crispEdges">
<path d="M340 1230L340 1220L340 1216L341 1206L341 1192L341 1183L341 1176L343 1172L342 1160L343 1158L343 1150L342 1147L343 1137L343 1120L344 1116L353 1114L361 1112L368 1118L376 1116L385 1110L393 1118L402 1113L409 1115L418 1119L426 1112L435 1116L442 1118L450 1122L460 1114L467 1111L476 1109L484 1115L484 1128L484 1138L485 1145L486 1153L486 1161L495 1165L503 1160L511 1155L520 1163L527 1165L536 1159L544 1155L552 1156L561 1155L569 1156L578 1159L586 1155L595 1161L603 1161L604 1154L604 1137L605 1129L614 1127L621 1135L629 1125L638 1126L646 1131L655 1124L663 1129L672 1136L680 1131L687 1133L697 1136L705 1136L713 1130L721 1126L729 1126L737 1128L745 1130L754 1125L762 1127L772 1126L779 1134L787 1129L796 1133L803 1131L813 1137L820 1132L828 1127L836 1130L844 1137L853 1126L860 1133L868 1133L878 1133L885 1137L893 1129L902 1128L910 1132L917 1130L926 1136L934 1136L942 1136L950 1128L957 1130L966 1125L974 1128L982 1131L990 1138L1000 1138L1007 1138L1015 1128L1023 1128L1033 1134L1040 1137L1049 1135L1057 1127L1066 1139L1074 1137L1083 1129L1091 1131L1099 1134L1107 1141L1117 1134L1124 1139L1133 1132L1142 1142L1151 1133L1159 1138L1160 1153L1160 1154L1159 1159L1160 1179L1161 1181L1161 1189L1160 1203L1161 1203L1162 1215L1170 1212L1178 1212L1188 1210L1196 1213L1205 1216L1214 1214L1221 1215L1229 1216L1238 1215L1238 1206L1239 1192L1239 1186L1239 1185L1239 1172L1240 1166L1240 1152L1240 1146L1240 1145L1241 1134L1241 1124L1249 1130L1257 1125L1265 1124L1273 1123L1282 1123L1290 1126L1297 1129L1306 1123L1312 1127L1321 1117L1329 1116L1337 1116L1346 1125L1354 1117L1361 1123L1370 1126L1378 1117L1385 1119L1394 1127L1401 1120L1409 1115L1417 1120L1425 1116L1433 1123L1441 1121L1449 1113L1458 1121L1467 1114L1475 1124L1481 1115L1490 1114L1497 1117L1507 1119L1513 1124L1523 1115L1530 1120L1539 1121L1546 1115L1556 1124L1565 1116L1574 1124L1582 1117L1591 1117L1599 1123L1608 1125L1616 1124L1624 1122L1633 1125L1641 1120L1649 1120L1658 1124L1666 1130L1674 1127L1683 1125L1691 1124L1700 1131L1709 1124L1716 1134L1725 1133L1734 1129L1742 1129L1742 1136L1743 1148L1743 1152L1743 1165L1742 1169L1742 1173L1743 1181L1742 1192L1743 1198L1743 1216L1743 1217L1743 1228L1751 1225L1759 1223L1768 1225L1775 1234L1784 1225L1791 1225L1799 1221L1808 1228L1816 1224L1823 1221L1832 1222L1839 1222L1847 1225L1856 1229L1864 1231L1873 1231L1880 1226L1888 1234L1897 1231L1905 1222L1913 1233L1921 1231L1929 1223L1937 1228L1945 1232L1954 1229L1961 1230L1968 1224L1977 1223L1986 1223L1993 1229L2002 1230L2008 1228L2018 1232L2026 1228L2033 1230L2041 1231L2049 1222L2057 1231L2067 1231L2074 1228L2082 1228L2090 1231L2097 1230L2106 1223L2114 1231L2121 1229L2130 1222L2139 1230L2146 1230L2155 1228L2162 1227L2170 1233L2180 1234L2187 1222L2196 1232L2203 1227L2212 1224L2219 1224L2227 1223L2235 1234L2243 1232L2252 1233L2260 1224L2268 1228L2267 1219L2268 1205L2267 1202L2267 1190L2268 1184L2268 1171L2267 1174L2268 1167L2268 1158L2268 1143L2268 1143L2268 1126L2267 1116L2269 1106L2269 1100L2268 1091L2268 1086L2269 1076L2269 1074L2269 1063L2269 1058L2268 1047L2269 1036L2277 1038L2285 1037L2292 1029L2301 1036L2309 1029L2318 1025L2326 1033L2334 1027L2342 1024L2350 1018L2360 1017L2367 1019L2376 1024L2383 1016L2391 1011L2399 1012L2408 1013L2408 1018L2409 1031L2409 1041L2409 1045L2409 1053L2409 1058L2409 1078L2410 1080L2410 1094L2410 1094L2411 1106L2419 1105L2429 1112L2436 1111L2446 1106L2446 1091L2446 1093L2445 1081L2447 1069L2447 1066L2447 1059L2447 1039L2448 1036L2448 1027L2456 1031L2465 1026L2473 1022L2481 1015L2490 1016L2497 1020L2505 1012L2514 1017L2521 1009L2530 1013L2530 1003L2538 1004L2546 1002L2553 1005L2562 1001L2571 1010L2579 1009L2586 1001L2595 1010L2602 1002L2611 1004L2619 1003L2628 1007L2634 1001L2643 1003L2651 1007L2660 1009L2667 1005L2675 1011L2683 1010L2692 1002L2701 1003L2708 1006L2716 1006L2724 1003L2734 1009L2741 1003L2750 1004L2757 1004L2765 1003L2775 1015L2783 1013L2790 1016L2799 1007L2806 1015L2815 1014L2823 1011L2831 1009L2839 1011L2847 1020L2856 1015L2864 1021L2873 1014L2880 1020L2889 1010L2898 1015L2905 1013L2912 1022L2922 1016L2929 1021L2937 1012L2945 1024L2955 1022L2962 1017L2970 1025L2979 1016L2986 1017L2995 1013L3003 1026L3010 1026L3019 1017L3028 1027L3035 1020L3044 1021L3051 1028L3060 1026L3069 1027L3076 1024L3084 1021L3092 1027L3101 1020L3108 1021L3117 1018L3126 1022L3134 1030L3141 1022L3150 1020L3158 1029L3166 1023L3174 1028L3182 1027L3191 1030L3198 1029L3206 1031L3214 1028L3222 1030L3230 1024L3239 1023L3246 1028L3256 1026L3262 1027L3271 1031L3278 1034L3287 1027L3296 1032L3303 1022L3311 1023L3319 1034L3327 1034L3335 1033L3344 1025L3351 1034L3360 1029L3367 1024L3375 1024L3384 1025L3391 1030L3399 1022L3407 1031L3415 1026L3424 1033L3431 1023L3440 1027L3447 1031L3456 1025L3464 1028L3473 1027L3480 1027L3488 1027L3497 1034L3504 1028L3512 1032L3521 1023L3529 1029L3537 1028L3544 1029L3553 1023L3562 1032L3569 1025L3577 1028L3585 1025L3594 1030L3601 1025L3610 1034L3617 1026L3626 1036L3633 1030L3641 1036L3650 1036L3657 1035L3665 1035L3674 1030L3681 1035L3690 1027L3698 1031L3705 1026L3715 1034L3722 1025L3730 1031L3730 1043L3737 1046L3746 1048L3755 1045L3762 1045L3771 1043L3779 1043L3787 1043L3795 1038L3803 1044L3812 1048L3819 1044L3827 1044L3836 1040L3844 1039L3851 1045L3859 1047L3869 1048L3875 1046L3884 1046L3892 1052L3901 1050L3909 1049L3918 1042L3926 1046L3932 1052L3942 1050L3949 1041L3957 1050L3965 1052L3973 1051L3982 1047L3989 1043L3998 1047L4006 1041L4015 1043L4023 1050L4031 1044L4039 1043L4046 1050L4055 1053L4064 1050L4072 1043L4079 1050L4087 1053L4095 1055L4104 1047L4111 1049L4119 1053L4127 1054L4137 1052L4144 1051L4152 1050L4159 1048L4168 1044L4177 1052L4185 1051L4192 1046L4200 1053L4209 1045L4217 1047L4226 1048L4233 1053L4242 1054L4251 1048L4258 1050L4267 1048L4275 1058L4282 1052L4291 1047L4299 1055L4307 1056L4316 1060L4324 1052L4332 1049L4339 1054L4348 1050L4356 1049L4363 1062L4372 1052L4381 1057L4388 1061L4396 1054L4406 1051L4413 1061L4422 1051L4429 1061L4437 1061L4445 1055L4453 1055L4462 1057L4471 1062L4478 1059L4486 1062L4495 1060L4504 1063L4512 1056L4520 1065L4528 1064L4537 1056L4547 1062L4554 1063L4563 1064L4571 1059L4574 1065L4576 1080L4578 1089L4579 1096L4581 1106L4584 1118L4586 1124L4588 1134L4589 1125L4591 1111L4593 1100L4592 1092L4595 1087L4597 1073L4597 1067L4599 1059L4608 1052L4618 1060L4627 1060L4636 1050L4645 1054L4653 1055L4654 1067L4654 1066L4655 1085L4653 1083L4653 1091L4655 1109L4655 1115L4654 1123L4654 1124L4654 1142L4655 1144L4654 1149L4655 1160L4655 1170L4655 1186L4656 1193L4655 1190L4656 1204L4656 1211L4655 1222L4656 1230L4647 1235L4639 1234L4631 1223L4625 1233L4616 1223L4608 1230L4600 1226L4593 1228L4585 1227L4575 1227L4568 1233L4560 1225L4552 1224L4544 1233L4536 1232L4528 1229L4519 1235L4511 1235L4503 1226L4496 1235L4489 1228L4480 1226L4472 1230L4464 1233L4456 1228L4448 1225L4440 1232L4432 1226L4424 1234L4416 1225L4407 1235L4399 1226L4392 1233L4383 1225L4375 1227L4367 1230L4359 1228L4352 1236L4345 1225L4335 1225L4328 1236L4320 1233L4312 1226L4303 1225L4295 1229L4288 1229L4280 1233L4272 1232L4264 1225L4256 1229L4247 1235L4240 1231L4231 1229L4224 1233L4216 1234L4208 1235L4199 1232L4192 1228L4183 1225L4176 1234L4167 1232L4159 1229L4151 1232L4144 1232L4136 1226L4127 1234L4120 1230L4112 1224L4104 1226L4096 1236L4088 1225L4080 1231L4072 1230L4063 1234L4056 1229L4048 1226L4040 1229L4032 1225L4023 1228L4015 1227L4007 1224L4000 1229L3991 1228L3984 1226L3975 1236L3968 1226L3959 1229L3952 1225L3944 1234L3935 1230L3928 1226L3920 1228L3912 1234L3903 1230L3895 1231L3887 1234L3879 1235L3871 1228L3863 1229L3856 1223L3847 1227L3839 1227L3831 1229L3823 1232L3816 1236L3808 1224L3800 1235L3792 1225L3782 1232L3776 1224L3767 1232L3759 1225L3752 1226L3743 1228L3736 1235L3728 1226L3720 1231L3712 1232L3704 1234L3695 1226L3688 1230L3680 1229L3671 1231L3662 1226L3654 1230L3646 1230L3639 1230L3632 1231L3624 1223L3615 1230L3608 1232L3599 1228L3590 1236L3583 1232L3575 1224L3568 1232L3560 1228L3551 1230L3542 1235L3535 1233L3528 1228L3519 1228L3511 1230L3503 1226L3495 1229L3487 1234L3479 1234L3470 1230L3464 1230L3455 1232L3447 1228L3439 1227L3431 1232L3423 1224L3415 1235L3406 1224L3398 1223L3391 1236L3383 1232L3375 1235L3367 1232L3359 1233L3350 1232L3343 1232L3334 1233L3326 1226L3320 1234L3311 1232L3303 1234L3294 1231L3287 1227L3279 1228L3271 1232L3263 1224L3254 1224L3247 1234L3239 1236L3230 1224L3223 1231L3215 1236L3206 1229L3198 1232L3190 1225L3183 1223L3175 1225L3167 1225L3158 1225L3150 1233L3142 1233L3135 1224L3127 1233L3118 1233L3111 1232L3103 1229L3095 1227L3086 1233L3079 1224L3070 1234L3063 1228L3055 1226L3046 1230L3039 1228L3031 1229L3023 1225L3015 1228L3006 1232L2999 1228L2991 1236L2982 1231L2975 1224L2967 1233L2959 1228L2951 1236L2942 1231L2935 1229L2927 1228L2919 1231L2910 1234L2902 1223L2895 1229L2887 1234L2879 1224L2871 1234L2862 1231L2855 1235L2847 1232L2838 1228L2831 1231L2823 1226L2814 1236L2807 1231L2798 1230L2791 1227L2782 1234L2775 1225L2766 1234L2759 1231L2750 1235L2742 1230L2734 1226L2727 1226L2718 1228L2710 1229L2701 1225L2694 1237L2686 1225L2678 1234L2670 1231L2661 1230L2655 1224L2646 1235L2638 1231L2630 1234L2623 1236L2615 1234L2605 1227L2598 1226L2589 1225L2583 1231L2575 1229L2565 1235L2558 1231L2551 1225L2542 1227L2535 1232L2526 1232L2517 1229L2511 1236L2501 1226L2494 1227L2487 1235L2477 1234L2470 1234L2463 1232L2453 1224L2447 1233L2438 1232L2430 1231L2422 1225L2413 1227L2405 1230L2397 1227L2389 1232L2381 1233L2375 1224L2367 1226L2359 1235L2350 1225L2343 1225L2334 1235L2326 1229L2318 1234L2309 1232L2301 1226L2294 1233L2286 1225L2278 1227L2269 1225L2261 1234L2254 1226L2246 1228L2239 1225L2230 1224L2221 1232L2213 1230L2205 1227L2199 1228L2190 1237L2181 1225L2173 1235L2165 1233L2157 1236L2149 1234L2141 1225L2134 1234L2126 1226L2117 1235L2109 1231L2102 1226L2093 1233L2085 1224L2078 1231L2069 1227L2062 1231L2054 1234L2045 1226L2037 1233L2029 1233L2021 1234L2014 1235L2005 1230L1997 1235L1989 1235L1982 1226L1973 1228L1966 1228L1958 1223L1950 1229L1942 1225L1934 1234L1926 1228L1918 1228L1910 1224L1901 1236L1893 1230L1885 1230L1877 1236L1869 1226L1862 1227L1853 1224L1845 1233L1838 1224L1829 1231L1821 1233L1814 1235L1805 1224L1797 1230L1789 1227L1781 1229L1774 1231L1765 1225L1757 1233L1750 1234L1741 1229L1733 1234L1726 1229L1717 1234L1709 1227L1702 1229L1694 1234L1686 1234L1677 1224L1670 1236L1661 1227L1653 1232L1644 1230L1637 1229L1629 1224L1622 1236L1613 1236L1606 1234L1596 1235L1589 1232L1581 1232L1574 1231L1565 1232L1557 1230L1549 1236L1541 1227L1533 1225L1525 1236L1517 1227L1508 1230L1500 1225L1493 1227L1485 1227L1477 1225L1469 1234L1461 1231L1453 1226L1445 1229L1437 1231L1429 1227L1421 1226L1413 1228L1405 1224L1397 1235L1389 1231L1382 1227L1373 1227L1364 1225L1357 1235L1349 1224L1341 1229L1332 1225L1325 1236L1317 1225L1309 1228L1302 1232L1293 1234L1285 1233L1277 1233L1269 1234L1260 1235L1252 1235L1245 1234L1238 1230L1229 1231L1221 1234L1213 1231L1205 1229L1196 1233L1189 1229L1180 1228L1173 1234L1165 1230L1156 1226L1149 1225L1140 1231L1132 1236L1125 1235L1116 1236L1109 1229L1100 1224L1093 1231L1085 1236L1078 1231L1069 1230L1060 1232L1053 1228L1045 1228L1037 1232L1028 1225L1021 1229L1013 1231L1005 1236L997 1229L988 1237L981 1230L972 1226L965 1236L956 1230L949 1235L941 1234L932 1235L924 1225L917 1230L908 1226L901 1232L893 1228L884 1232L877 1229L869 1227L860 1223L853 1235L844 1232L837 1230L829 1227L821 1230L812 1231L804 1225L796 1233L788 1225L781 1230L773 1231L764 1224L756 1234L748 1233L740 1226L733 1225L724 1231L716 1229L709 1224L701 1231L693 1229L683 1227L677 1236L669 1228L660 1234L653 1231L645 1230L636 1227L628 1233L621 1227L613 1230L604 1227L596 1228L588 1236L580 1231L572 1230L563 1229L557 1225L548 1228L540 1226L531 1227L524 1232L517 1225L508 1225L499 1234L493 1229L484 1234L477 1228L469 1228L461 1226L452 1230L443 1229L436 1233L428 1235L420 1228L412 1231L403 1235L396 1230L389 1227L380 1228L372 1231L363 1229L357 1226L348 1228Z" fill="#d3d3d3"/>
<path d="M344 1107L355 1102L365 1105L375 1104L386 1104L398 1102L408 1104L420 1112L431 1112L440 1102L452 1100L462 1108L473 1105L484 1106L484 1120L485 1134L485 1142L486 1152L497 1147L508 1155L517 1146L528 1147L539 1149L549 1146L560 1154L571 1156L581 1155L592 1151L603 1152L602 1139L605 1135L605 1120L614 1118L625 1125L635 1115L646 1116L656 1117L664 1125L675 1124L686 1125L695 1119L705 1128L716 1128L726 1126L735 1124L746 1117L756 1122L765 1129L775 1127L786 1126L796 1124L806 1121L817 1130L826 1124L837 1118L847 1122L857 1121L869 1126L878 1120L889 1123L899 1129L910 1120L920 1118L931 1121L941 1123L951 1118L961 1124L972 1126L982 1122L992 1118L1003 1121L1014 1117L1025 1119L1034 1123L1046 1121L1056 1122L1066 1119L1078 1131L1088 1119L1099 1125L1109 1132L1119 1121L1128 1126L1138 1128L1149 1134L1159 1129L1160 1142L1159 1153L1160 1159L1161 1167L1160 1189L1161 1191L1162 1206L1173 1211L1184 1202L1195 1211L1205 1204L1216 1211L1227 1205L1238 1206L1239 1194L1238 1183L1239 1177L1240 1170L1240 1161L1240 1146L1240 1131L1240 1127L1241 1115L1250 1118L1262 1114L1270 1109L1280 1114L1290 1117L1302 1118L1311 1117L1321 1110L1331 1113L1341 1110L1352 1114L1361 1117L1371 1109L1381 1112L1391 1107L1401 1111L1412 1108L1424 1117L1434 1116L1445 1117L1454 1115L1466 1113L1477 1108L1487 1117L1497 1113L1509 1109L1519 1105L1530 1111L1541 1114L1552 1107L1563 1111L1573 1112L1584 1115L1594 1109L1606 1120L1616 1115L1627 1111L1637 1113L1647 1117L1658 1117L1669 1114L1679 1113L1689 1119L1699 1117L1711 1118L1722 1120L1731 1123L1742 1120L1742 1131L1732 1137L1722 1125L1710 1129L1700 1136L1689 1133L1678 1132L1669 1125L1658 1122L1647 1124L1637 1130L1627 1132L1616 1126L1606 1131L1595 1131L1584 1120L1574 1122L1563 1126L1551 1118L1542 1126L1530 1122L1518 1125L1508 1123L1498 1122L1488 1117L1476 1124L1466 1118L1455 1126L1443 1117L1434 1117L1423 1118L1412 1119L1401 1122L1391 1121L1381 1127L1372 1125L1360 1129L1351 1121L1342 1124L1330 1128L1322 1120L1311 1127L1300 1124L1291 1130L1281 1130L1271 1120L1262 1122L1250 1127L1241 1126L1240 1132L1240 1146L1240 1155L1240 1160L1239 1175L1240 1186L1238 1191L1238 1209L1238 1217L1227 1214L1217 1214L1206 1218L1194 1224L1184 1218L1173 1222L1162 1217L1161 1208L1160 1194L1161 1188L1161 1179L1160 1160L1160 1155L1159 1140L1149 1141L1139 1140L1129 1132L1120 1135L1108 1136L1099 1136L1088 1132L1077 1133L1068 1129L1056 1134L1045 1136L1034 1130L1024 1132L1014 1137L1003 1140L993 1139L982 1133L971 1128L962 1135L952 1132L941 1133L930 1128L920 1139L909 1131L899 1130L888 1137L878 1133L869 1136L857 1136L848 1138L836 1136L828 1139L816 1133L806 1131L796 1135L786 1140L775 1140L766 1132L755 1136L745 1136L735 1128L726 1127L715 1131L705 1134L694 1132L685 1138L674 1139L666 1134L654 1130L644 1127L634 1135L625 1136L615 1132L605 1131L604 1142L603 1154L603 1163L591 1166L582 1166L570 1166L561 1166L549 1162L540 1163L528 1158L518 1162L507 1166L496 1169L486 1163L485 1155L484 1134L484 1123L484 1117L472 1118L462 1123L451 1113L441 1121L429 1113L419 1121L408 1124L397 1120L387 1122L377 1116L366 1113L355 1112L344 1118Z" fill="url(#g7)"/>
<path d="M344 1095L355 1094L366 1089L377 1094L387 1101L397 1091L408 1092L419 1091L430 1098L442 1092L452 1091L463 1090L473 1099L484 1094L485 1109L485 1114L486 1128L486 1140L497 1135L507 1141L519 1141L529 1136L539 1138L549 1145L561 1145L570 1137L582 1135L593 1133L603 1140L604 1125L603 1113L605 1108L614 1111L626 1106L636 1112L644 1115L656 1106L664 1112L675 1110L685 1109L696 1104L706 1108L715 1105L725 1106L736 1106L746 1106L755 1111L766 1109L775 1117L787 1108L796 1112L807 1117L816 1109L826 1109L837 1106L848 1110L857 1110L869 1114L879 1112L890 1114L900 1116L909 1110L921 1110L930 1109L940 1110L950 1117L962 1112L972 1107L982 1110L992 1109L1003 1107L1014 1116L1024 1117L1035 1114L1046 1114L1057 1110L1067 1106L1077 1117L1089 1114L1099 1113L1109 1110L1119 1118L1129 1118L1139 1116L1149 1119L1159 1117L1160 1130L1160 1136L1161 1147L1161 1161L1161 1173L1161 1180L1162 1194L1173 1200L1184 1195L1194 1198L1206 1190L1217 1194L1228 1199L1238 1194L1238 1189L1240 1173L1238 1168L1239 1149L1239 1139L1240 1138L1239 1123L1241 1112L1241 1103L1251 1106L1261 1103L1270 1106L1281 1105L1290 1102L1301 1100L1310 1100L1321 1097L1331 1095L1341 1103L1351 1098L1361 1104L1372 1101L1381 1095L1392 1103L1401 1099L1411 1097L1423 1098L1433 1102L1445 1098L1455 1103L1466 1097L1476 1104L1488 1105L1498 1097L1508 1097L1519 1102L1530 1099L1541 1100L1552 1105L1563 1094L1573 1101L1584 1106L1595 1102L1606 1102L1616 1103L1627 1104L1638 1106L1647 1103L1658 1107L1669 1109L1679 1101L1690 1101L1699 1101L1711 1110L1721 1101L1732 1111L1742 1108L1742 1120L1732 1114L1721 1118L1711 1126L1700 1123L1690 1116L1680 1111L1668 1114L1658 1115L1648 1121L1637 1116L1626 1110L1616 1115L1606 1120L1594 1119L1583 1110L1573 1114L1562 1112L1551 1113L1540 1115L1530 1111L1519 1116L1508 1105L1498 1111L1487 1112L1477 1108L1466 1108L1455 1115L1445 1110L1434 1110L1423 1105L1411 1113L1401 1111L1391 1116L1381 1113L1371 1117L1361 1116L1352 1115L1341 1110L1330 1117L1321 1119L1310 1108L1302 1117L1291 1113L1282 1111L1270 1117L1261 1109L1251 1109L1241 1115L1240 1123L1240 1137L1239 1147L1239 1161L1239 1170L1240 1180L1238 1185L1239 1195L1238 1206L1227 1203L1216 1201L1205 1209L1194 1209L1183 1211L1173 1212L1162 1206L1161 1201L1161 1182L1161 1177L1159 1168L1161 1151L1160 1142L1159 1129L1148 1123L1140 1125L1128 1132L1118 1132L1110 1127L1099 1125L1089 1123L1077 1126L1067 1122L1057 1121L1046 1119L1034 1121L1024 1124L1014 1124L1003 1124L993 1117L982 1122L972 1117L962 1118L951 1121L940 1125L931 1118L921 1121L910 1128L899 1118L888 1128L879 1123L868 1118L858 1119L847 1124L837 1120L826 1120L817 1120L807 1124L796 1124L787 1117L776 1123L766 1124L756 1119L745 1118L735 1116L725 1123L715 1127L705 1123L696 1123L684 1124L675 1118L664 1128L655 1123L645 1125L635 1125L624 1126L615 1126L605 1120L603 1129L604 1138L603 1152L591 1154L581 1150L570 1148L561 1150L550 1158L539 1152L529 1155L518 1155L507 1148L497 1156L486 1152L486 1135L484 1127L485 1124L484 1106L472 1109L463 1111L452 1112L441 1111L430 1108L420 1111L408 1112L398 1113L386 1113L377 1113L366 1104L354 1103L344 1107Z" fill="url(#g4)"/>
<path d="M344 1074L354 1073L366 1074L377 1076L387 1072L398 1078L409 1079L418 1072L431 1076L441 1071L452 1078L462 1067L472 1067L484 1073L484 1089L485 1097L485 1105L486 1119L497 1117L507 1120L517 1113L528 1121L540 1121L550 1114L561 1113L570 1115L581 1125L593 1115L603 1119L604 1110L604 1096L605 1087L615 1093L624 1094L634 1092L644 1088L656 1084L666 1088L675 1085L685 1083L695 1094L706 1087L716 1094L726 1084L736 1089L746 1088L755 1092L766 1091L776 1096L787 1089L796 1091L807 1085L817 1093L827 1090L838 1096L847 1094L857 1088L869 1096L879 1086L888 1091L900 1089L909 1092L920 1093L930 1090L941 1096L951 1094L962 1088L972 1092L982 1089L992 1087L1004 1091L1014 1094L1025 1086L1035 1095L1045 1094L1055 1088L1067 1088L1078 1098L1088 1087L1099 1092L1108 1098L1119 1091L1128 1089L1139 1093L1149 1102L1159 1096L1160 1104L1160 1118L1161 1131L1160 1138L1161 1155L1161 1163L1162 1173L1172 1177L1184 1171L1194 1174L1205 1175L1216 1177L1228 1178L1238 1173L1239 1161L1238 1150L1239 1137L1240 1136L1240 1122L1240 1108L1241 1105L1241 1094L1241 1082L1251 1086L1261 1088L1271 1080L1281 1085L1292 1077L1301 1081L1312 1083L1321 1075L1331 1074L1342 1080L1351 1081L1361 1078L1372 1076L1382 1082L1392 1074L1401 1078L1412 1081L1424 1083L1434 1081L1445 1080L1455 1073L1466 1081L1476 1075L1488 1079L1497 1075L1508 1074L1520 1080L1530 1078L1541 1082L1551 1082L1562 1084L1573 1074L1584 1076L1595 1075L1606 1083L1616 1082L1627 1077L1637 1078L1647 1085L1658 1082L1669 1081L1680 1081L1690 1089L1701 1079L1711 1080L1720 1085L1732 1088L1742 1087L1742 1099L1742 1108L1732 1108L1722 1104L1711 1114L1700 1113L1689 1113L1679 1106L1669 1105L1658 1108L1647 1103L1637 1103L1627 1100L1616 1103L1605 1103L1595 1098L1584 1098L1574 1102L1563 1107L1552 1106L1541 1102L1530 1099L1519 1093L1509 1092L1498 1102L1487 1096L1477 1094L1465 1105L1454 1093L1445 1097L1433 1103L1422 1094L1413 1094L1401 1099L1392 1099L1382 1105L1372 1099L1361 1095L1351 1101L1341 1097L1332 1095L1322 1104L1311 1108L1301 1105L1292 1106L1280 1097L1271 1099L1260 1101L1251 1108L1241 1103L1240 1113L1240 1129L1240 1128L1240 1145L1240 1154L1239 1160L1239 1179L1239 1179L1238 1194L1227 1189L1217 1194L1206 1196L1194 1194L1183 1197L1172 1194L1162 1194L1162 1186L1161 1169L1160 1164L1161 1146L1159 1141L1160 1125L1159 1117L1149 1113L1140 1120L1129 1117L1118 1108L1109 1120L1099 1113L1087 1106L1078 1109L1067 1108L1057 1118L1045 1117L1034 1107L1024 1115L1014 1117L1004 1107L993 1106L982 1110L972 1105L962 1116L952 1104L941 1112L931 1111L921 1112L909 1105L899 1112L888 1110L878 1114L869 1116L857 1111L847 1113L837 1111L827 1118L816 1110L807 1115L796 1112L785 1116L775 1110L765 1115L756 1112L745 1114L735 1105L726 1113L715 1111L706 1109L696 1112L686 1113L676 1115L664 1112L656 1111L646 1108L636 1104L625 1108L615 1105L605 1108L604 1117L603 1124L603 1140L592 1146L582 1146L572 1144L560 1143L549 1137L539 1133L529 1145L518 1138L508 1143L497 1144L486 1140L486 1123L485 1115L484 1104L484 1094L472 1100L462 1095L452 1095L441 1093L431 1097L419 1089L409 1092L397 1088L388 1098L376 1091L366 1097L355 1098L344 1095L344 1081Z" fill="url(#g1)"/>
<path d="M344 1116L355 1110L365 1112L376 1122L387 1117L398 1117L408 1113L418 1110L429 1114L441 1110L452 1122L463 1112L472 1111L484 1115L484 1124L485 1140L485 1152L486 1161L496 1167L506 1165L517 1165L529 1165L539 1163L549 1154L560 1166L571 1163L581 1163L591 1156L603 1161L603 1157L604 1142L605 1129L614 1126L626 1123L636 1125L645 1128L656 1125L665 1127L675 1131L686 1127L695 1128L705 1135L715 1127L725 1130L735 1134L745 1137L756 1134L765 1129L775 1132L786 1132L796 1133L806 1127L816 1132L827 1129L836 1128L848 1131L858 1138L868 1127L879 1135L890 1137L899 1137L910 1138L919 1128L930 1137L940 1126L951 1137L961 1135L971 1131L982 1131L993 1128L1003 1130L1014 1138L1024 1128L1035 1135L1046 1126L1056 1136L1067 1130L1078 1135L1089 1129L1099 1134L1109 1140L1119 1140L1128 1141L1139 1133L1148 1143L1159 1138L1159 1146L1159 1160L1161 1167L1161 1183L1161 1192L1162 1198L1162 1215L1172 1212L1184 1215L1195 1215L1205 1217L1216 1220L1227 1222L1238 1215L1239 1202L1239 1193L1239 1183L1239 1169L1240 1160L1240 1148L1240 1141L1241 1135L1241 1124L1250 1119L1262 1119L1270 1119L1281 1124L1290 1128L1300 1119L1311 1124L1322 1121L1332 1124L1341 1128L1351 1127L1362 1115L1370 1115L1381 1118L1392 1126L1401 1120L1412 1119L1423 1124L1434 1122L1444 1115L1455 1122L1466 1124L1476 1126L1488 1114L1497 1121L1508 1122L1519 1116L1530 1120L1541 1121L1552 1115L1562 1123L1574 1124L1584 1116L1595 1126L1605 1126L1616 1124L1627 1131L1637 1122L1647 1132L1659 1125L1668 1132L1679 1130L1690 1129L1700 1123L1710 1124L1720 1122L1731 1128L1742 1129L1742 1143L1732 1137L1721 1148L1711 1140L1700 1141L1689 1141L1679 1143L1670 1139L1659 1144L1648 1142L1638 1142L1627 1135L1616 1138L1605 1135L1595 1142L1585 1141L1573 1137L1562 1129L1551 1138L1540 1129L1530 1134L1520 1130L1508 1127L1498 1131L1486 1140L1477 1129L1465 1140L1455 1132L1444 1131L1433 1134L1422 1128L1411 1129L1401 1134L1392 1136L1382 1131L1371 1138L1361 1135L1351 1141L1341 1130L1331 1138L1321 1139L1312 1140L1301 1131L1291 1133L1281 1141L1270 1134L1261 1140L1250 1133L1241 1138L1240 1150L1240 1160L1240 1166L1240 1179L1240 1183L1239 1195L1239 1211L1239 1221L1238 1229L1227 1225L1216 1231L1205 1225L1195 1233L1184 1232L1172 1233L1162 1229L1162 1216L1161 1201L1160 1191L1160 1186L1161 1180L1159 1163L1159 1152L1149 1147L1139 1151L1129 1153L1118 1153L1109 1143L1099 1148L1088 1147L1077 1150L1067 1145L1057 1150L1046 1145L1036 1152L1024 1148L1014 1146L1003 1143L993 1152L982 1145L972 1141L961 1147L952 1140L941 1149L930 1140L921 1141L909 1140L899 1150L888 1141L879 1142L868 1151L858 1142L847 1145L837 1142L826 1153L817 1144L807 1152L796 1147L787 1146L775 1148L766 1146L755 1149L746 1142L736 1140L725 1143L715 1142L705 1152L695 1150L686 1140L675 1142L666 1143L655 1149L646 1137L636 1145L625 1149L615 1148L605 1143L604 1151L603 1163L603 1175L591 1173L582 1171L571 1174L561 1180L550 1171L540 1179L529 1178L517 1179L507 1177L496 1179L486 1175L485 1164L485 1156L485 1145L484 1129L472 1134L463 1135L452 1132L441 1123L430 1130L420 1127L409 1133L397 1126L386 1126L375 1128L365 1134L354 1124L344 1130Z" fill="url(#h3)"/>
<path d="M1743 1142L1753 1145L1763 1142L1774 1146L1784 1140L1793 1148L1804 1148L1814 1141L1823 1144L1834 1145L1844 1144L1855 1143L1864 1146L1874 1142L1885 1150L1895 1139L1905 1138L1915 1144L1924 1144L1935 1145L1945 1149L1955 1142L1965 1149L1976 1151L1985 1145L1996 1149L2005 1142L2016 1144L2026 1142L2036 1146L2047 1142L2056 1153L2066 1151L2076 1152L2087 1151L2097 1146L2106 1144L2117 1148L2127 1153L2138 1148L2146 1149L2157 1150L2167 1147L2177 1145L2187 1148L2197 1149L2207 1143L2218 1152L2227 1146L2237 1150L2249 1151L2258 1146L2268 1150L2268 1164L2268 1175L2269 1180L2267 1200L2268 1212L2267 1211L2268 1228L2258 1232L2248 1223L2239 1230L2228 1226L2217 1225L2207 1224L2197 1230L2187 1224L2177 1223L2167 1226L2157 1224L2148 1227L2138 1228L2126 1228L2116 1229L2106 1224L2097 1231L2086 1227L2076 1227L2066 1231L2057 1223L2045 1229L2036 1233L2026 1226L2015 1234L2005 1227L1996 1229L1986 1231L1975 1223L1966 1233L1955 1229L1946 1226L1935 1229L1924 1224L1915 1233L1904 1222L1894 1228L1885 1226L1874 1226L1864 1234L1854 1228L1844 1227L1833 1232L1824 1226L1814 1226L1803 1229L1794 1226L1784 1224L1773 1222L1764 1222L1753 1223L1743 1228L1743 1211L1743 1210L1744 1201L1744 1186L1744 1169L1742 1163L1744 1156Z" fill="url(#g7)"/>
<path d="M1743 1114L1752 1113L1764 1119L1774 1116L1783 1108L1793 1110L1804 1117L1813 1110L1824 1111L1835 1117L1845 1113L1854 1114L1864 1112L1875 1122L1884 1118L1894 1112L1905 1114L1915 1110L1924 1118L1935 1115L1945 1117L1955 1121L1965 1114L1976 1123L1985 1122L1995 1112L2006 1115L2016 1111L2026 1121L2036 1111L2046 1116L2056 1118L2067 1116L2077 1124L2086 1119L2096 1116L2107 1123L2117 1122L2127 1125L2137 1116L2147 1115L2158 1114L2167 1119L2176 1125L2188 1125L2198 1115L2208 1120L2217 1121L2227 1125L2237 1123L2247 1117L2258 1125L2268 1120L2268 1133L2268 1143L2268 1150L2258 1145L2247 1153L2237 1152L2228 1148L2218 1155L2208 1148L2198 1153L2188 1148L2178 1147L2166 1148L2156 1152L2146 1151L2137 1154L2126 1151L2116 1149L2107 1144L2096 1141L2087 1142L2075 1152L2066 1146L2056 1150L2047 1145L2035 1142L2025 1150L2016 1142L2005 1144L1995 1152L1985 1149L1975 1151L1965 1151L1956 1151L1945 1147L1935 1150L1925 1139L1915 1149L1904 1148L1895 1144L1885 1150L1875 1140L1864 1145L1853 1139L1844 1143L1834 1140L1824 1144L1813 1144L1803 1148L1794 1149L1784 1138L1773 1149L1763 1143L1753 1136L1743 1142L1743 1123Z" fill="url(#g4)"/>
<path d="M1743 1088L1753 1090L1764 1094L1774 1086L1783 1090L1794 1093L1804 1087L1815 1086L1825 1085L1833 1083L1843 1089L1853 1089L1864 1093L1875 1091L1885 1096L1894 1092L1904 1083L1914 1095L1924 1090L1936 1088L1946 1091L1954 1083L1966 1085L1976 1085L1986 1087L1995 1090L2005 1096L2015 1093L2027 1095L2036 1085L2045 1087L2056 1089L2067 1096L2076 1097L2086 1093L2096 1094L2107 1089L2116 1088L2126 1086L2137 1092L2147 1087L2157 1092L2167 1090L2176 1085L2187 1090L2197 1095L2207 1096L2217 1086L2227 1090L2237 1095L2248 1094L2258 1091L2268 1092L2268 1112L2268 1120L2257 1116L2248 1114L2238 1114L2227 1119L2218 1120L2207 1116L2197 1117L2188 1124L2177 1118L2166 1113L2157 1123L2147 1114L2137 1113L2126 1116L2117 1121L2106 1118L2096 1120L2086 1120L2075 1123L2066 1114L2055 1114L2047 1120L2035 1115L2025 1119L2016 1116L2005 1116L1995 1111L1986 1123L1975 1111L1965 1116L1955 1119L1945 1120L1935 1122L1924 1116L1914 1116L1905 1118L1895 1117L1885 1110L1874 1119L1863 1113L1854 1116L1844 1113L1834 1113L1825 1112L1813 1114L1804 1109L1794 1119L1784 1110L1773 1117L1764 1113L1752 1108L1743 1114L1744 1099Z" fill="url(#g1)"/>
<path d="M2411 1027L2422 1031L2434 1030L2446 1027L2446 1041L2446 1053L2446 1065L2446 1069L2445 1083L2446 1093L2446 1106L2434 1107L2422 1104L2411 1106L2410 1095L2410 1085L2410 1072L2411 1063L2411 1052L2411 1036Z" fill="url(#g4)"/>
<path d="M2231 1041L2244 1041L2256 1039L2269 1041L2269 1053L2269 1061L2268 1069L2268 1081L2269 1091L2268 1105L2269 1110L2269 1125L2269 1135L2268 1142L2268 1153L2269 1168L2269 1176L2269 1185L2256 1188L2243 1185L2231 1187L2232 1179L2231 1166L2231 1154L2232 1147L2232 1138L2231 1124L2232 1112L2231 1101L2232 1091L2231 1086L2232 1075L2231 1061L2231 1054Z" fill="url(#g1)"/>
<path d="M2553 1010L2563 1004L2571 1008L2580 1008L2585 1017L2590 1018L2594 1030L2600 1040L2611 1041L2622 1045L2622 1051L2621 1064L2622 1065L2621 1081L2622 1084L2620 1102L2621 1107L2620 1112L2621 1120L2620 1133L2620 1140L2611 1137L2602 1141L2594 1143L2585 1146L2576 1139L2566 1139L2556 1140L2556 1128L2555 1122L2556 1120L2556 1104L2556 1099L2555 1085L2555 1080L2555 1079L2554 1068L2553 1063L2554 1047L2555 1042L2553 1029L2552 1022L2552 1013Z" fill="#ffffff"/>
<path d="M2553 1010L2562 1008L2571 1009L2580 1008L2585 1019L2589 1030L2595 1032L2600 1040L2612 1041L2622 1045L2622 1050L2621 1060L2622 1072L2621 1077L2621 1094L2621 1092L2620 1106L2621 1112L2620 1121L2620 1137L2620 1140L2611 1140L2603 1145L2594 1144L2585 1146L2576 1140L2566 1141L2556 1140L2556 1130L2555 1118L2556 1122L2555 1110L2555 1099L2555 1087L2554 1086L2554 1077L2554 1068L2554 1059L2553 1051L2554 1042L2553 1030L2553 1029L2554 1020Z" fill="url(#g1)"/>
<path d="M2664 1031L2672 1032L2682 1030L2690 1031L2698 1028L2707 1036L2715 1029L2715 1040L2715 1049L2717 1063L2716 1066L2707 1070L2699 1071L2691 1072L2683 1061L2674 1067L2665 1068L2665 1061L2664 1054L2664 1046Z" fill="#ffffff"/>
<path d="M2540 1090L2549 1084L2559 1084L2569 1092L2579 1086L2591 1087L2600 1095L2610 1096L2619 1094L2630 1096L2639 1093L2651 1085L2660 1091L2669 1095L2680 1093L2690 1094L2701 1086L2710 1087L2719 1094L2730 1093L2739 1086L2750 1096L2760 1090L2770 1084L2780 1093L2789 1088L2800 1088L2810 1092L2819 1090L2830 1096L2840 1090L2850 1086L2860 1090L2860 1099L2859 1107L2860 1126L2860 1133L2860 1142L2860 1151L2860 1165L2860 1180L2850 1181L2839 1182L2829 1184L2820 1185L2810 1182L2800 1179L2789 1186L2780 1175L2769 1180L2760 1176L2749 1178L2740 1176L2730 1176L2720 1180L2710 1180L2701 1174L2689 1176L2680 1183L2669 1180L2659 1184L2649 1183L2640 1181L2630 1178L2620 1174L2609 1182L2600 1181L2590 1175L2579 1185L2569 1177L2559 1177L2549 1180L2540 1180L2540 1166L2540 1156L2539 1149L2539 1131L2539 1121L2540 1115L2539 1108Z" fill="url(#h1)"/>
<path d="M2623 1106L2634 1096L2645 1104L2654 1104L2666 1098L2675 1108L2687 1106L2696 1115L2707 1101L2717 1117L2728 1112L2739 1108L2749 1104L2758 1118L2771 1107L2779 1121L2791 1110L2790 1124L2788 1140L2786 1135L2785 1159L2784 1158L2782 1176L2771 1179L2760 1165L2750 1171L2738 1171L2728 1178L2717 1180L2708 1174L2697 1165L2687 1163L2676 1162L2663 1169L2654 1169L2642 1170L2632 1171L2630 1161L2629 1160L2627 1137L2626 1138L2626 1120Z" fill="url(#h1)"/>
<path d="M2581 1013L2592 1012L2601 1010L2612 1008L2621 1019L2633 1014L2642 1012L2652 1015L2663 1021L2673 1012L2682 1015L2694 1016L2704 1014L2713 1020L2723 1023L2734 1015L2744 1012L2754 1014L2764 1012L2774 1016L2784 1014L2794 1020L2805 1025L2815 1017L2825 1025L2835 1024L2846 1028L2856 1022L2857 1035L2855 1039L2856 1059L2856 1070L2856 1079L2856 1090L2846 1089L2835 1091L2826 1087L2816 1085L2805 1090L2795 1085L2785 1090L2774 1088L2764 1095L2755 1096L2745 1096L2734 1087L2723 1091L2714 1097L2703 1094L2694 1084L2683 1086L2672 1092L2663 1090L2653 1085L2642 1085L2632 1092L2621 1084L2612 1096L2601 1089L2592 1093L2581 1090L2581 1081L2581 1069L2582 1053L2582 1052L2581 1041L2581 1028Z" fill="url(#h1)"/>
<path d="M486 1062H600V1159H486Z" fill="#fff"/>
<path d="M497.8 1068.6H500.9V1151.8H497.8Z" fill="#d3d3d3"/>
<path d="M509.6 1071H511.4V1149H509.6Z" fill="#d3d3d3"/>
<path d="M517 1068.6H518.9V1151.8H517Z" fill="#d3d3d3"/>
<path d="M520.1 1068.6H540V1151.8H520.1Z" fill="#d3d3d3"/>
<path d="M549.9 1078.5H558.6V1153H549.9Z" fill="#d3d3d3"/>
<path d="M571 1079.8H572.9V1154H571Z" fill="#d3d3d3"/>
<path d="M578.5 1079.8H579.8V1151.8H578.5Z" fill="#d3d3d3"/>
<path d="M1103 1128h3v52h-3z" fill="#fff"/>
<path d="M1111 1128h3v52h-3z" fill="#fff"/>
<path d="M1119 1128h3v52h-3z" fill="#fff"/>
<path d="M1127 1128h3v52h-3z" fill="#fff"/>
<path d="M344 812L350 814L356 815L362 814L368 814L374 810L381 813L387 814L392 809L398 811L404 810L411 808L417 809L423 809L429 809L435 809L441 809L448 806L453 809L459 812L465 807L472 806L478 809L484 809L484 813L484 824L485 830L486 830L486 836L486 845L480 847L474 846L468 843L461 844L455 843L449 846L443 847L437 849L430 846L424 849L418 843L412 848L406 847L400 849L393 846L387 848L381 844L375 849L369 848L362 845L356 847L351 850L344 847L344 840L344 834L344 829L344 817Z" fill="url(#g7)"/>
<path d="M344 819L350 816L357 818L363 818L369 821L375 817L381 818L387 819L393 817L399 821L405 817L411 815L418 817L424 819L430 819L436 818L442 816L448 818L454 817L461 816L467 814L473 818L479 816L479 821L480 834L480 839L473 841L468 842L462 838L456 842L449 838L443 839L437 842L431 839L424 843L418 843L412 844L406 840L400 842L393 841L387 842L381 842L375 838L368 843L362 843L357 842L350 839L344 841L344 832L344 827Z" fill="#d3d3d3"/>
<path d="M344 863L350 861L356 865L362 865L368 862L374 860L380 859L386 863L392 857L399 860L404 858L410 859L416 862L422 858L428 857L434 860L441 856L446 858L453 860L459 856L464 860L471 854L476 859L483 859L488 857L489 864L489 873L491 878L491 882L485 882L478 886L472 887L465 886L459 886L453 893L446 892L441 893L435 889L428 894L422 889L416 894L410 894L404 890L398 895L392 890L386 890L380 890L374 894L368 893L362 890L356 892L350 895L344 894L344 888L344 879L344 874L344 870Z" fill="url(#g7)"/>
<path d="M344 869L350 868L356 871L362 868L369 871L374 868L380 870L386 866L393 867L399 865L405 870L411 866L417 869L423 864L429 867L435 867L441 865L447 865L454 868L459 867L465 867L472 867L478 866L484 864L484 875L485 880L479 883L473 881L467 881L460 884L454 883L448 887L442 887L435 890L429 886L424 888L417 890L411 887L405 885L399 888L393 891L387 887L381 886L375 889L368 888L362 888L357 889L350 889L344 889L344 880L344 875Z" fill="#d3d3d3"/>
<path d="M374 865L380 867L386 866L392 864L398 861L405 865L411 863L416 865L422 860L428 864L434 860L441 859L446 862L448 870L449 875L451 882L445 881L439 885L432 885L426 886L420 885L414 885L408 888L402 886L395 883L389 884L383 883L377 887L376 882L375 873Z" fill="#ffb6c1"/>
<path d="M351 875L363 872L374 874L374 885L363 883L351 885Z" fill="#00ffff"/>
<path d="M453 865L464 863L474 865L484 864L484 875L473 880L463 880L453 876Z" fill="#00ffff"/>
<path d="M495 854L508 856L521 852L521 863L522 873L509 875L496 872Z" fill="#00ffff"/>
<path d="M605 868L623 869L623 885L606 883Z" fill="#d3d3d3"/>
<path d="M481 1170L486 1166L491 1167L495 1165L500 1163L505 1165L510 1163L515 1162L520 1165L525 1163L530 1165L535 1164L540 1165L545 1163L550 1161L555 1165L560 1164L565 1162L570 1162L575 1163L580 1164L585 1165L590 1170L595 1169L600 1168L604 1171L610 1176L614 1176L612 1183L607 1180L601 1182L597 1182L592 1179L586 1181L581 1185L575 1180L570 1181L565 1180L560 1182L555 1182L550 1180L545 1183L540 1180L535 1183L530 1181L525 1179L520 1182L515 1184L510 1177L505 1179L500 1182L495 1180L490 1180L486 1173Z" fill="#ffb6c1"/>
<path d="M1556 859L1561 852L1565 844L1570 840L1573 842L1576 849L1579 859L1578 866L1577 876L1578 881L1577 887L1570 884L1564 891L1558 889L1557 887L1558 876L1557 870L1556 868Z" fill="url(#g4)"/>
<path d="M1555 910L1563 909L1570 904L1577 906L1576 915L1575 920L1569 923L1562 930L1557 929L1556 925L1556 915Z" fill="url(#p4)"/>
<path d="M954 789L966 788L967 794L967 801L955 800Z" fill="url(#g4)"/>
<path d="M952 824L959 819L965 821L971 822L972 829L972 835L973 845L967 840L961 840L954 843L953 838L953 834Z" fill="url(#p4)"/>
<path d="M1262 903L1268 907L1276 902L1276 912L1276 917L1269 919L1263 918L1262 914Z" fill="url(#g4)"/>
<path d="M2530 1003L2541 1006L2549 1001L2559 1013L2569 998L2580 1015L2589 1002L2600 1015L2609 1010L2621 1008L2630 1001L2641 1003L2651 1004L2660 1018L2670 1013L2680 1005L2690 1013L2700 1007L2709 1019L2720 1020L2730 1010L2741 1013L2752 1016L2761 1015L2770 1023L2781 1006L2790 1012L2800 1014L2811 1023L2822 1022L2832 1020L2842 1013L2852 1011L2863 1018L2872 1011L2883 1023L2892 1026L2903 1017L2902 1023L2903 1042L2903 1051L2903 1059L2892 1059L2882 1065L2872 1059L2862 1055L2850 1055L2840 1052L2830 1051L2820 1049L2810 1050L2799 1048L2789 1056L2780 1038L2769 1044L2759 1047L2748 1039L2741 1050L2730 1038L2719 1038L2710 1047L2699 1034L2690 1041L2679 1036L2670 1036L2660 1030L2650 1039L2639 1025L2629 1038L2617 1027L2608 1019L2598 1018L2587 1026L2577 1022L2566 1030L2552 1026L2541 1027L2530 1027L2531 1011Z" fill="url(#p4)"/>
<path d="M2903 1045L2912 1050L2923 1041L2933 1047L2945 1045L2955 1041L2966 1044L2975 1055L2985 1049L2996 1048L2996 1057L2996 1069L2985 1071L2974 1060L2964 1069L2955 1064L2944 1074L2934 1063L2924 1063L2912 1060L2903 1066L2904 1055Z" fill="url(#p4)"/>
<path d="M3033 1078L3043 1072L3054 1072L3065 1076L3075 1084L3086 1079L3098 1085L3109 1079L3119 1076L3129 1081L3139 1079L3151 1075L3161 1079L3172 1082L3182 1083L3181 1089L3182 1106L3172 1103L3160 1106L3150 1109L3139 1097L3130 1099L3118 1105L3107 1099L3097 1099L3087 1108L3077 1106L3064 1105L3054 1094L3044 1097L3033 1101L3033 1095Z" fill="url(#p4)"/>
<path d="M3182 1050L3192 1049L3203 1059L3212 1047L3222 1059L3232 1056L3243 1053L3253 1057L3263 1044L3275 1056L3284 1053L3293 1047L3305 1044L3314 1043L3323 1049L3335 1050L3344 1047L3355 1054L3364 1052L3374 1058L3384 1046L3395 1052L3406 1053L3415 1059L3426 1044L3435 1044L3446 1046L3455 1057L3467 1049L3475 1056L3487 1056L3496 1051L3506 1055L3516 1046L3526 1051L3537 1051L3547 1054L3557 1058L3569 1050L3579 1060L3588 1058L3598 1059L3608 1047L3619 1047L3628 1051L3638 1054L3650 1058L3660 1059L3668 1051L3680 1059L3689 1052L3700 1048L3710 1054L3719 1052L3730 1055L3731 1066L3730 1083L3730 1087L3719 1091L3710 1094L3699 1090L3690 1085L3678 1095L3667 1083L3657 1099L3648 1096L3637 1092L3627 1090L3617 1085L3605 1086L3596 1096L3586 1099L3574 1102L3564 1086L3554 1100L3545 1096L3534 1090L3524 1103L3513 1095L3504 1093L3493 1102L3483 1095L3473 1098L3462 1099L3452 1096L3441 1101L3431 1099L3421 1098L3411 1088L3400 1100L3388 1102L3379 1093L3368 1101L3359 1103L3347 1086L3338 1086L3327 1090L3316 1092L3307 1100L3296 1093L3286 1088L3276 1088L3266 1099L3254 1096L3244 1083L3234 1083L3224 1097L3213 1097L3202 1083L3191 1084L3182 1087L3182 1075L3182 1065Z" fill="url(#p2)"/>
<path d="M3500 1059L3510 1061L3521 1063L3530 1062L3540 1058L3551 1050L3560 1060L3572 1064L3582 1064L3590 1057L3602 1053L3610 1066L3621 1048L3632 1054L3643 1050L3653 1053L3662 1053L3673 1050L3683 1057L3693 1048L3704 1059L3712 1063L3724 1053L3733 1055L3744 1056L3752 1051L3763 1064L3774 1058L3785 1059L3795 1066L3805 1054L3815 1051L3825 1067L3836 1058L3846 1056L3855 1064L3865 1069L3876 1066L3886 1057L3898 1072L3908 1063L3918 1073L3927 1066L3939 1066L3949 1070L3958 1073L3969 1068L3980 1063L3989 1069L3989 1085L3979 1076L3968 1086L3958 1091L3948 1078L3938 1085L3927 1074L3917 1087L3908 1078L3898 1089L3885 1076L3877 1086L3865 1079L3855 1080L3847 1083L3834 1076L3824 1084L3815 1075L3804 1088L3794 1076L3784 1073L3773 1083L3763 1084L3754 1071L3744 1077L3733 1078L3723 1071L3712 1082L3703 1073L3692 1084L3683 1079L3672 1082L3662 1075L3653 1082L3642 1090L3631 1079L3622 1085L3612 1078L3601 1092L3591 1091L3582 1087L3571 1079L3560 1093L3551 1082L3541 1090L3531 1094L3519 1078L3510 1079L3500 1087L3500 1065Z" fill="url(#p4)"/>
<path d="M4059 1087L4070 1090L4082 1093L4094 1095L4106 1090L4115 1095L4125 1094L4133 1094L4144 1102L4151 1108L4162 1110L4170 1120L4180 1120L4180 1136L4169 1136L4159 1129L4149 1124L4138 1127L4127 1121L4115 1109L4106 1110L4094 1113L4082 1108L4071 1100L4059 1101Z" fill="url(#p4)"/>
<path d="M4264 1143L4273 1144L4284 1142L4295 1138L4305 1153L4314 1138L4325 1141L4335 1154L4344 1154L4354 1142L4366 1157L4374 1152L4385 1152L4384 1169L4384 1170L4385 1191L4386 1198L4386 1204L4385 1213L4376 1216L4363 1218L4353 1213L4343 1204L4332 1214L4322 1203L4313 1211L4302 1204L4292 1199L4287 1194L4283 1179L4279 1175L4274 1158L4269 1157Z" fill="url(#p4)"/>
<path d="M4413 1152L4424 1152L4434 1147L4445 1151L4457 1148L4468 1160L4478 1157L4479 1163L4479 1185L4478 1190L4468 1184L4456 1186L4447 1181L4436 1189L4423 1180L4413 1185L4412 1174L4413 1160Z" fill="url(#p4)"/>
<path d="M4478 1036L4491 1036L4503 1037L4516 1036L4516 1047L4515 1055L4516 1073L4515 1072L4516 1083L4515 1092L4515 1107L4515 1114L4515 1124L4515 1135L4515 1146L4515 1156L4516 1162L4516 1182L4515 1182L4516 1199L4507 1198L4500 1183L4490 1187L4483 1176L4483 1165L4482 1149L4482 1145L4482 1134L4480 1120L4481 1105L4481 1105L4481 1084L4479 1075L4480 1064L4480 1062L4479 1045Z" fill="#ffb6c1"/>
<path d="M4536 1036L4547 1033L4556 1038L4567 1036L4566 1045L4566 1061L4566 1062L4567 1079L4567 1088L4566 1102L4566 1109L4566 1116L4567 1124L4567 1145L4566 1145L4567 1162L4566 1165L4567 1183L4567 1187L4567 1199L4567 1213L4556 1213L4546 1219L4536 1213L4537 1202L4537 1197L4537 1185L4537 1174L4537 1167L4536 1154L4536 1141L4537 1126L4537 1116L4536 1109L4537 1101L4537 1094L4536 1082L4536 1069L4536 1063L4536 1044Z" fill="#ffb6c1"/>
<path d="M2562 999L2573 999L2584 997L2595 1000L2607 996L2619 999L2630 1001L2630 1013L2629 1019L2630 1036L2620 1036L2607 1032L2596 1032L2585 1034L2573 1027L2562 1034L2562 1018L2562 1009Z" fill="url(#p4)"/>
<path d="M2581 1059L2591 1066L2602 1061L2612 1063L2623 1062L2623 1078L2609 1081L2597 1070L2583 1076Z" fill="url(#p4)"/>
<path d="M2580 1061L2584 1056L2588 1045L2592 1043L2596 1036L2599 1034L2603 1026L2608 1028L2613 1014L2617 1012L2623 1015L2630 1002L2636 1002L2642 997L2649 1006L2654 1006L2661 1008L2667 1007L2673 1008L2680 1002L2685 1002L2691 1009L2699 1007L2705 1016L2711 1018L2717 1014L2722 1019L2730 1017L2735 1023L2742 1023L2748 1028L2755 1016L2760 1019L2766 1019L2773 1024L2779 1028L2784 1029L2791 1035L2798 1032L2804 1037L2799 1046L2793 1049L2788 1046L2782 1044L2776 1042L2768 1050L2763 1044L2756 1049L2749 1038L2743 1043L2736 1038L2729 1048L2723 1042L2717 1044L2711 1040L2704 1045L2698 1043L2691 1032L2686 1032L2680 1037L2673 1042L2666 1037L2661 1033L2655 1026L2648 1030L2642 1034L2636 1043L2629 1037L2624 1046L2618 1044L2615 1056L2609 1065L2604 1058L2599 1068L2592 1069L2587 1070Z" fill="#ffb6c1"/>
<path d="M2912 1079L2918 1074L2925 1074L2931 1081L2936 1073L2942 1086L2949 1076L2955 1075L2961 1085L2966 1082L2973 1082L2979 1084L2984 1076L2990 1083L2997 1076L3003 1085L3010 1079L3015 1083L3021 1082L3028 1083L3033 1080L3041 1083L3045 1084L3052 1084L3059 1082L3065 1077L3071 1081L3077 1088L3083 1085L3089 1081L3095 1084L3102 1088L3108 1082L3115 1089L3120 1090L3127 1079L3134 1079L3139 1088L3146 1085L3151 1081L3158 1090L3163 1087L3170 1082L3176 1086L3177 1086L3176 1099L3171 1100L3165 1100L3158 1099L3151 1096L3145 1105L3139 1093L3133 1096L3127 1100L3121 1106L3113 1095L3108 1103L3102 1102L3096 1094L3090 1105L3083 1095L3077 1106L3071 1096L3065 1107L3059 1103L3052 1096L3046 1105L3040 1097L3033 1104L3027 1096L3021 1102L3015 1108L3008 1106L3002 1102L2996 1098L2990 1100L2985 1102L2979 1105L2973 1094L2968 1099L2960 1098L2954 1101L2949 1104L2943 1103L2937 1095L2930 1099L2924 1093L2918 1099L2912 1096L2912 1083Z" fill="url(#p4)"/>
<path d="M2928 1083L2934 1085L2941 1082L2947 1082L2952 1082L2959 1084L2965 1087L2972 1086L2978 1084L2983 1085L2990 1087L2997 1083L3002 1086L3009 1087L3015 1084L3021 1081L3028 1082L3034 1089L3040 1083L3046 1084L3052 1086L3058 1088L3064 1089L3070 1090L3077 1089L3082 1085L3088 1086L3095 1091L3101 1088L3106 1092L3113 1087L3119 1089L3124 1087L3130 1091L3137 1093L3142 1094L3148 1090L3154 1089L3161 1090L3161 1096L3155 1096L3149 1098L3143 1094L3137 1092L3130 1099L3125 1100L3119 1095L3113 1097L3107 1100L3100 1095L3095 1099L3088 1098L3083 1093L3076 1096L3070 1101L3064 1098L3058 1098L3052 1097L3046 1094L3040 1101L3034 1099L3027 1098L3021 1099L3015 1096L3009 1092L3003 1093L2996 1097L2990 1098L2984 1090L2978 1090L2971 1092L2965 1096L2959 1094L2953 1092L2947 1090L2940 1091L2934 1088L2928 1091Z" fill="#ffb6c1"/>
<path d="M351 342L358 347L365 340L367 336L368 344L369 349L369 357L372 370L372 377L373 382L374 391L376 392L374 396L375 411L374 421L376 426L376 438L376 433L377 441L377 451L378 458L379 458L379 465L370 468L369 466L366 453L365 440L365 435L364 439L363 438L361 417L362 408L360 410L359 405L359 404L358 390L357 388L356 370L355 382L353 370L355 366L352 351L351 348Z" fill="url(#w2)"/>
<path d="M374 368L379 361L387 372L393 368L395 385L395 390L393 396L396 387L395 411L395 410L392 418L388 420L386 428L382 423L381 407L377 410L377 404L376 391L376 384L375 375L374 376Z" fill="url(#w2)"/>
<path d="M430 326L434 312L439 317L442 305L448 303L451 302L457 299L462 297L469 314L474 312L475 297L476 309L477 294L476 287L479 289L478 271L481 261L480 269L482 258L481 243L482 249L484 237L491 239L494 246L498 239L504 258L508 270L511 265L516 270L517 286L516 290L518 296L518 288L519 291L520 301L521 306L521 322L521 326L516 342L511 342L507 344L500 355L492 353L484 349L480 350L476 371L471 363L465 372L460 373L453 373L446 363L443 356L439 357L435 349L432 349L432 323Z" fill="url(#w2)"/>
<path d="M537 263L544 257L549 270L550 268L547 278L548 296L548 296L548 306L547 312L539 314L530 316L529 309L527 307L528 300L526 288L529 288L530 272L535 260Z" fill="url(#w2)"/>
<path d="M563 340L568 343L572 322L575 330L578 326L583 309L587 313L591 302L598 303L603 309L610 316L615 313L621 326L627 327L633 326L638 309L640 309L642 318L645 292L650 288L651 290L656 284L661 272L665 270L667 257L671 267L674 246L676 237L677 243L681 235L684 228L691 235L697 240L703 232L705 232L709 250L711 242L714 254L717 265L721 278L727 280L731 274L735 284L740 275L745 272L749 265L757 255L763 253L772 266L777 256L783 248L788 235L790 234L795 241L800 230L802 242L806 234L809 239L812 251L814 260L819 266L820 279L825 286L827 284L829 280L833 293L833 294L833 310L834 320L833 328L835 336L835 335L830 343L827 350L823 357L818 349L814 363L809 374L807 377L803 384L799 385L796 391L788 396L781 391L774 393L768 391L760 384L754 400L748 399L740 391L734 388L729 385L720 401L715 401L708 406L703 405L697 415L691 397L683 416L679 413L670 417L665 410L663 423L663 429L662 427L661 441L658 451L656 447L650 454L642 449L634 454L628 456L627 458L624 478L621 481L619 484L612 483L605 469L597 487L591 475L587 480L586 481L583 481L581 504L577 503L579 504L578 513L579 533L578 533L580 525L582 534L582 549L584 550L582 566L583 574L583 576L586 590L586 591L586 596L584 598L584 604L581 615L581 614L578 615L577 631L577 638L576 653L578 657L577 655L577 677L578 670L577 680L583 678L586 683L591 687L596 704L602 692L605 703L606 715L606 724L609 725L610 730L604 736L597 720L591 725L585 728L579 731L572 739L565 725L561 721L552 739L549 727L543 738L534 741L528 720L521 730L516 725L509 734L503 722L498 730L496 715L497 709L495 719L496 712L494 702L493 699L495 676L493 680L498 668L499 674L504 653L507 656L508 643L506 648L506 638L507 640L507 630L508 610L507 620L507 610L507 608L507 596L509 585L509 577L513 578L512 576L515 565L516 559L512 556L509 549L504 553L501 546L495 527L491 527L487 526L484 521L483 526L482 507L479 513L480 500L479 489L476 492L476 472L473 472L473 467L472 471L470 456L472 456L474 442L478 433L481 427L484 428L489 424L492 434L497 444L503 434L508 454L511 448L516 456L521 456L527 458L531 445L537 435L542 447L547 434L554 428L555 432L556 422L555 401L556 391L556 386L559 381L558 382L558 382L559 380L560 356L560 364L562 358L562 352Z" fill="url(#w1)"/>
<path d="M847 232L852 225L858 227L863 223L868 215L874 216L880 209L886 204L891 200L897 199L903 201L908 194L914 195L920 187L925 192L931 186L936 193L940 200L937 209L934 212L929 217L926 223L933 222L940 219L947 217L954 219L959 226L963 229L966 231L971 242L974 244L978 255L982 256L977 263L973 265L968 274L962 275L956 279L950 280L944 277L937 283L931 284L928 287L927 298L925 303L923 308L921 315L919 316L917 326L911 321L904 326L899 325L892 329L886 326L880 326L878 328L875 342L872 342L870 348L869 359L866 363L863 358L860 351L857 342L854 336L852 335L851 331L851 320L849 316L850 306L848 302L848 296L847 295L847 284L847 275L848 271L847 267L847 258L847 256L847 246L847 238Z" fill="url(#w4)"/>
<path d="M884 437L888 429L892 418L896 421L898 438L901 433L904 445L906 442L908 444L910 456L909 452L909 462L907 481L907 490L908 489L901 489L900 493L897 480L894 482L890 474L889 461L888 459L885 451Z" fill="url(#w2)"/>
<path d="M922 403L931 400L930 403L930 414L930 417L929 430L929 433L923 435L923 431L922 424L922 415L921 406Z" fill="#00ffff"/>
<path d="M856 405L861 405L861 410L861 419L861 425L861 431L861 436L861 441L861 447L861 452L861 459L861 466L861 472L857 472L857 468L857 462L857 454L857 446L857 442L857 437L857 430L857 422L856 415L856 413Z" fill="#00ffff"/>
<path d="M1304 312L1310 302L1316 299L1322 307L1325 307L1330 322L1333 314L1336 330L1343 334L1350 335L1352 328L1358 321L1363 315L1366 309L1369 307L1376 309L1381 298L1387 293L1389 306L1391 299L1394 310L1397 316L1397 332L1395 326L1396 326L1393 341L1392 355L1393 346L1392 358L1385 374L1381 362L1376 369L1369 377L1362 364L1357 368L1351 361L1345 376L1336 372L1332 363L1325 360L1319 350L1314 361L1308 354L1307 339L1308 332L1306 341L1307 340L1304 317L1305 311Z" fill="url(#w2)"/>
<path d="M1169 205L1174 205L1174 212L1174 219L1175 222L1174 234L1174 236L1175 244L1175 251L1175 259L1176 262L1175 270L1176 270L1176 276L1175 286L1169 286L1169 284L1169 277L1169 269L1168 259L1168 257L1169 245L1168 240L1169 239L1169 232L1168 223L1168 216L1169 213Z" fill="#00ffff"/>
<path d="M752 563L754 567L755 573L759 585L762 587L763 596L762 605L762 612L760 610L759 621L754 615L749 609L744 606L740 600L742 588L744 591L746 580L747 569L750 563Z" fill="#00ffff"/>
<path d="M642 610L651 614L651 621L650 628L651 630L650 644L650 647L642 642L642 637L643 630L643 624L643 618Z" fill="#00ffff"/>
<path d="M623 253L630 245L635 244L641 246L646 242L651 235L656 239L652 244L647 242L643 253L638 254L633 264L628 265L627 262Z" fill="#00ffff"/>
<path d="M689 167L696 168L703 172L706 179L707 183L710 191L712 200L703 200L700 189L695 187L691 181L689 173Z" fill="#00ffff"/>
<path d="M507 640L514 637L521 631L526 642L532 630L539 636L545 633L552 635L558 644L565 646L571 631L577 640L578 647L576 664L576 669L577 668L580 675L586 683L591 679L595 681L601 692L605 691L605 687L606 713L607 705L609 712L607 732L608 721L610 733L607 738L608 749L605 752L596 742L590 743L584 744L578 749L571 762L563 752L560 757L557 758L554 773L552 774L548 751L547 752L542 756L535 748L529 740L526 733L524 733L520 718L520 721L516 710L508 715L500 715L500 705L497 712L498 690L495 688L495 679L493 677L495 682L497 673L501 657L503 663L506 651Z" fill="#00ffff"/>
<path d="M658 687L663 697L666 696L670 701L671 701L670 712L671 727L671 732L672 733L669 738L665 748L661 752L659 745L659 742L657 731L656 724L656 722L657 711L658 708L658 697L658 691Z" fill="#00ffff"/>
<path d="M1549 256L1555 258L1560 275L1565 270L1572 266L1581 265L1588 265L1595 250L1599 265L1607 251L1612 255L1616 242L1624 252L1630 245L1635 237L1644 246L1649 237L1653 247L1658 246L1663 248L1669 255L1672 260L1678 269L1681 281L1686 284L1691 284L1698 287L1704 291L1711 291L1719 288L1722 300L1726 303L1726 300L1730 319L1733 316L1734 326L1732 337L1732 346L1734 346L1733 344L1732 351L1734 358L1734 356L1733 379L1732 382L1734 390L1733 391L1727 392L1720 392L1716 409L1710 405L1704 403L1696 396L1691 399L1685 395L1678 397L1672 400L1666 406L1661 407L1652 400L1648 411L1642 406L1635 405L1629 407L1622 396L1614 411L1607 410L1608 425L1606 424L1607 431L1608 436L1608 432L1607 447L1603 448L1600 447L1598 463L1596 452L1594 461L1593 440L1592 442L1591 433L1589 430L1589 409L1586 417L1586 405L1581 393L1574 400L1573 385L1569 393L1566 381L1565 369L1563 372L1563 375L1561 366L1560 356L1559 352L1559 340L1556 332L1556 330L1557 328L1554 315L1553 310L1554 303L1552 293L1552 290L1551 288L1549 288L1549 275L1550 272L1548 256Z" fill="url(#w1)"/>
<path d="M2115 433L2121 430L2129 435L2133 449L2135 452L2138 450L2143 456L2151 457L2155 451L2163 455L2169 459L2175 465L2182 459L2189 472L2194 475L2196 486L2196 482L2196 496L2199 509L2199 506L2201 512L2201 509L2199 531L2200 523L2200 537L2199 545L2197 537L2193 542L2191 529L2188 521L2185 517L2179 522L2171 514L2164 521L2157 521L2152 506L2144 511L2139 515L2133 503L2131 502L2129 494L2125 476L2123 473L2119 475L2117 463L2117 455L2117 458L2115 450L2115 445L2114 430Z" fill="url(#w1)"/>
<path d="M2206 568L2208 570L2210 577L2213 584L2215 596L2214 608L2215 604L2213 611L2213 624L2209 633L2206 635L2202 634L2200 624L2196 614L2197 614L2196 601L2196 596L2198 593L2200 579L2203 571Z" fill="#00ffff"/>
<path d="M2553 274L2557 278L2562 263L2568 265L2571 277L2576 270L2581 284L2590 278L2598 279L2604 279L2609 276L2616 293L2624 292L2630 288L2635 289L2640 298L2644 306L2646 320L2650 316L2652 327L2651 332L2654 339L2652 334L2655 338L2656 345L2657 358L2656 371L2657 365L2659 381L2659 393L2660 391L2657 387L2654 407L2651 416L2648 418L2646 414L2641 428L2639 438L2640 433L2640 443L2637 448L2638 459L2637 461L2635 477L2635 488L2633 490L2631 480L2630 500L2630 503L2628 499L2629 487L2628 490L2626 475L2626 480L2622 465L2623 456L2615 465L2611 448L2604 456L2604 456L2602 473L2603 484L2603 485L2601 494L2601 501L2598 505L2599 504L2597 510L2596 518L2595 525L2595 537L2594 548L2595 545L2594 541L2592 526L2591 528L2589 514L2588 522L2586 503L2585 503L2584 505L2585 490L2583 482L2585 469L2583 471L2582 464L2584 450L2581 459L2581 443L2581 437L2581 440L2581 428L2577 431L2570 420L2567 406L2562 410L2562 409L2558 415L2557 433L2556 437L2556 421L2555 405L2556 404L2555 407L2554 387L2552 397L2553 382L2556 373L2557 381L2561 369L2565 360L2567 354L2567 338L2567 336L2566 338L2567 319L2567 325L2568 319L2567 307L2564 295L2560 301L2558 296L2556 291Z" fill="url(#w1)"/>
<path d="M2306 670L2310 670L2311 681L2310 686L2311 690L2310 699L2310 703L2305 703L2305 700L2305 690L2305 681L2306 673Z" fill="#00ffff"/>
<path d="M1430 144L1437 146L1444 146L1444 158L1437 159L1430 156Z" fill="#00ffff"/>
<path d="M1485 223L1489 223L1488 231L1488 236L1489 244L1485 244L1485 236L1485 229Z" fill="#00ffff"/>
<path d="M1598 209L1602 209L1603 215L1603 226L1603 234L1604 236L1603 246L1603 251L1597 251L1597 243L1597 240L1597 234L1597 224L1597 215Z" fill="#00ffff"/>
<path d="M2556 274L2561 273L2567 263L2572 274L2572 268L2577 284L2582 293L2589 291L2595 284L2601 280L2609 288L2613 292L2615 290L2622 300L2623 316L2628 316L2635 312L2642 312L2642 322L2643 320L2644 324L2644 341L2645 332L2645 349L2646 354L2646 357L2645 363L2644 380L2644 387L2645 386L2645 389L2644 406L2643 394L2644 410L2644 424L2643 428L2644 426L2644 438L2642 435L2643 454L2642 456L2632 451L2633 458L2632 457L2632 469L2630 475L2631 481L2630 493L2629 492L2624 480L2622 483L2621 476L2619 465L2614 470L2614 471L2611 481L2607 495L2605 493L2602 510L2602 504L2601 503L2599 511L2597 520L2595 531L2595 531L2593 545L2591 541L2590 543L2589 521L2589 518L2587 524L2587 510L2586 503L2585 491L2586 489L2585 490L2584 468L2584 478L2584 462L2583 448L2581 456L2583 444L2582 434L2581 433L2581 423L2579 418L2580 424L2578 420L2578 402L2577 405L2577 391L2569 395L2563 391L2561 398L2561 412L2561 419L2560 411L2560 430L2559 434L2558 433L2556 429L2556 428L2554 418L2554 415L2554 399L2552 403L2551 391L2551 392L2552 376L2550 381L2549 365L2550 350L2549 354L2550 355L2553 340L2553 324L2555 323L2557 319L2558 316L2557 318L2556 294L2557 303L2555 287L2555 273Z" fill="url(#w1)"/>
<path d="M2674 354L2679 358L2687 340L2693 340L2697 346L2703 352L2706 364L2710 354L2716 363L2718 352L2723 340L2725 338L2728 344L2730 330L2737 321L2743 341L2749 335L2751 331L2753 330L2755 314L2755 310L2759 308L2759 302L2763 290L2764 278L2766 284L2768 274L2777 270L2776 273L2777 288L2779 292L2778 301L2781 313L2780 318L2782 316L2781 327L2782 333L2783 333L2781 340L2781 352L2781 362L2780 368L2782 358L2781 367L2782 372L2782 390L2782 391L2776 387L2771 402L2768 410L2763 410L2761 425L2758 425L2754 428L2753 435L2755 431L2755 450L2755 453L2755 468L2757 457L2757 477L2755 489L2756 484L2755 483L2754 496L2753 509L2752 519L2753 510L2752 515L2750 523L2749 533L2749 540L2749 553L2745 562L2744 548L2743 570L2743 581L2740 577L2739 587L2738 587L2739 594L2737 598L2739 609L2736 618L2736 619L2736 634L2737 632L2736 635L2735 656L2735 652L2734 646L2733 635L2733 630L2732 627L2730 619L2730 614L2728 603L2728 596L2728 582L2727 586L2725 584L2726 573L2725 558L2724 550L2724 554L2721 556L2720 538L2719 535L2718 535L2719 527L2718 521L2717 514L2717 504L2718 505L2716 489L2712 486L2707 471L2702 475L2700 478L2698 469L2696 462L2696 454L2695 435L2691 440L2690 430L2688 428L2685 427L2684 406L2682 412L2681 409L2679 394L2677 391L2677 377L2675 382L2674 376L2675 376L2675 369Z" fill="url(#w1)"/>
<path d="M2851 396L2857 396L2861 410L2861 418L2862 426L2861 432L2864 445L2864 439L2863 447L2865 464L2866 452L2868 465L2872 466L2873 467L2875 484L2881 487L2886 488L2891 492L2898 503L2898 517L2901 511L2900 520L2900 521L2902 544L2903 550L2903 549L2901 550L2903 554L2902 570L2902 580L2902 584L2903 580L2904 587L2902 607L2902 606L2903 606L2903 617L2902 624L2903 633L2897 623L2889 625L2884 624L2881 626L2880 605L2880 606L2879 589L2877 597L2875 587L2873 578L2871 564L2870 575L2870 569L2867 563L2868 545L2865 540L2864 530L2863 517L2861 522L2862 510L2861 502L2859 511L2858 488L2856 486L2856 484L2856 482L2854 466L2855 469L2854 454L2853 445L2852 446L2851 437L2852 433L2850 413L2850 415L2852 411L2853 405Z" fill="url(#w1)"/>
<path d="M2947 330L2952 337L2956 331L2959 354L2963 349L2966 362L2968 359L2972 365L2976 378L2977 377L2981 384L2980 387L2984 395L2986 409L2989 410L2991 406L2992 416L2991 431L2994 437L2995 437L2994 440L2996 456L2995 466L2994 474L2991 479L2983 475L2977 484L2975 479L2974 469L2972 474L2971 463L2971 448L2968 447L2966 435L2965 428L2963 432L2962 414L2960 412L2959 410L2956 407L2956 387L2953 399L2952 379L2950 386L2949 372L2948 375L2947 367L2950 354L2949 349L2949 334Z" fill="url(#w1)"/>
<path d="M3045 387L3046 388L3048 380L3048 363L3049 367L3049 363L3050 350L3056 346L3065 340L3071 341L3077 332L3081 337L3084 323L3090 322L3093 321L3095 342L3097 336L3097 345L3101 359L3101 361L3104 364L3107 352L3111 349L3115 349L3120 337L3122 334L3127 331L3131 317L3135 312L3139 307L3143 312L3147 299L3150 299L3153 313L3155 319L3155 315L3157 322L3157 324L3160 336L3167 336L3173 347L3180 331L3188 341L3187 353L3188 353L3188 365L3189 367L3189 379L3189 374L3189 387L3189 392L3189 399L3188 397L3189 409L3189 410L3190 420L3189 424L3189 441L3188 440L3188 446L3187 452L3185 455L3184 459L3184 467L3184 475L3184 476L3183 490L3183 495L3183 501L3181 512L3181 516L3181 526L3180 523L3180 543L3181 536L3180 539L3180 552L3179 560L3181 571L3179 570L3180 574L3182 582L3181 600L3183 595L3183 606L3183 614L3183 612L3186 621L3186 625L3186 645L3188 642L3189 653L3190 661L3190 669L3191 670L3192 679L3192 686L3192 696L3193 699L3197 706L3202 715L3204 720L3197 719L3191 733L3183 727L3176 726L3170 718L3163 720L3157 715L3150 718L3145 713L3141 708L3136 699L3133 689L3130 681L3127 687L3124 680L3120 665L3119 668L3114 667L3111 654L3108 653L3107 649L3103 639L3102 631L3099 634L3096 630L3094 609L3093 619L3090 606L3088 593L3087 593L3086 580L3083 583L3083 569L3082 579L3080 572L3078 560L3076 556L3077 544L3075 539L3076 527L3074 531L3074 522L3073 510L3073 505L3071 504L3071 503L3068 489L3067 482L3067 487L3065 482L3063 467L3061 468L3061 463L3058 445L3057 443L3055 440L3054 426L3054 417L3053 427L3051 412L3049 409L3047 400L3046 389Z" fill="url(#w1)"/>
<path d="M3220 436L3227 433L3233 431L3240 441L3247 442L3253 434L3258 425L3264 433L3269 418L3273 421L3281 412L3285 413L3292 420L3294 429L3295 433L3296 435L3299 447L3300 448L3302 460L3304 466L3304 466L3306 464L3307 478L3306 489L3307 493L3309 501L3310 501L3312 515L3313 512L3313 522L3313 523L3312 536L3312 543L3310 551L3310 555L3309 560L3302 560L3298 574L3292 582L3285 578L3285 584L3285 594L3286 605L3284 601L3285 601L3284 614L3284 614L3284 635L3285 638L3284 643L3284 642L3284 653L3285 661L3284 666L3285 680L3285 676L3285 680L3286 699L3286 699L3287 711L3288 712L3290 725L3291 724L3292 727L3293 743L3295 746L3288 738L3283 743L3275 741L3269 750L3262 740L3255 735L3249 739L3242 731L3236 732L3230 737L3229 728L3228 729L3227 716L3227 707L3226 711L3226 699L3225 701L3223 684L3221 682L3221 670L3219 666L3217 660L3216 653L3213 646L3210 634L3207 638L3204 628L3202 620L3198 615L3196 604L3197 604L3195 595L3194 588L3195 589L3193 578L3198 570L3202 569L3207 569L3212 560L3220 573L3226 569L3226 569L3228 549L3228 542L3228 536L3227 528L3229 535L3230 522L3229 515L3226 515L3226 507L3224 497L3223 486L3221 481L3221 485L3220 474L3218 466L3218 463L3220 462L3219 454L3220 448Z" fill="url(#w1)"/>
<path d="M3150 718L3157 710L3164 722L3171 727L3178 725L3185 717L3191 711L3197 713L3204 720L3209 721L3217 726L3222 721L3230 727L3236 734L3241 722L3247 740L3253 730L3260 742L3265 735L3270 731L3277 739L3282 736L3288 750L3295 746L3298 742L3304 746L3309 759L3313 758L3318 762L3323 769L3326 768L3330 772L3332 781L3334 787L3338 794L3341 809L3343 818L3346 816L3348 822L3350 824L3351 842L3354 843L3356 847L3359 855L3361 853L3362 854L3364 875L3368 872L3369 880L3364 872L3358 875L3351 879L3343 882L3339 880L3333 885L3325 883L3320 878L3314 872L3307 873L3300 876L3295 888L3289 884L3283 881L3276 880L3273 866L3271 863L3269 861L3265 852L3263 858L3260 844L3257 839L3254 837L3252 831L3249 827L3249 823L3245 802L3244 811L3242 795L3239 792L3235 789L3232 785L3230 771L3226 776L3224 765L3220 759L3218 757L3213 744L3211 746L3206 742L3199 748L3193 739L3188 728L3183 730L3178 727L3170 733L3164 730L3158 713Z" fill="#00ffff"/>
<path d="M3311 322L3318 317L3319 321L3319 326L3318 336L3318 339L3318 351L3318 359L3318 364L3319 369L3318 377L3319 379L3319 383L3319 395L3318 398L3319 407L3319 410L3312 406L3312 397L3313 390L3313 389L3312 382L3312 373L3312 363L3311 358L3312 352L3312 344L3311 341L3311 331L3311 327Z" fill="#00ffff"/>
<path d="M3321 315L3326 315L3326 319L3326 327L3326 334L3326 340L3326 347L3326 351L3326 359L3326 364L3326 373L3326 378L3326 383L3326 389L3326 397L3326 403L3326 408L3326 414L3326 422L3326 425L3326 435L3326 440L3326 446L3326 454L3325 459L3325 464L3322 464L3322 457L3322 452L3322 447L3322 438L3322 431L3321 426L3322 421L3321 415L3322 410L3321 404L3322 396L3321 391L3321 381L3321 378L3321 370L3321 364L3321 360L3321 351L3321 347L3321 341L3321 332L3321 326L3321 319Z" fill="#00ffff"/>
<path d="M3020 420L3026 421L3034 424L3034 428L3034 440L3034 446L3034 452L3034 456L3034 463L3033 471L3034 477L3034 479L3033 484L3034 492L3034 496L3034 505L3033 508L3033 520L3033 522L3028 519L3022 513L3022 508L3022 498L3022 498L3021 484L3022 480L3022 473L3021 467L3021 467L3021 458L3020 453L3020 446L3020 442L3020 434L3020 430Z" fill="url(#w2)"/>
<path d="M3043 569L3050 571L3050 580L3050 583L3049 592L3050 601L3049 606L3044 604L3044 596L3043 590L3043 582L3044 574Z" fill="#00ffff"/>
<path d="M3019 451L3026 452L3031 456L3032 460L3032 471L3032 476L3033 484L3032 487L3033 490L3033 504L3034 504L3035 508L3034 521L3036 520L3035 531L3033 526L3031 514L3028 511L3026 503L3025 501L3025 487L3024 484L3022 473L3021 473L3020 462L3020 459Z" fill="#00ffff"/>
<path d="M3615 573L3617 573L3620 567L3620 565L3624 545L3626 539L3627 533L3629 525L3630 519L3633 523L3634 512L3636 498L3641 493L3644 497L3646 494L3648 481L3653 475L3658 477L3663 481L3666 486L3671 498L3676 507L3683 511L3688 502L3695 517L3696 526L3697 533L3697 539L3697 549L3696 548L3696 548L3698 552L3699 562L3699 573L3698 586L3699 595L3698 586L3695 593L3695 600L3694 602L3695 619L3695 632L3693 639L3695 627L3693 641L3693 654L3692 652L3693 654L3691 677L3692 668L3692 676L3691 687L3691 685L3690 706L3692 706L3690 713L3691 727L3690 735L3690 730L3683 730L3678 737L3671 731L3664 739L3657 722L3651 724L3646 740L3639 737L3632 730L3626 739L3620 730L3621 722L3622 726L3620 711L3621 712L3621 692L3620 688L3621 692L3621 683L3622 665L3622 673L3621 664L3623 655L3622 655L3622 642L3620 639L3621 621L3617 614L3617 617L3616 618L3613 617L3611 596L3611 596L3611 584L3614 590Z" fill="url(#w1)"/>
<path d="M3585 656L3590 654L3597 652L3597 663L3597 667L3597 667L3598 676L3599 683L3598 684L3599 694L3599 699L3599 701L3601 715L3601 720L3601 724L3601 730L3595 735L3589 729L3583 730L3584 722L3584 716L3584 707L3583 702L3584 697L3584 695L3584 692L3584 686L3584 679L3585 665L3585 664Z" fill="#00ffff"/>
<path d="M3045 573L3049 573L3050 579L3050 587L3050 593L3050 597L3050 605L3050 610L3046 610L3045 603L3045 599L3045 590L3045 584L3045 578Z" fill="#00ffff"/>
<path d="M2553 698L2560 691L2567 696L2567 703L2568 709L2569 718L2568 728L2568 730L2559 724L2552 730L2553 725L2552 715L2553 714L2552 704Z" fill="#00ffff"/>
<path d="M1764 286L1764 280L1765 276L1765 259L1764 257L1766 250L1764 246L1765 240L1765 225L1766 225L1765 212L1767 221L1767 208L1776 214L1777 229L1778 235L1777 231L1779 233L1779 248L1780 246L1780 265L1781 273L1781 265L1782 276L1789 281L1794 273L1800 273L1806 275L1813 276L1818 277L1824 282L1830 277L1836 267L1843 262L1849 267L1850 253L1851 261L1851 245L1851 241L1851 228L1852 223L1853 221L1854 219L1855 211L1856 205L1856 204L1857 192L1861 199L1861 200L1862 214L1862 214L1864 218L1865 229L1864 242L1866 237L1865 244L1866 262L1866 261L1874 258L1880 264L1885 260L1893 255L1898 248L1905 265L1912 266L1917 261L1925 259L1929 262L1937 264L1942 278L1948 273L1955 276L1962 285L1967 282L1967 287L1970 297L1970 305L1970 310L1970 311L1970 330L1970 334L1969 334L1968 345L1969 348L1969 361L1968 358L1967 366L1967 373L1966 374L1966 381L1964 395L1964 391L1964 404L1958 405L1950 401L1944 405L1937 402L1930 401L1924 409L1918 407L1911 404L1908 405L1905 416L1900 417L1892 419L1886 410L1879 402L1874 404L1866 401L1858 410L1853 414L1844 411L1837 408L1831 406L1824 410L1818 404L1811 404L1807 400L1800 406L1793 400L1786 408L1782 406L1773 406L1769 395L1762 404L1762 392L1764 394L1764 381L1764 386L1765 371L1765 366L1766 366L1767 361L1767 354L1767 343L1768 326L1769 334L1770 320L1770 310L1768 315L1767 297L1764 285Z" fill="url(#w1)"/>
<path d="M1762 404L1768 396L1775 399L1782 403L1787 403L1792 401L1800 403L1807 412L1812 397L1818 404L1817 416L1817 408L1818 415L1818 432L1817 427L1816 446L1818 440L1815 458L1816 454L1816 460L1815 466L1815 478L1814 490L1815 491L1811 493L1808 502L1807 504L1803 514L1799 519L1797 526L1793 528L1790 526L1785 536L1782 547L1778 550L1775 537L1774 537L1774 531L1771 516L1769 513L1769 514L1767 506L1766 499L1766 496L1764 494L1765 474L1764 475L1763 460L1762 460L1761 447L1762 440L1762 439L1762 442L1762 430L1762 420L1762 407L1763 414Z" fill="url(#w1)"/>
<path d="M1824 410L1831 413L1837 408L1846 405L1851 411L1858 410L1858 417L1857 420L1857 429L1855 444L1855 444L1854 450L1853 465L1851 464L1852 470L1850 469L1850 484L1849 491L1847 494L1847 502L1846 512L1843 498L1840 493L1837 491L1834 488L1833 478L1832 479L1830 472L1827 460L1828 448L1827 452L1825 448L1825 442L1826 429L1825 416L1823 407Z" fill="url(#w1)"/>
<path d="M1874 491L1880 496L1886 494L1886 499L1886 510L1885 515L1885 518L1885 526L1885 532L1885 537L1879 537L1878 529L1877 520L1877 519L1876 514L1875 508L1875 498Z" fill="#00ffff"/>
<path d="M1896 428L1905 435L1905 442L1905 451L1904 457L1904 462L1904 468L1904 478L1905 479L1904 483L1903 494L1903 499L1903 510L1904 513L1903 519L1897 515L1898 506L1897 504L1896 495L1896 489L1897 482L1897 477L1896 469L1897 466L1896 458L1896 450L1896 446L1896 439L1895 437Z" fill="#00ffff"/>
<path d="M1911 404L1919 395L1924 411L1931 400L1938 399L1945 410L1952 402L1957 411L1964 404L1962 413L1963 426L1961 422L1959 427L1958 437L1958 444L1958 450L1955 459L1955 459L1955 471L1953 471L1952 483L1952 491L1949 491L1946 502L1944 504L1942 521L1939 519L1935 510L1933 508L1930 495L1926 498L1924 491L1923 488L1920 470L1920 471L1918 465L1917 455L1916 449L1914 444L1914 432L1912 430L1913 428L1913 426L1912 414Z" fill="url(#w1)"/>
<path d="M1976 329L1981 332L1984 340L1988 343L1992 354L1992 363L1991 362L1991 374L1993 384L1992 387L1993 392L1992 395L1993 405L1993 413L1993 417L1993 424L1992 426L1992 435L1992 447L1992 452L1993 449L1993 460L1986 469L1986 460L1984 457L1983 447L1983 443L1982 434L1982 429L1980 426L1979 421L1979 407L1979 410L1978 397L1979 396L1978 380L1978 372L1977 376L1978 371L1977 360L1976 349L1977 348L1977 337L1976 330Z" fill="#00ffff"/>
<path d="M1995 214L1999 213L2005 206L2011 202L2014 215L2020 222L2023 220L2025 235L2027 236L2030 247L2031 237L2034 244L2038 265L2040 261L2042 270L2048 264L2053 272L2060 276L2065 288L2070 293L2074 291L2081 292L2085 298L2089 300L2093 297L2098 304L2104 314L2108 311L2111 333L2114 336L2117 341L2121 347L2125 343L2128 347L2132 357L2126 364L2120 372L2113 364L2107 369L2101 367L2095 369L2088 357L2082 365L2075 356L2070 354L2063 348L2057 357L2051 346L2048 355L2042 345L2038 342L2032 354L2029 355L2025 363L2025 368L2025 368L2023 385L2025 390L2024 402L2024 402L2024 408L2024 413L2024 425L2023 430L2024 432L2023 440L2023 447L2014 447L2013 439L2015 437L2014 423L2013 423L2013 419L2012 401L2013 404L2012 405L2011 394L2011 390L2011 386L2011 372L2011 366L2011 361L2007 347L2006 349L2007 337L2004 336L2002 327L2001 318L2001 325L1998 308L1998 304L1998 306L1997 284L1997 285L1994 277L1994 262L1994 260L1992 258L1993 247L1994 242L1994 243L1993 234L1994 222L1994 213Z" fill="url(#w1)"/>
<path d="M1983 180L1992 183L1992 188L1992 191L1992 202L1992 210L1992 216L1993 224L1992 223L1993 230L1994 237L1993 244L1993 251L1984 251L1984 247L1984 235L1983 230L1984 223L1983 223L1983 214L1983 203L1983 198L1982 196L1983 185Z" fill="url(#w2)"/>
<path d="M1731 217L1739 210L1745 216L1751 209L1759 211L1760 222L1760 217L1759 226L1759 237L1761 247L1760 245L1761 255L1762 255L1761 262L1761 269L1762 279L1756 280L1750 286L1743 284L1737 284L1731 282L1731 276L1731 268L1732 268L1732 260L1730 247L1731 240L1731 240L1732 236L1730 221Z" fill="url(#w2)"/>
<path d="M2153 273L2159 274L2167 282L2172 276L2177 272L2180 271L2186 261L2189 263L2192 262L2197 248L2199 259L2200 257L2204 267L2206 265L2207 285L2209 282L2215 280L2221 273L2228 273L2230 263L2232 267L2232 255L2233 241L2235 244L2236 228L2238 222L2238 218L2238 220L2240 211L2247 208L2247 214L2247 215L2249 220L2249 242L2249 239L2250 241L2249 257L2250 258L2251 267L2251 265L2252 262L2254 255L2256 244L2258 245L2259 225L2258 224L2261 219L2262 205L2263 208L2264 202L2268 205L2268 211L2268 223L2269 227L2269 222L2269 242L2269 249L2269 256L2271 257L2272 262L2272 262L2271 273L2273 268L2275 256L2274 258L2276 243L2278 243L2278 243L2278 234L2280 229L2281 217L2287 223L2286 223L2287 230L2289 248L2288 253L2288 264L2289 258L2290 265L2290 282L2290 282L2296 284L2301 288L2306 296L2313 306L2318 304L2323 311L2330 304L2335 316L2341 320L2346 310L2352 317L2358 315L2364 325L2371 326L2377 316L2383 326L2390 336L2396 338L2401 344L2407 337L2414 341L2414 352L2416 357L2416 352L2415 363L2417 375L2417 374L2417 385L2411 394L2405 382L2401 392L2396 389L2389 381L2383 373L2376 375L2370 384L2361 379L2355 375L2350 373L2346 375L2340 366L2334 373L2329 375L2324 379L2325 386L2324 394L2324 391L2323 410L2323 402L2322 414L2322 420L2322 422L2321 435L2321 441L2313 447L2306 444L2303 432L2302 433L2300 429L2298 418L2295 416L2294 402L2293 409L2290 397L2284 401L2275 395L2268 391L2266 381L2262 375L2258 373L2255 359L2253 365L2250 354L2245 341L2240 351L2237 342L2233 338L2228 326L2224 324L2218 341L2213 350L2209 348L2205 342L2201 338L2198 325L2192 327L2188 322L2184 317L2180 312L2174 314L2171 302L2164 304L2160 298L2157 294L2157 278L2154 273Z" fill="url(#w1)"/>
<path d="M1880 933L1887 933L1893 922L1898 920L1905 922L1911 912L1919 915L1924 923L1927 918L1931 923L1935 933L1942 934L1949 944L1956 943L1963 947L1970 949L1977 950L1975 957L1970 956L1963 960L1956 966L1953 964L1946 957L1942 952L1935 955L1927 955L1919 954L1913 956L1908 949L1902 951L1896 943L1890 936L1885 938Z" fill="#00ffff"/>
<path d="M2306 670L2310 670L2310 673L2309 684L2308 688L2308 702L2309 705L2299 705L2300 700L2300 695L2300 687L2303 677Z" fill="#00ffff"/>
<path d="M2175 882L2175 878L2176 854L2178 850L2176 839L2176 831L2176 806L2178 803L2186 798L2194 789L2207 785L2218 776L2231 780L2236 772L2241 761L2256 759L2269 756L2281 753L2292 752L2300 736L2307 730L2316 727L2324 729L2343 733L2356 733L2366 747L2375 750L2385 761L2396 756L2408 770L2420 781L2432 780L2444 779L2455 761L2465 763L2476 766L2485 750L2497 756L2505 756L2515 742L2530 733L2536 718L2542 721L2547 712L2553 701L2558 711L2566 715L2570 727L2577 733L2584 745L2588 751L2595 768L2600 770L2608 772L2615 782L2623 794L2635 802L2648 806L2660 798L2665 801L2656 817L2647 814L2641 832L2631 832L2623 840L2618 861L2613 857L2610 881L2605 882L2617 892L2628 901L2637 908L2649 917L2659 902L2670 913L2681 922L2693 914L2704 911L2716 920L2729 925L2740 913L2750 923L2763 924L2774 916L2785 926L2798 918L2810 920L2816 911L2819 892L2830 896L2844 887L2856 882L2855 872L2853 857L2854 852L2853 842L2851 826L2852 826L2854 807L2853 798L2856 784L2856 773L2867 767L2879 786L2891 777L2903 777L2914 789L2927 794L2938 787L2949 794L2960 788L2971 791L2985 786L2996 789L2997 787L3000 763L3012 756L3024 763L3032 771L3042 780L3050 797L3060 805L3071 802L3083 803L3092 803L3105 796L3113 783L3125 790L3141 779L3154 787L3160 798L3166 811L3174 810L3175 822L3176 836L3187 837L3200 824L3213 832L3216 831L3215 805L3217 801L3220 787L3214 784L3207 764L3199 760L3190 750L3180 735L3171 727L3161 725L3148 715L3142 693L3135 692L3131 678L3125 666L3124 659L3123 640L3134 645L3142 643L3153 634L3165 644L3175 643L3183 643L3194 635L3204 646L3214 644L3223 636L3235 638L3246 631L3255 629L3266 637L3273 635L3285 640L3285 655L3286 669L3286 671L3285 687L3286 688L3285 705L3289 717L3295 717L3301 726L3305 742L3311 754L3326 759L3327 777L3327 774L3327 797L3339 806L3350 793L3362 806L3376 797L3382 780L3388 770L3396 766L3401 772L3405 790L3415 803L3424 793L3432 813L3441 816L3453 803L3462 804L3474 810L3480 795L3484 790L3490 789L3494 777L3496 758L3501 742L3507 738L3511 740L3516 756L3523 770L3529 779L3533 797L3541 797L3549 810L3555 824L3564 828L3572 829L3588 832L3589 811L3587 817L3589 809L3588 791L3590 766L3588 770L3590 754L3589 734L3588 730L3588 732L3588 705L3587 708L3586 703L3584 686L3585 673L3587 658L3591 653L3606 650L3621 650L3622 640L3637 632L3650 640L3662 630L3673 642L3688 636L3699 640L3696 638L3694 656L3693 656L3691 676L3692 696L3696 698L3698 716L3701 723L3706 741L3711 751L3714 760L3716 762L3721 777L3725 765L3726 760L3730 757L3732 739L3735 739L3737 724L3739 719L3742 702L3744 688L3743 677L3743 662L3741 659L3742 635L3742 629L3740 618L3744 597L3749 605L3752 584L3756 577L3765 577L3764 587L3764 591L3764 620L3765 618L3765 639L3764 641L3764 657L3765 658L3763 678L3763 686L3762 696L3762 715L3767 727L3778 712L3791 715L3795 707L3802 689L3806 688L3810 667L3814 665L3817 672L3822 688L3833 678L3845 676L3848 692L3854 697L3857 714L3861 723L3865 726L3868 752L3872 760L3876 762L3886 769L3899 777L3910 777L3924 781L3934 793L3934 791L3935 776L3935 760L3937 755L3938 737L3938 723L3954 715L3960 706L3965 701L3971 688L3977 676L3981 679L3987 706L3991 695L3996 715L4006 707L4016 696L4025 697L4031 676L4044 675L4055 692L4065 695L4074 676L4078 697L4082 700L4086 708L4098 718L4109 715L4111 732L4114 742L4116 756L4119 758L4121 766L4128 783L4133 781L4140 801L4143 786L4146 770L4147 761L4151 754L4154 754L4156 739L4162 740L4171 754L4179 774L4187 777L4199 787L4210 777L4219 775L4229 789L4240 777L4250 777L4262 772L4270 785L4283 787L4292 775L4299 781L4305 802L4311 798L4316 815L4322 817L4329 826L4335 828L4339 841L4344 853L4347 859L4352 873L4352 866L4353 845L4355 841L4353 835L4354 819L4354 802L4356 802L4355 789L4362 794L4361 807L4363 825L4362 820L4364 826L4364 841L4364 863L4363 870L4364 869L4364 879L4364 901L4374 907L4385 901L4385 889L4385 871L4385 871L4385 850L4388 856L4387 827L4385 823L4388 808L4387 803L4397 808L4398 807L4397 823L4396 848L4397 840L4397 854L4399 870L4397 876L4399 886L4397 897L4398 903L4398 915L4399 929L4409 937L4417 928L4427 943L4428 940L4426 928L4426 916L4427 905L4429 899L4428 880L4429 880L4428 863L4429 846L4428 831L4427 820L4428 822L4430 802L4429 793L4428 787L4430 788L4429 775L4429 756L4439 770L4446 775L4455 763L4465 766L4474 780L4480 782L4488 803L4489 810L4490 814L4489 844L4491 842L4492 851L4491 876L4492 875L4493 887L4495 907L4496 917L4496 924L4496 931L4499 934L4497 959L4499 958L4500 971L4502 974L4502 989L4500 998L4498 1014L4494 1020L4490 1035L4489 1029L4486 1054L4483 1059L4472 1066L4463 1067L4453 1068L4441 1066L4433 1050L4422 1061L4414 1048L4404 1048L4393 1051L4382 1058L4372 1052L4362 1057L4352 1057L4343 1047L4334 1050L4322 1053L4314 1059L4303 1051L4294 1050L4281 1049L4273 1042L4262 1056L4252 1051L4241 1049L4233 1053L4223 1042L4212 1046L4203 1045L4193 1049L4182 1049L4174 1041L4162 1049L4152 1050L4142 1057L4132 1056L4122 1041L4111 1044L4103 1060L4093 1048L4081 1053L4072 1040L4062 1042L4051 1050L4043 1054L4033 1048L4020 1047L4011 1047L4002 1057L3990 1057L3980 1045L3972 1037L3960 1037L3952 1045L3940 1041L3932 1051L3922 1038L3912 1054L3901 1053L3890 1050L3880 1049L3870 1042L3862 1036L3849 1051L3839 1045L3830 1046L3820 1055L3810 1045L3799 1053L3790 1040L3780 1049L3770 1052L3760 1035L3749 1034L3740 1044L3730 1043L3730 1036L3719 1030L3710 1036L3700 1035L3688 1028L3680 1026L3668 1040L3658 1032L3649 1045L3637 1040L3628 1025L3618 1039L3609 1044L3600 1039L3589 1045L3578 1026L3568 1027L3556 1035L3547 1026L3537 1038L3528 1034L3518 1039L3506 1033L3495 1043L3486 1028L3477 1037L3466 1026L3457 1036L3447 1025L3435 1030L3427 1026L3416 1037L3404 1035L3394 1032L3386 1026L3375 1023L3366 1024L3353 1045L3346 1031L3334 1029L3325 1045L3315 1032L3303 1041L3293 1023L3285 1038L3273 1033L3264 1031L3254 1023L3242 1044L3232 1023L3224 1026L3213 1042L3202 1043L3192 1027L3182 1034L3171 1032L3163 1043L3151 1029L3141 1028L3132 1036L3120 1043L3111 1026L3101 1043L3092 1037L3080 1032L3071 1038L3059 1043L3050 1042L3040 1040L3031 1033L3019 1022L3010 1031L3000 1025L2988 1022L2979 1030L2969 1032L2958 1035L2948 1031L2937 1039L2927 1024L2918 1025L2907 1030L2903 1015L2892 1019L2883 1012L2871 1024L2860 1023L2850 1023L2839 1022L2831 1016L2820 1018L2809 1003L2800 1020L2788 1003L2778 1011L2769 1002L2758 999L2747 1005L2738 1015L2725 1012L2716 1006L2707 1012L2695 994L2686 1009L2676 1004L2664 994L2655 1010L2644 996L2634 1000L2623 999L2613 1006L2603 997L2592 994L2581 992L2570 997L2561 994L2551 994L2541 1006L2530 996L2515 991L2501 994L2491 985L2479 1000L2466 1003L2455 994L2442 988L2432 994L2420 988L2408 999L2396 996L2385 1013L2376 1019L2366 1032L2357 1027L2345 1022L2335 1022L2324 1019L2315 1031L2303 1033L2292 1043L2279 1026L2269 1036L2258 1040L2243 1041L2231 1036L2229 1022L2226 1014L2223 997L2222 994L2223 992L2221 984L2219 967L2218 944L2220 939L2218 933L2218 921L2218 905L2217 901L2210 920L2203 920L2202 941L2201 934L2198 957L2196 957L2194 975L2192 979L2190 989L2189 1017L2187 1017L2187 1006L2186 998L2184 979L2186 974L2184 969L2183 945L2182 938L2181 917L2181 922L2177 896L2177 893Z" fill="#00ffff"/>
<path d="M3184 640L3190 646L3198 635L3204 644L3213 638L3220 640L3220 645L3223 647L3224 660L3225 669L3226 673L3221 677L3217 689L3213 689L3206 691L3200 687L3193 686L3190 685L3186 670L3184 666L3184 665L3183 647L3183 644Z" fill="#ffffff"/>
<path d="M3228 735L3234 736L3240 740L3246 738L3246 750L3246 748L3247 758L3247 757L3248 775L3249 776L3248 780L3249 787L3248 795L3248 800L3248 803L3248 807L3247 812L3247 818L3247 825L3247 830L3246 842L3240 836L3233 836L3231 827L3231 826L3230 821L3230 808L3228 801L3227 793L3226 789L3226 787L3226 779L3227 775L3227 770L3228 760L3227 749L3228 741L3227 746Z" fill="#ffffff"/>
<path d="M3246 836L3252 842L3259 845L3265 838L3272 842L3274 847L3274 853L3275 853L3277 871L3279 875L3280 883L3281 883L3283 895L3283 898L3285 901L3288 909L3291 909L3294 920L3298 927L3294 928L3291 940L3284 937L3278 940L3272 933L3265 926L3259 922L3252 920L3250 917L3249 910L3248 905L3245 898L3243 886L3242 881L3242 879L3243 874L3244 857L3244 851L3245 848L3245 842Z" fill="#ffffff"/>
<path d="M3125 852L3133 855L3140 851L3148 849L3154 849L3161 854L3168 853L3175 854L3180 852L3181 858L3180 865L3174 871L3167 871L3162 862L3155 868L3148 868L3141 874L3135 872L3128 881L3127 871L3127 867L3125 860Z" fill="#ffffff"/>
<path d="M3128 920L3136 923L3144 916L3151 918L3158 917L3163 909L3170 914L3176 910L3182 898L3187 901L3193 890L3200 890L3207 888L3210 889L3213 901L3209 902L3206 910L3202 921L3201 919L3198 927L3193 933L3191 937L3188 947L3185 960L3183 963L3180 966L3175 967L3168 978L3164 977L3158 979L3151 982L3144 989L3138 989L3132 992L3130 990L3127 978L3124 973L3122 966L3123 956L3124 955L3124 943L3125 944L3127 937L3128 923Z" fill="#ffffff"/>
<path d="M3321 754L3323 754L3323 1008L3321 1008Z" fill="#ffffff"/>
<path d="M2238 831L2248 829L2247 833L2248 839L2248 848L2249 854L2248 859L2239 859L2239 849L2239 845L2238 841Z" fill="#ffb6c1"/>
<path d="M4641 784L4648 784L4653 784L4653 782L4653 797L4654 803L4654 802L4652 811L4653 820L4653 826L4653 831L4653 847L4654 843L4653 854L4653 863L4653 855L4653 871L4653 879L4654 886L4652 892L4653 891L4653 896L4653 906L4653 905L4653 925L4654 931L4654 931L4654 936L4654 940L4652 953L4652 960L4652 961L4653 969L4654 964L4654 972L4654 981L4654 988L4653 992L4653 996L4653 1000L4653 1013L4647 1009L4638 1006L4632 1013L4632 1015L4633 993L4633 999L4632 996L4631 976L4633 969L4633 971L4632 957L4633 951L4634 960L4633 938L4633 934L4633 931L4633 924L4634 919L4634 917L4633 905L4633 905L4634 892L4634 899L4633 889L4635 880L4634 873L4635 873L4636 852L4636 845L4637 847L4637 849L4638 828L4638 822L4638 816L4639 808L4639 803L4639 808L4641 798L4642 793Z" fill="#00ffff"/>
<path d="M4595 1045L4601 1051L4609 1042L4614 1052L4620 1053L4627 1048L4628 1052L4627 1064L4622 1058L4615 1059L4608 1058L4602 1063L4596 1062L4594 1058Z" fill="#00ffff"/>
<path d="M3737 583L3751 584L3764 578L3764 593L3764 612L3765 617L3765 640L3764 650L3749 650L3737 650L3737 628L3737 615L3737 603L3737 588Z" fill="#00ffff"/>
<path d="M2530 910L2541 907L2550 912L2559 920L2569 924L2579 909L2590 916L2600 920L2611 915L2620 930L2629 936L2641 933L2650 927L2661 930L2670 938L2681 939L2691 936L2700 946L2710 938L2721 946L2731 939L2741 942L2752 948L2763 947L2773 944L2783 959L2794 946L2802 960L2813 959L2824 956L2833 960L2843 966L2852 952L2863 965L2874 969L2882 959L2892 966L2903 966L2913 961L2926 967L2938 968L2949 975L2950 992L2950 1001L2949 1013L2940 1018L2929 1009L2918 1018L2907 1010L2897 1014L2887 1011L2879 1005L2869 1009L2857 1016L2847 1011L2836 1017L2826 1012L2816 1006L2807 1016L2795 1010L2785 1005L2776 1008L2765 1011L2754 1013L2745 1008L2734 1003L2725 1011L2713 1006L2703 1011L2695 1001L2684 1014L2674 1006L2663 1016L2652 1001L2642 1007L2632 1010L2621 1004L2611 1007L2600 1004L2591 1015L2581 1009L2571 1000L2560 1014L2551 1011L2540 1009L2530 1008L2530 997L2531 985L2531 980L2529 963L2530 948L2529 944L2529 929L2529 922Z" fill="url(#p2)"/>
<path d="M2357 901L2366 906L2378 897L2387 905L2398 906L2407 899L2418 892L2428 889L2437 892L2448 898L2458 888L2468 900L2479 899L2488 885L2498 895L2510 886L2520 889L2529 892L2531 901L2528 907L2530 924L2528 938L2529 936L2528 948L2528 956L2529 971L2528 974L2530 996L2530 1000L2529 1013L2519 1005L2507 1021L2498 1008L2486 1012L2478 1022L2466 1018L2456 1018L2445 1019L2435 1023L2425 1014L2414 1024L2404 1017L2392 1024L2382 1028L2372 1020L2362 1022L2360 1016L2361 996L2360 983L2359 975L2361 969L2359 963L2359 954L2358 932L2359 935L2357 929L2357 911Z" fill="url(#p2)"/>
<path d="M2469 906L2480 904L2489 903L2500 907L2510 903L2520 901L2521 906L2524 920L2525 938L2516 950L2510 958L2501 966L2492 963L2483 945L2473 938L2473 926L2471 923Z" fill="url(#p4)"/>
</g>
<g clip-path="url(#pc)">
<path d="M431.0 331.6 L474.0 331.6 L452.5 368.1Z" fill="#ff0000" fill-rule="evenodd"/>
<path d="M431.0 406.5 L474.0 406.5 L452.5 370.0Z" fill="#ff0000" fill-rule="evenodd"/>
<path d="M476.0 251.7 L519.0 251.7 L497.5 288.2Z" fill="#ff0000" fill-rule="evenodd"/>
<path d="M476.0 337.3 L519.0 337.3 L497.5 300.8Z" fill="#ff0000" fill-rule="evenodd"/>
<path d="M476.0 493.8 L519.0 493.8 L497.5 530.3Z" fill="#fff"/>
<path d="M476.0 493.8 L519.0 493.8 L497.5 530.3Z M487.1 500.2 L507.8 500.2 L497.5 517.7Z" fill="#ff0000" fill-rule="evenodd"/>
<path d="M476.0 565.3 L519.0 565.3 L497.5 528.8Z" fill="#fff"/>
<path d="M476.0 565.3 L519.0 565.3 L497.5 528.8Z M487.1 558.9 L507.8 558.9 L497.5 541.4Z" fill="#ff0000" fill-rule="evenodd"/>
<path d="M520.9 466.5 L563.9 466.5 L542.4 503.0Z" fill="#ff0000" fill-rule="evenodd"/>
<path d="M565.9 312.8 L608.9 312.8 L587.4 349.3Z" fill="#ff0000" fill-rule="evenodd"/>
<path d="M565.9 468.8 L608.9 468.8 L587.4 432.3Z" fill="#ff0000" fill-rule="evenodd"/>
<path d="M610.8 314.9 L653.8 314.9 L632.3 351.4Z" fill="#ff0000" fill-rule="evenodd"/>
<path d="M610.8 458.6 L653.8 458.6 L632.3 422.1Z" fill="#ff0000" fill-rule="evenodd"/>
<path d="M655.8 285.0 L698.8 285.0 L677.2 321.5Z" fill="#ff0000" fill-rule="evenodd"/>
<path d="M655.8 396.2 L698.8 396.2 L677.2 359.7Z" fill="#ff0000" fill-rule="evenodd"/>
<path d="M700.7 278.6 L743.7 278.6 L722.2 315.1Z" fill="#ff0000" fill-rule="evenodd"/>
<path d="M700.7 347.1 L743.7 347.1 L722.2 310.6Z" fill="#ff0000" fill-rule="evenodd"/>
<path d="M745.7 261.5 L788.7 261.5 L767.2 298.0Z" fill="#ff0000" fill-rule="evenodd"/>
<path d="M745.7 389.8 L788.7 389.8 L767.2 353.3Z" fill="#ff0000" fill-rule="evenodd"/>
<path d="M880.5 226.9 L923.5 226.9 L902.0 263.4Z" fill="#ff0000" fill-rule="evenodd"/>
<path d="M880.5 338.6 L923.5 338.6 L902.0 302.1Z" fill="#ff0000" fill-rule="evenodd"/>
<path d="M1599.7 256.4 L1642.7 256.4 L1621.2 292.9Z" fill="#ff0000" fill-rule="evenodd"/>
<path d="M1599.7 374.9 L1642.7 374.9 L1621.2 338.4Z" fill="#ff0000" fill-rule="evenodd"/>
<path d="M1644.7 256.4 L1687.7 256.4 L1666.2 292.9Z" fill="#ff0000" fill-rule="evenodd"/>
<path d="M1644.7 383.4 L1687.7 383.4 L1666.2 346.9Z" fill="#ff0000" fill-rule="evenodd"/>
<path d="M1689.6 285.0 L1732.6 285.0 L1711.1 321.5Z" fill="#ff0000" fill-rule="evenodd"/>
<path d="M1689.6 407.3 L1732.6 407.3 L1711.1 370.8Z" fill="#ff0000" fill-rule="evenodd"/>
<path d="M1734.6 235.9 L1777.6 235.9 L1756.1 272.4Z" fill="#ff0000" fill-rule="evenodd"/>
<path d="M1734.6 291.6 L1777.6 291.6 L1756.1 255.1Z" fill="#ff0000" fill-rule="evenodd"/>
<path d="M1779.5 263.7 L1822.5 263.7 L1801.0 300.2Z" fill="#ff0000" fill-rule="evenodd"/>
<path d="M1779.5 529.0 L1822.5 529.0 L1801.0 492.5Z" fill="#ff0000" fill-rule="evenodd"/>
<path d="M1824.5 244.4 L1867.5 244.4 L1846.0 280.9Z" fill="#ff0000" fill-rule="evenodd"/>
<path d="M1824.5 460.7 L1867.5 460.7 L1846.0 424.2Z" fill="#ff0000" fill-rule="evenodd"/>
<path d="M1869.4 305.1 L1912.4 305.1 L1890.9 341.6Z" fill="#ff0000" fill-rule="evenodd"/>
<path d="M1869.4 399.7 L1912.4 399.7 L1890.9 363.2Z" fill="#ff0000" fill-rule="evenodd"/>
<path d="M1914.3 289.7 L1957.3 289.7 L1935.8 326.2Z" fill="#ff0000" fill-rule="evenodd"/>
<path d="M1914.3 515.0 L1957.3 515.0 L1935.8 478.5Z" fill="#ff0000" fill-rule="evenodd"/>
<path d="M1959.3 224.8 L2002.3 224.8 L1980.8 261.3Z" fill="#ff0000" fill-rule="evenodd"/>
<path d="M2004.2 214.6 L2047.2 214.6 L2025.8 251.1Z" fill="#ff0000" fill-rule="evenodd"/>
<path d="M2004.2 360.8 L2047.2 360.8 L2025.8 324.3Z" fill="#ff0000" fill-rule="evenodd"/>
<path d="M2049.2 275.6 L2092.2 275.6 L2070.7 312.1Z" fill="#ff0000" fill-rule="evenodd"/>
<path d="M2049.2 372.3 L2092.2 372.3 L2070.7 335.8Z" fill="#ff0000" fill-rule="evenodd"/>
<path d="M2094.2 308.5 L2137.2 308.5 L2115.7 345.0Z" fill="#ff0000" fill-rule="evenodd"/>
<path d="M2094.2 377.0 L2137.2 377.0 L2115.7 340.5Z" fill="#ff0000" fill-rule="evenodd"/>
<path d="M2139.1 447.3 L2182.1 447.3 L2160.6 483.8Z" fill="#ff0000" fill-rule="evenodd"/>
<path d="M2139.1 522.6 L2182.1 522.6 L2160.6 486.1Z" fill="#ff0000" fill-rule="evenodd"/>
<path d="M2229.0 302.9 L2272.0 302.9 L2250.5 339.4Z" fill="#ff0000" fill-rule="evenodd"/>
<path d="M2229.0 386.0 L2272.0 386.0 L2250.5 349.5Z" fill="#ff0000" fill-rule="evenodd"/>
<path d="M2274.0 275.6 L2317.0 275.6 L2295.5 312.1Z" fill="#ff0000" fill-rule="evenodd"/>
<path d="M2274.0 418.0 L2317.0 418.0 L2295.5 381.5Z" fill="#ff0000" fill-rule="evenodd"/>
<path d="M2318.9 364.9 L2361.9 364.9 L2340.4 401.4Z" fill="#ff0000" fill-rule="evenodd"/>
<path d="M2318.9 435.1 L2361.9 435.1 L2340.4 398.6Z" fill="#ff0000" fill-rule="evenodd"/>
<path d="M2543.7 292.7 L2586.7 292.7 L2565.2 329.2Z" fill="#ff0000" fill-rule="evenodd"/>
<path d="M2543.7 364.6 L2586.7 364.6 L2565.2 328.1Z" fill="#ff0000" fill-rule="evenodd"/>
<path d="M2588.6 290.6 L2631.6 290.6 L2610.1 327.1Z" fill="#ff0000" fill-rule="evenodd"/>
<path d="M2588.6 468.8 L2631.6 468.8 L2610.1 432.3Z" fill="#ff0000" fill-rule="evenodd"/>
<path d="M2678.5 342.2 L2721.5 342.2 L2700.0 378.7Z" fill="#ff0000" fill-rule="evenodd"/>
<path d="M2678.5 468.8 L2721.5 468.8 L2700.0 432.3Z" fill="#ff0000" fill-rule="evenodd"/>
<path d="M2723.5 386.6 L2766.5 386.6 L2745.0 423.1Z" fill="#ff0000" fill-rule="evenodd"/>
<path d="M2723.5 537.2 L2766.5 537.2 L2745.0 500.7Z" fill="#ff0000" fill-rule="evenodd"/>
<path d="M2858.3 492.1 L2901.3 492.1 L2879.8 528.6Z" fill="#ff0000" fill-rule="evenodd"/>
<path d="M2858.3 630.2 L2901.3 630.2 L2879.8 593.7Z" fill="#ff0000" fill-rule="evenodd"/>
<path d="M2948.2 332.0 L2991.2 332.0 L2969.7 368.5Z" fill="#ff0000" fill-rule="evenodd"/>
<path d="M2948.2 476.1 L2991.2 476.1 L2969.7 439.6Z" fill="#ff0000" fill-rule="evenodd"/>
<path d="M3038.1 343.9 L3081.1 343.9 L3059.6 380.4Z" fill="#ff0000" fill-rule="evenodd"/>
<path d="M3038.1 461.1 L3081.1 461.1 L3059.6 424.6Z" fill="#ff0000" fill-rule="evenodd"/>
<path d="M3083.1 334.1 L3126.1 334.1 L3104.6 370.6Z" fill="#ff0000" fill-rule="evenodd"/>
<path d="M3083.1 667.0 L3126.1 667.0 L3104.6 630.5Z" fill="#ff0000" fill-rule="evenodd"/>
<path d="M3128.0 315.3 L3171.0 315.3 L3149.5 351.8Z" fill="#ff0000" fill-rule="evenodd"/>
<path d="M3173.0 374.7 L3216.0 374.7 L3194.5 411.2Z" fill="#ff0000" fill-rule="evenodd"/>
<path d="M3217.9 429.8 L3260.9 429.8 L3239.4 466.3Z" fill="#ff0000" fill-rule="evenodd"/>
<path d="M3262.8 383.2 L3305.8 383.2 L3284.3 419.7Z" fill="#ff0000" fill-rule="evenodd"/>
<path d="M3262.8 532.9 L3305.8 532.9 L3284.3 496.4Z" fill="#ff0000" fill-rule="evenodd"/>
<path d="M3622.5 484.4 L3665.5 484.4 L3644.0 520.9Z" fill="#ff0000" fill-rule="evenodd"/>
<path d="M3667.4 519.9 L3710.4 519.9 L3688.9 556.4Z" fill="#ff0000" fill-rule="evenodd"/>
<path d="M520.9 751.2 L563.9 751.2 L542.4 714.7Z" fill="#ff0000" fill-rule="evenodd"/>
<path d="M565.9 674.6 L608.9 674.6 L587.4 711.1Z" fill="#fff"/>
<path d="M565.9 674.6 L608.9 674.6 L587.4 711.1Z M577.0 681.0 L597.7 681.0 L587.4 698.5Z" fill="#ff0000" fill-rule="evenodd"/>
<path d="M565.9 753.3 L608.9 753.3 L587.4 716.8Z" fill="#fff"/>
<path d="M565.9 753.3 L608.9 753.3 L587.4 716.8Z M577.0 746.9 L597.7 746.9 L587.4 729.4Z" fill="#ff0000" fill-rule="evenodd"/>
<path d="M2184.1 786.9 L2227.1 786.9 L2205.6 823.4Z" fill="#ff0000" fill-rule="evenodd"/>
<path d="M2184.1 876.7 L2227.1 876.7 L2205.6 840.2Z" fill="#ff0000" fill-rule="evenodd"/>
<path d="M2229.0 738.6 L2272.0 738.6 L2250.5 775.1Z" fill="#fff"/>
<path d="M2229.0 738.6 L2272.0 738.6 L2250.5 775.1Z M2240.2 745.0 L2260.8 745.0 L2250.5 762.5Z" fill="#ff0000" fill-rule="evenodd"/>
<path d="M2229.0 1042.0 L2272.0 1042.0 L2250.5 1005.5Z" fill="#fff"/>
<path d="M2229.0 1042.0 L2272.0 1042.0 L2250.5 1005.5Z M2240.2 1035.6 L2260.8 1035.6 L2250.5 1018.1Z" fill="#ff0000" fill-rule="evenodd"/>
<path d="M2274.0 730.5 L2317.0 730.5 L2295.5 767.0Z" fill="#fff"/>
<path d="M2274.0 730.5 L2317.0 730.5 L2295.5 767.0Z M2285.1 736.9 L2305.8 736.9 L2295.5 754.4Z" fill="#ff0000" fill-rule="evenodd"/>
<path d="M2274.0 1038.6 L2317.0 1038.6 L2295.5 1002.1Z" fill="#fff"/>
<path d="M2274.0 1038.6 L2317.0 1038.6 L2295.5 1002.1Z M2285.1 1032.2 L2305.8 1032.2 L2295.5 1014.7Z" fill="#ff0000" fill-rule="evenodd"/>
<path d="M2318.9 730.5 L2361.9 730.5 L2340.4 767.0Z" fill="#fff"/>
<path d="M2318.9 730.5 L2361.9 730.5 L2340.4 767.0Z M2330.1 736.9 L2350.7 736.9 L2340.4 754.4Z" fill="#ff0000" fill-rule="evenodd"/>
<path d="M2318.9 1035.6 L2361.9 1035.6 L2340.4 999.1Z" fill="#fff"/>
<path d="M2318.9 1035.6 L2361.9 1035.6 L2340.4 999.1Z M2330.1 1029.2 L2350.7 1029.2 L2340.4 1011.7Z" fill="#ff0000" fill-rule="evenodd"/>
<path d="M2363.9 747.6 L2406.9 747.6 L2385.4 784.1Z" fill="#ff0000" fill-rule="evenodd"/>
<path d="M2363.9 1028.8 L2406.9 1028.8 L2385.4 992.3Z" fill="#ff0000" fill-rule="evenodd"/>
<path d="M2408.8 769.8 L2451.8 769.8 L2430.3 806.3Z" fill="#ff0000" fill-rule="evenodd"/>
<path d="M2408.8 1009.5 L2451.8 1009.5 L2430.3 973.0Z" fill="#ff0000" fill-rule="evenodd"/>
<path d="M2453.8 767.7 L2496.8 767.7 L2475.2 804.2Z" fill="#ff0000" fill-rule="evenodd"/>
<path d="M2453.8 1013.4 L2496.8 1013.4 L2475.2 976.9Z" fill="#ff0000" fill-rule="evenodd"/>
<path d="M2498.7 719.0 L2541.7 719.0 L2520.2 755.5Z" fill="#ff0000" fill-rule="evenodd"/>
<path d="M2498.7 1020.2 L2541.7 1020.2 L2520.2 983.7Z" fill="#ff0000" fill-rule="evenodd"/>
<path d="M2543.7 724.9 L2586.7 724.9 L2565.2 761.4Z" fill="#fff"/>
<path d="M2543.7 724.9 L2586.7 724.9 L2565.2 761.4Z M2554.8 731.3 L2575.5 731.3 L2565.2 748.8Z" fill="#ff0000" fill-rule="evenodd"/>
<path d="M2543.7 999.7 L2586.7 999.7 L2565.2 963.2Z" fill="#fff"/>
<path d="M2543.7 999.7 L2586.7 999.7 L2565.2 963.2Z M2554.8 993.3 L2575.5 993.3 L2565.2 975.8Z" fill="#ff0000" fill-rule="evenodd"/>
<path d="M2588.6 780.5 L2631.6 780.5 L2610.1 817.0Z" fill="#fff"/>
<path d="M2588.6 780.5 L2631.6 780.5 L2610.1 817.0Z M2599.8 786.9 L2620.4 786.9 L2610.1 804.4Z" fill="#ff0000" fill-rule="evenodd"/>
<path d="M2588.6 1045.0 L2631.6 1045.0 L2610.1 1008.5Z" fill="#fff"/>
<path d="M2588.6 1045.0 L2631.6 1045.0 L2610.1 1008.5Z M2599.8 1038.6 L2620.4 1038.6 L2610.1 1021.1Z" fill="#ff0000" fill-rule="evenodd"/>
<path d="M2633.6 900.5 L2676.6 900.5 L2655.1 937.0Z" fill="#ff0000" fill-rule="evenodd"/>
<path d="M2633.6 1006.1 L2676.6 1006.1 L2655.1 969.6Z" fill="#ff0000" fill-rule="evenodd"/>
<path d="M2678.5 900.5 L2721.5 900.5 L2700.0 937.0Z" fill="#fff"/>
<path d="M2678.5 900.5 L2721.5 900.5 L2700.0 937.0Z M2689.7 906.9 L2710.3 906.9 L2700.0 924.3Z" fill="#ff0000" fill-rule="evenodd"/>
<path d="M2678.5 1010.4 L2721.5 1010.4 L2700.0 973.9Z" fill="#fff"/>
<path d="M2678.5 1010.4 L2721.5 1010.4 L2700.0 973.9Z M2689.7 1004.0 L2710.3 1004.0 L2700.0 986.5Z" fill="#ff0000" fill-rule="evenodd"/>
<path d="M2723.5 906.9 L2766.5 906.9 L2745.0 943.4Z" fill="#fff"/>
<path d="M2723.5 906.9 L2766.5 906.9 L2745.0 943.4Z M2734.6 913.3 L2755.3 913.3 L2745.0 930.7Z" fill="#ff0000" fill-rule="evenodd"/>
<path d="M2723.5 1011.7 L2766.5 1011.7 L2745.0 975.2Z" fill="#fff"/>
<path d="M2723.5 1011.7 L2766.5 1011.7 L2745.0 975.2Z M2734.6 1005.3 L2755.3 1005.3 L2745.0 987.8Z" fill="#ff0000" fill-rule="evenodd"/>
<path d="M2768.4 899.2 L2811.4 899.2 L2789.9 935.7Z" fill="#ff0000" fill-rule="evenodd"/>
<path d="M2768.4 1016.0 L2811.4 1016.0 L2789.9 979.5Z" fill="#ff0000" fill-rule="evenodd"/>
<path d="M2813.3 873.1 L2856.3 873.1 L2834.8 909.6Z" fill="#ff0000" fill-rule="evenodd"/>
<path d="M2813.3 1017.7 L2856.3 1017.7 L2834.8 981.2Z" fill="#ff0000" fill-rule="evenodd"/>
<path d="M2858.3 764.2 L2901.3 764.2 L2879.8 800.7Z" fill="#fff"/>
<path d="M2858.3 764.2 L2901.3 764.2 L2879.8 800.7Z M2869.5 770.6 L2890.1 770.6 L2879.8 788.1Z" fill="#ff0000" fill-rule="evenodd"/>
<path d="M2858.3 1018.9 L2901.3 1018.9 L2879.8 982.4Z" fill="#fff"/>
<path d="M2858.3 1018.9 L2901.3 1018.9 L2879.8 982.4Z M2869.5 1012.5 L2890.1 1012.5 L2879.8 995.1Z" fill="#ff0000" fill-rule="evenodd"/>
<path d="M2903.2 779.6 L2946.2 779.6 L2924.8 816.1Z" fill="#ff0000" fill-rule="evenodd"/>
<path d="M2903.2 1044.6 L2946.2 1044.6 L2924.8 1008.1Z" fill="#ff0000" fill-rule="evenodd"/>
<path d="M2948.2 791.1 L2991.2 791.1 L2969.7 827.6Z" fill="#fff"/>
<path d="M2948.2 791.1 L2991.2 791.1 L2969.7 827.6Z M2959.4 797.5 L2980.0 797.5 L2969.7 815.0Z" fill="#ff0000" fill-rule="evenodd"/>
<path d="M2948.2 1048.4 L2991.2 1048.4 L2969.7 1011.9Z" fill="#fff"/>
<path d="M2948.2 1048.4 L2991.2 1048.4 L2969.7 1011.9Z M2959.4 1042.0 L2980.0 1042.0 L2969.7 1024.5Z" fill="#ff0000" fill-rule="evenodd"/>
<path d="M2993.2 756.1 L3036.2 756.1 L3014.7 792.6Z" fill="#ff0000" fill-rule="evenodd"/>
<path d="M2993.2 1046.7 L3036.2 1046.7 L3014.7 1010.2Z" fill="#ff0000" fill-rule="evenodd"/>
<path d="M3038.1 769.8 L3081.1 769.8 L3059.6 806.3Z" fill="#fff"/>
<path d="M3038.1 769.8 L3081.1 769.8 L3059.6 806.3Z M3049.3 776.2 L3069.9 776.2 L3059.6 793.7Z" fill="#ff0000" fill-rule="evenodd"/>
<path d="M3038.1 1046.7 L3081.1 1046.7 L3059.6 1010.2Z" fill="#fff"/>
<path d="M3038.1 1046.7 L3081.1 1046.7 L3059.6 1010.2Z M3049.3 1040.3 L3069.9 1040.3 L3059.6 1022.8Z" fill="#ff0000" fill-rule="evenodd"/>
<path d="M3083.1 779.6 L3126.1 779.6 L3104.6 816.1Z" fill="#fff"/>
<path d="M3083.1 779.6 L3126.1 779.6 L3104.6 816.1Z M3094.2 786.0 L3114.9 786.0 L3104.5 803.5Z" fill="#ff0000" fill-rule="evenodd"/>
<path d="M3083.1 1042.0 L3126.1 1042.0 L3104.6 1005.5Z" fill="#fff"/>
<path d="M3083.1 1042.0 L3126.1 1042.0 L3104.6 1005.5Z M3094.2 1035.6 L3114.9 1035.6 L3104.5 1018.1Z" fill="#ff0000" fill-rule="evenodd"/>
<path d="M3128.0 922.0 L3171.0 922.0 L3149.5 885.5Z" fill="#ff0000" fill-rule="evenodd"/>
<path d="M3128.0 1048.6 L3171.0 1048.6 L3149.5 1085.1Z" fill="#fff"/>
<path d="M3128.0 1048.6 L3171.0 1048.6 L3149.5 1085.1Z M3139.2 1055.0 L3159.8 1055.0 L3149.5 1072.5Z" fill="#ff0000" fill-rule="evenodd"/>
<path d="M3128.0 1107.8 L3171.0 1107.8 L3149.5 1071.3Z" fill="#ff0000" fill-rule="evenodd"/>
<path d="M3173.0 749.5 L3216.0 749.5 L3194.5 713.0Z" fill="#ff0000" fill-rule="evenodd"/>
<path d="M3173.0 843.7 L3216.0 843.7 L3194.5 880.2Z" fill="#fff"/>
<path d="M3173.0 843.7 L3216.0 843.7 L3194.5 880.2Z M3184.1 850.1 L3204.8 850.1 L3194.5 867.5Z" fill="#ff0000" fill-rule="evenodd"/>
<path d="M3173.0 1039.0 L3216.0 1039.0 L3194.5 1002.5Z" fill="#fff"/>
<path d="M3173.0 1039.0 L3216.0 1039.0 L3194.5 1002.5Z M3184.1 1032.6 L3204.8 1032.6 L3194.5 1015.1Z" fill="#ff0000" fill-rule="evenodd"/>
<path d="M3217.9 1037.3 L3260.9 1037.3 L3239.4 1000.8Z" fill="#ff0000" fill-rule="evenodd"/>
<path d="M3262.8 716.8 L3305.8 716.8 L3284.3 753.3Z" fill="#fff"/>
<path d="M3262.8 716.8 L3305.8 716.8 L3284.3 753.3Z M3274.0 723.2 L3294.7 723.2 L3284.3 740.7Z" fill="#ff0000" fill-rule="evenodd"/>
<path d="M3262.8 1037.3 L3305.8 1037.3 L3284.3 1000.8Z" fill="#fff"/>
<path d="M3262.8 1037.3 L3305.8 1037.3 L3284.3 1000.8Z M3274.0 1030.9 L3294.7 1030.9 L3284.3 1013.4Z" fill="#ff0000" fill-rule="evenodd"/>
<path d="M3307.8 1038.2 L3350.8 1038.2 L3329.3 1001.7Z" fill="#ff0000" fill-rule="evenodd"/>
<path d="M3352.8 806.1 L3395.8 806.1 L3374.2 842.6Z" fill="#ff0000" fill-rule="evenodd"/>
<path d="M3352.8 1037.3 L3395.8 1037.3 L3374.2 1000.8Z" fill="#ff0000" fill-rule="evenodd"/>
<path d="M3397.7 785.6 L3440.7 785.6 L3419.2 822.1Z" fill="#ff0000" fill-rule="evenodd"/>
<path d="M3397.7 1042.0 L3440.7 1042.0 L3419.2 1005.5Z" fill="#ff0000" fill-rule="evenodd"/>
<path d="M3442.7 816.8 L3485.7 816.8 L3464.2 853.3Z" fill="#ff0000" fill-rule="evenodd"/>
<path d="M3487.6 742.5 L3530.6 742.5 L3509.1 779.0Z" fill="#ff0000" fill-rule="evenodd"/>
<path d="M3487.6 1043.3 L3530.6 1043.3 L3509.1 1006.8Z" fill="#ff0000" fill-rule="evenodd"/>
<path d="M3532.6 811.2 L3575.6 811.2 L3554.1 847.7Z" fill="#ff0000" fill-rule="evenodd"/>
<path d="M3532.6 1044.6 L3575.6 1044.6 L3554.1 1008.1Z" fill="#ff0000" fill-rule="evenodd"/>
<path d="M3577.5 1044.6 L3620.5 1044.6 L3599.0 1008.1Z" fill="#ff0000" fill-rule="evenodd"/>
<path d="M3577.5 661.3 L3620.5 661.3 L3599.0 697.8Z" fill="#ff0000" fill-rule="evenodd"/>
<path d="M3622.5 1043.7 L3665.5 1043.7 L3644.0 1007.2Z" fill="#ff0000" fill-rule="evenodd"/>
<path d="M3667.4 1043.7 L3710.4 1043.7 L3688.9 1007.2Z" fill="#ff0000" fill-rule="evenodd"/>
<path d="M3712.3 704.9 L3755.3 704.9 L3733.8 741.4Z" fill="#ff0000" fill-rule="evenodd"/>
<path d="M3712.3 1047.1 L3755.3 1047.1 L3733.8 1010.6Z" fill="#ff0000" fill-rule="evenodd"/>
<path d="M3757.3 677.5 L3800.3 677.5 L3778.8 714.0Z" fill="#ff0000" fill-rule="evenodd"/>
<path d="M3757.3 1042.0 L3800.3 1042.0 L3778.8 1005.5Z" fill="#ff0000" fill-rule="evenodd"/>
<path d="M3802.2 672.0 L3845.2 672.0 L3823.8 708.5Z" fill="#ff0000" fill-rule="evenodd"/>
<path d="M3802.2 1051.4 L3845.2 1051.4 L3823.8 1014.9Z" fill="#ff0000" fill-rule="evenodd"/>
<path d="M3847.2 726.7 L3890.2 726.7 L3868.7 763.2Z" fill="#ff0000" fill-rule="evenodd"/>
<path d="M3847.2 1049.3 L3890.2 1049.3 L3868.7 1012.8Z" fill="#ff0000" fill-rule="evenodd"/>
<path d="M3892.2 769.8 L3935.2 769.8 L3913.7 806.3Z" fill="#ff0000" fill-rule="evenodd"/>
<path d="M3892.2 1053.5 L3935.2 1053.5 L3913.7 1017.0Z" fill="#ff0000" fill-rule="evenodd"/>
<path d="M3937.1 688.2 L3980.1 688.2 L3958.6 724.7Z" fill="#ff0000" fill-rule="evenodd"/>
<path d="M3937.1 1055.7 L3980.1 1055.7 L3958.6 1019.2Z" fill="#ff0000" fill-rule="evenodd"/>
<path d="M3982.1 701.9 L4025.1 701.9 L4003.6 738.4Z" fill="#ff0000" fill-rule="evenodd"/>
<path d="M3982.1 1057.4 L4025.1 1057.4 L4003.6 1020.9Z" fill="#ff0000" fill-rule="evenodd"/>
<path d="M4027.0 684.0 L4070.0 684.0 L4048.5 720.5Z" fill="#ff0000" fill-rule="evenodd"/>
<path d="M4027.0 1056.1 L4070.0 1056.1 L4048.5 1019.6Z" fill="#ff0000" fill-rule="evenodd"/>
<path d="M4072.0 706.6 L4115.0 706.6 L4093.5 743.1Z" fill="#ff0000" fill-rule="evenodd"/>
<path d="M4072.0 1049.3 L4115.0 1049.3 L4093.5 1012.8Z" fill="#ff0000" fill-rule="evenodd"/>
<path d="M4116.9 775.8 L4159.9 775.8 L4138.4 812.3Z" fill="#ff0000" fill-rule="evenodd"/>
<path d="M4116.9 1049.3 L4159.9 1049.3 L4138.4 1012.8Z" fill="#ff0000" fill-rule="evenodd"/>
<path d="M4161.9 750.1 L4204.9 750.1 L4183.4 786.6Z" fill="#ff0000" fill-rule="evenodd"/>
<path d="M4161.9 1057.4 L4204.9 1057.4 L4183.4 1020.9Z" fill="#ff0000" fill-rule="evenodd"/>
<path d="M4206.8 757.8 L4249.8 757.8 L4228.3 794.3Z" fill="#ff0000" fill-rule="evenodd"/>
<path d="M4206.8 1059.5 L4249.8 1059.5 L4228.3 1023.0Z" fill="#ff0000" fill-rule="evenodd"/>
<path d="M4251.8 752.3 L4294.8 752.3 L4273.2 788.8Z" fill="#ff0000" fill-rule="evenodd"/>
<path d="M4251.8 1065.1 L4294.8 1065.1 L4273.2 1028.6Z" fill="#ff0000" fill-rule="evenodd"/>
<path d="M4296.7 787.3 L4339.7 787.3 L4318.2 823.8Z" fill="#ff0000" fill-rule="evenodd"/>
<path d="M4296.7 1061.6 L4339.7 1061.6 L4318.2 1025.1Z" fill="#ff0000" fill-rule="evenodd"/>
<path d="M4341.7 877.0 L4384.7 877.0 L4363.2 913.5Z" fill="#ff0000" fill-rule="evenodd"/>
<path d="M4341.7 1065.9 L4384.7 1065.9 L4363.2 1029.4Z" fill="#ff0000" fill-rule="evenodd"/>
<path d="M4386.6 959.0 L4429.6 959.0 L4408.1 995.5Z" fill="#ff0000" fill-rule="evenodd"/>
<path d="M4386.6 1065.9 L4429.6 1065.9 L4408.1 1029.4Z" fill="#ff0000" fill-rule="evenodd"/>
<path d="M4431.6 766.4 L4474.6 766.4 L4453.1 802.9Z" fill="#ff0000" fill-rule="evenodd"/>
<path d="M4431.6 1068.0 L4474.6 1068.0 L4453.1 1031.5Z" fill="#ff0000" fill-rule="evenodd"/>
<path d="M4476.5 1002.1 L4519.5 1002.1 L4498.0 1038.6Z" fill="#ff0000" fill-rule="evenodd"/>
<path d="M4476.5 1156.4 L4519.5 1156.4 L4498.0 1119.9Z" fill="#ff0000" fill-rule="evenodd"/>
<path d="M4521.5 1046.9 L4564.5 1046.9 L4543.0 1083.4Z" fill="#ff0000" fill-rule="evenodd"/>
<path d="M4521.5 1211.1 L4564.5 1211.1 L4543.0 1174.6Z" fill="#ff0000" fill-rule="evenodd"/>
<path d="M4611.4 985.0 L4654.4 985.0 L4632.9 1021.5Z" fill="#ff0000" fill-rule="evenodd"/>
<path d="M4611.4 1076.6 L4654.4 1076.6 L4632.9 1040.1Z" fill="#ff0000" fill-rule="evenodd"/>
<path d="M407.6 1030.6V1277.8M373.8 1030.6h67.5M373.8 1277.8h67.5" stroke="#32cd32" stroke-width="5.0" fill="none"/>
<path d="M452.5 971.7V1118.1M418.8 971.7h67.5M418.8 1118.1h67.5" stroke="#32cd32" stroke-width="5.0" fill="none"/>
<path d="M497.5 816.6V957.6M463.7 816.6h67.5M463.7 957.6h67.5" stroke="#32cd32" stroke-width="5.0" fill="none"/>
<path d="M542.4 793.6V961.8M508.7 793.6h67.5M508.7 961.8h67.5" stroke="#32cd32" stroke-width="5.0" fill="none"/>
<path d="M587.4 754.7V1021.2M553.6 754.7h67.5M553.6 1021.2h67.5" stroke="#32cd32" stroke-width="5.0" fill="none"/>
<path d="M632.3 848.7V1019.5M598.6 848.7h67.5M598.6 1019.5h67.5" stroke="#32cd32" stroke-width="5.0" fill="none"/>
<path d="M677.2 1063.5V1196.3M643.5 1063.5h67.5M643.5 1196.3h67.5" stroke="#32cd32" stroke-width="5.0" fill="none"/>
<path d="M722.2 1072.9V1185.2M688.5 1072.9h67.5M688.5 1185.2h67.5" stroke="#32cd32" stroke-width="5.0" fill="none"/>
<path d="M767.2 1054.5V1175.3M733.4 1054.5h67.5M733.4 1175.3h67.5" stroke="#32cd32" stroke-width="5.0" fill="none"/>
<path d="M902.0 1062.6V1194.1M868.3 1062.6h67.5M868.3 1194.1h67.5" stroke="#32cd32" stroke-width="5.0" fill="none"/>
<path d="M947.0 1069.4V1188.2M913.2 1069.4h67.5M913.2 1188.2h67.5" stroke="#32cd32" stroke-width="5.0" fill="none"/>
<path d="M1351.5 1183.9V1277.8M1317.8 1183.9h67.5M1317.8 1277.8h67.5" stroke="#32cd32" stroke-width="5.0" fill="none"/>
<path d="M1531.3 1186.9V1277.8M1497.6 1186.9h67.5M1497.6 1277.8h67.5" stroke="#32cd32" stroke-width="5.0" fill="none"/>
<path d="M1621.2 1199.7V1277.8M1587.5 1199.7h67.5M1587.5 1277.8h67.5" stroke="#32cd32" stroke-width="5.0" fill="none"/>
<path d="M1666.2 1192.4V1277.8M1632.4 1192.4h67.5M1632.4 1277.8h67.5" stroke="#32cd32" stroke-width="5.0" fill="none"/>
<path d="M1711.1 1198.0V1277.8M1677.3 1198.0h67.5M1677.3 1277.8h67.5" stroke="#32cd32" stroke-width="5.0" fill="none"/>
<path d="M1756.1 1108.7V1160.4M1722.3 1108.7h67.5M1722.3 1160.4h67.5" stroke="#32cd32" stroke-width="5.0" fill="none"/>
<path d="M1801.0 1099.8V1167.2M1767.2 1099.8h67.5M1767.2 1167.2h67.5" stroke="#32cd32" stroke-width="5.0" fill="none"/>
<path d="M1890.9 1094.2V1203.5M1857.2 1094.2h67.5M1857.2 1203.5h67.5" stroke="#32cd32" stroke-width="5.0" fill="none"/>
<path d="M1935.8 1100.6V1195.0M1902.1 1100.6h67.5M1902.1 1195.0h67.5" stroke="#32cd32" stroke-width="5.0" fill="none"/>
<path d="M1980.8 984.9V1193.3M1947.1 984.9h67.5M1947.1 1193.3h67.5" stroke="#32cd32" stroke-width="5.0" fill="none"/>
<path d="M2025.8 1111.3V1200.1M1992.0 1111.3h67.5M1992.0 1200.1h67.5" stroke="#32cd32" stroke-width="5.0" fill="none"/>
<path d="M2070.7 1089.1V1277.8M2037.0 1089.1h67.5M2037.0 1277.8h67.5" stroke="#32cd32" stroke-width="5.0" fill="none"/>
<path d="M2115.7 1016.5V1107.9M2081.9 1016.5h67.5M2081.9 1107.9h67.5" stroke="#32cd32" stroke-width="5.0" fill="none"/>
<path d="M2160.6 1039.5V1147.6M2126.8 1039.5h67.5M2126.8 1147.6h67.5" stroke="#32cd32" stroke-width="5.0" fill="none"/>
<path d="M2205.6 1084.0V1165.1M2171.8 1084.0h67.5M2171.8 1165.1h67.5" stroke="#32cd32" stroke-width="5.0" fill="none"/>
<path d="M2250.5 883.3V1007.1M2216.8 883.3h67.5M2216.8 1007.1h67.5" stroke="#32cd32" stroke-width="5.0" fill="none"/>
<path d="M2295.5 898.2V1040.0M2261.7 898.2h67.5M2261.7 1040.0h67.5" stroke="#32cd32" stroke-width="5.0" fill="none"/>
<path d="M2340.4 906.3V1054.5M2306.7 906.3h67.5M2306.7 1054.5h67.5" stroke="#32cd32" stroke-width="5.0" fill="none"/>
<path d="M2385.4 782.5V894.8M2351.6 782.5h67.5M2351.6 894.8h67.5" stroke="#32cd32" stroke-width="5.0" fill="none"/>
<path d="M2430.3 990.4V1072.9M2396.6 990.4h67.5M2396.6 1072.9h67.5" stroke="#32cd32" stroke-width="5.0" fill="none"/>
<path d="M2475.2 1133.1V1218.9M2441.5 1133.1h67.5M2441.5 1218.9h67.5" stroke="#32cd32" stroke-width="5.0" fill="none"/>
<path d="M2520.2 945.6V1051.5M2486.5 945.6h67.5M2486.5 1051.5h67.5" stroke="#32cd32" stroke-width="5.0" fill="none"/>
<path d="M2565.2 817.9V968.7M2531.4 817.9h67.5M2531.4 968.7h67.5" stroke="#32cd32" stroke-width="5.0" fill="none"/>
<path d="M2610.1 944.8V1218.9M2576.3 944.8h67.5M2576.3 1218.9h67.5" stroke="#32cd32" stroke-width="5.0" fill="none"/>
<path d="M2655.1 914.0V1198.8M2621.3 914.0h67.5M2621.3 1198.8h67.5" stroke="#32cd32" stroke-width="5.0" fill="none"/>
<path d="M2700.0 1053.6V1169.8M2666.2 1053.6h67.5M2666.2 1169.8h67.5" stroke="#32cd32" stroke-width="5.0" fill="none"/>
<path d="M2745.0 1006.7V1132.6M2711.2 1006.7h67.5M2711.2 1132.6h67.5" stroke="#32cd32" stroke-width="5.0" fill="none"/>
<path d="M2789.9 903.8V1077.1M2756.2 903.8h67.5M2756.2 1077.1h67.5" stroke="#32cd32" stroke-width="5.0" fill="none"/>
<path d="M2834.8 1035.3V1131.4M2801.1 1035.3h67.5M2801.1 1131.4h67.5" stroke="#32cd32" stroke-width="5.0" fill="none"/>
<path d="M2879.8 1010.9V1139.9M2846.1 1010.9h67.5M2846.1 1139.9h67.5" stroke="#32cd32" stroke-width="5.0" fill="none"/>
<path d="M2924.8 813.7V930.7M2891.0 813.7h67.5M2891.0 930.7h67.5" stroke="#32cd32" stroke-width="5.0" fill="none"/>
<path d="M2969.7 811.5V901.2M2936.0 811.5h67.5M2936.0 901.2h67.5" stroke="#32cd32" stroke-width="5.0" fill="none"/>
<path d="M3014.7 902.0V1054.1M2980.9 902.0h67.5M2980.9 1054.1h67.5" stroke="#32cd32" stroke-width="5.0" fill="none"/>
<path d="M3059.6 926.4V1217.2M3025.8 926.4h67.5M3025.8 1217.2h67.5" stroke="#32cd32" stroke-width="5.0" fill="none"/>
<path d="M3104.6 894.4V1277.8M3070.8 894.4h67.5M3070.8 1277.8h67.5" stroke="#32cd32" stroke-width="5.0" fill="none"/>
<path d="M3149.5 885.4V1277.8M3115.8 885.4h67.5M3115.8 1277.8h67.5" stroke="#32cd32" stroke-width="5.0" fill="none"/>
<path d="M3194.5 728.3V1277.8M3160.7 728.3h67.5M3160.7 1277.8h67.5" stroke="#32cd32" stroke-width="5.0" fill="none"/>
<path d="M3239.4 765.4V1277.8M3205.7 765.4h67.5M3205.7 1277.8h67.5" stroke="#32cd32" stroke-width="5.0" fill="none"/>
<path d="M3329.3 480.2V1131.8M3295.6 480.2h67.5M3295.6 1131.8h67.5" stroke="#32cd32" stroke-width="5.0" fill="none"/>
<path d="M3374.2 697.1V826.0M3340.5 697.1h67.5M3340.5 826.0h67.5" stroke="#32cd32" stroke-width="5.0" fill="none"/>
<path d="M3419.2 867.9V1076.3M3385.5 867.9h67.5M3385.5 1076.3h67.5" stroke="#32cd32" stroke-width="5.0" fill="none"/>
<path d="M3464.2 933.6V1091.2M3430.4 933.6h67.5M3430.4 1091.2h67.5" stroke="#32cd32" stroke-width="5.0" fill="none"/>
<path d="M3509.1 978.1V1277.8M3475.3 978.1h67.5M3475.3 1277.8h67.5" stroke="#32cd32" stroke-width="5.0" fill="none"/>
<path d="M3554.1 899.5V1277.8M3520.3 899.5h67.5M3520.3 1277.8h67.5" stroke="#32cd32" stroke-width="5.0" fill="none"/>
<path d="M3599.0 766.3V1277.8M3565.2 766.3h67.5M3565.2 1277.8h67.5" stroke="#32cd32" stroke-width="5.0" fill="none"/>
<path d="M3644.0 956.7V1277.8M3610.2 956.7h67.5M3610.2 1277.8h67.5" stroke="#32cd32" stroke-width="5.0" fill="none"/>
<path d="M3688.9 724.8V1277.8M3655.2 724.8h67.5M3655.2 1277.8h67.5" stroke="#32cd32" stroke-width="5.0" fill="none"/>
<path d="M3778.8 822.2V1277.8M3745.1 822.2h67.5M3745.1 1277.8h67.5" stroke="#32cd32" stroke-width="5.0" fill="none"/>
<path d="M3868.7 508.8V1142.0M3835.0 508.8h67.5M3835.0 1142.0h67.5" stroke="#32cd32" stroke-width="5.0" fill="none"/>
<path d="M3913.7 704.8V1171.1M3879.9 704.8h67.5M3879.9 1171.1h67.5" stroke="#32cd32" stroke-width="5.0" fill="none"/>
<path d="M3958.6 636.0V906.3M3924.8 636.0h67.5M3924.8 906.3h67.5" stroke="#32cd32" stroke-width="5.0" fill="none"/>
<path d="M4093.5 746.2V1078.0M4059.7 746.2h67.5M4059.7 1078.0h67.5" stroke="#32cd32" stroke-width="5.0" fill="none"/>
<path d="M4183.4 652.2V1096.3M4149.6 652.2h67.5M4149.6 1096.3h67.5" stroke="#32cd32" stroke-width="5.0" fill="none"/>
<path d="M4273.2 768.8V1100.6M4239.5 768.8h67.5M4239.5 1100.6h67.5" stroke="#32cd32" stroke-width="5.0" fill="none"/>
<path d="M4318.2 852.1V1277.8M4284.5 852.1h67.5M4284.5 1277.8h67.5" stroke="#32cd32" stroke-width="5.0" fill="none"/>
<path d="M4363.2 656.9V1277.8M4329.4 656.9h67.5M4329.4 1277.8h67.5" stroke="#32cd32" stroke-width="5.0" fill="none"/>
<path d="M4408.1 685.1V1277.8M4374.4 685.1h67.5M4374.4 1277.8h67.5" stroke="#32cd32" stroke-width="5.0" fill="none"/>
<path d="M4453.1 709.0V1277.8M4419.3 709.0h67.5M4419.3 1277.8h67.5" stroke="#32cd32" stroke-width="5.0" fill="none"/>
<circle cx="407.6" cy="1127.1" r="17.9" fill="#fff" stroke="#32cd32" stroke-width="7.0"/>
<circle cx="452.5" cy="1044.2" r="17.9" fill="#fff" stroke="#32cd32" stroke-width="7.0"/>
<circle cx="497.5" cy="887.1" r="17.9" fill="#fff" stroke="#32cd32" stroke-width="7.0"/>
<circle cx="542.4" cy="878.6" r="17.9" fill="#fff" stroke="#32cd32" stroke-width="7.0"/>
<circle cx="587.4" cy="888.0" r="17.9" fill="#fff" stroke="#32cd32" stroke-width="7.0"/>
<circle cx="632.3" cy="933.2" r="17.9" fill="#fff" stroke="#32cd32" stroke-width="7.0"/>
<circle cx="677.2" cy="1129.7" r="17.9" fill="#fff" stroke="#32cd32" stroke-width="7.0"/>
<circle cx="722.2" cy="1128.4" r="17.9" fill="#fff" stroke="#32cd32" stroke-width="7.0"/>
<circle cx="767.2" cy="1114.3" r="17.9" fill="#fff" stroke="#32cd32" stroke-width="7.0"/>
<circle cx="902.0" cy="1127.5" r="17.9" fill="#fff" stroke="#32cd32" stroke-width="7.0"/>
<circle cx="947.0" cy="1128.4" r="17.9" fill="#fff" stroke="#32cd32" stroke-width="7.0"/>
<circle cx="1351.5" cy="1204.4" r="17.9" fill="#fff" stroke="#32cd32" stroke-width="7.0"/>
<circle cx="1531.3" cy="1205.2" r="17.9" fill="#fff" stroke="#32cd32" stroke-width="7.0"/>
<circle cx="1621.2" cy="1217.2" r="17.9" fill="#fff" stroke="#32cd32" stroke-width="7.0"/>
<circle cx="1666.2" cy="1213.8" r="17.9" fill="#fff" stroke="#32cd32" stroke-width="7.0"/>
<circle cx="1711.1" cy="1215.9" r="17.9" fill="#fff" stroke="#32cd32" stroke-width="7.0"/>
<circle cx="1756.1" cy="1134.8" r="17.9" fill="#fff" stroke="#32cd32" stroke-width="7.0"/>
<circle cx="1801.0" cy="1133.5" r="17.9" fill="#fff" stroke="#32cd32" stroke-width="7.0"/>
<circle cx="1890.9" cy="1148.9" r="17.9" fill="#fff" stroke="#32cd32" stroke-width="7.0"/>
<circle cx="1935.8" cy="1147.6" r="17.9" fill="#fff" stroke="#32cd32" stroke-width="7.0"/>
<circle cx="1980.8" cy="1089.1" r="17.9" fill="#fff" stroke="#32cd32" stroke-width="7.0"/>
<circle cx="2025.8" cy="1156.1" r="17.9" fill="#fff" stroke="#32cd32" stroke-width="7.0"/>
<circle cx="2070.7" cy="1163.8" r="17.9" fill="#fff" stroke="#32cd32" stroke-width="7.0"/>
<circle cx="2115.7" cy="1061.3" r="17.9" fill="#fff" stroke="#32cd32" stroke-width="7.0"/>
<circle cx="2160.6" cy="1093.4" r="17.9" fill="#fff" stroke="#32cd32" stroke-width="7.0"/>
<circle cx="2205.6" cy="1125.0" r="17.9" fill="#fff" stroke="#32cd32" stroke-width="7.0"/>
<circle cx="2250.5" cy="945.6" r="17.9" fill="#fff" stroke="#32cd32" stroke-width="7.0"/>
<circle cx="2295.5" cy="969.1" r="17.9" fill="#fff" stroke="#32cd32" stroke-width="7.0"/>
<circle cx="2340.4" cy="980.2" r="17.9" fill="#fff" stroke="#32cd32" stroke-width="7.0"/>
<circle cx="2385.4" cy="838.9" r="17.9" fill="#fff" stroke="#32cd32" stroke-width="7.0"/>
<circle cx="2430.3" cy="1032.3" r="17.9" fill="#fff" stroke="#32cd32" stroke-width="7.0"/>
<circle cx="2475.2" cy="1177.5" r="17.9" fill="#fff" stroke="#32cd32" stroke-width="7.0"/>
<circle cx="2520.2" cy="998.1" r="17.9" fill="#fff" stroke="#32cd32" stroke-width="7.0"/>
<circle cx="2565.2" cy="892.2" r="17.9" fill="#fff" stroke="#32cd32" stroke-width="7.0"/>
<circle cx="2610.1" cy="1083.5" r="17.9" fill="#fff" stroke="#32cd32" stroke-width="7.0"/>
<circle cx="2655.1" cy="1055.8" r="17.9" fill="#fff" stroke="#32cd32" stroke-width="7.0"/>
<circle cx="2700.0" cy="1111.3" r="17.9" fill="#fff" stroke="#32cd32" stroke-width="7.0"/>
<circle cx="2745.0" cy="1069.4" r="17.9" fill="#fff" stroke="#32cd32" stroke-width="7.0"/>
<circle cx="2789.9" cy="990.4" r="17.9" fill="#fff" stroke="#32cd32" stroke-width="7.0"/>
<circle cx="2834.8" cy="1082.7" r="17.9" fill="#fff" stroke="#32cd32" stroke-width="7.0"/>
<circle cx="2879.8" cy="1075.0" r="17.9" fill="#fff" stroke="#32cd32" stroke-width="7.0"/>
<circle cx="2924.8" cy="872.2" r="17.9" fill="#fff" stroke="#32cd32" stroke-width="7.0"/>
<circle cx="2969.7" cy="856.4" r="17.9" fill="#fff" stroke="#32cd32" stroke-width="7.0"/>
<circle cx="3014.7" cy="977.6" r="17.9" fill="#fff" stroke="#32cd32" stroke-width="7.0"/>
<circle cx="3059.6" cy="1070.7" r="17.9" fill="#fff" stroke="#32cd32" stroke-width="7.0"/>
<circle cx="3104.6" cy="1092.1" r="17.9" fill="#fff" stroke="#32cd32" stroke-width="7.0"/>
<circle cx="3149.5" cy="1087.8" r="17.9" fill="#fff" stroke="#32cd32" stroke-width="7.0"/>
<circle cx="3194.5" cy="989.6" r="17.9" fill="#fff" stroke="#32cd32" stroke-width="7.0"/>
<circle cx="3239.4" cy="1005.8" r="17.9" fill="#fff" stroke="#32cd32" stroke-width="7.0"/>
<circle cx="3329.3" cy="806.8" r="17.9" fill="#fff" stroke="#32cd32" stroke-width="7.0"/>
<circle cx="3374.2" cy="761.1" r="17.9" fill="#fff" stroke="#32cd32" stroke-width="7.0"/>
<circle cx="3419.2" cy="972.5" r="17.9" fill="#fff" stroke="#32cd32" stroke-width="7.0"/>
<circle cx="3464.2" cy="1013.1" r="17.9" fill="#fff" stroke="#32cd32" stroke-width="7.0"/>
<circle cx="3509.1" cy="1128.4" r="17.9" fill="#fff" stroke="#32cd32" stroke-width="7.0"/>
<circle cx="3554.1" cy="1068.6" r="17.9" fill="#fff" stroke="#32cd32" stroke-width="7.0"/>
<circle cx="3599.0" cy="998.1" r="17.9" fill="#fff" stroke="#32cd32" stroke-width="7.0"/>
<circle cx="3644.0" cy="1112.1" r="17.9" fill="#fff" stroke="#32cd32" stroke-width="7.0"/>
<circle cx="3688.9" cy="1006.7" r="17.9" fill="#fff" stroke="#32cd32" stroke-width="7.0"/>
<circle cx="3778.8" cy="1022.9" r="17.9" fill="#fff" stroke="#32cd32" stroke-width="7.0"/>
<circle cx="3868.7" cy="826.0" r="17.9" fill="#fff" stroke="#32cd32" stroke-width="7.0"/>
<circle cx="3913.7" cy="938.3" r="17.9" fill="#fff" stroke="#32cd32" stroke-width="7.0"/>
<circle cx="3958.6" cy="771.0" r="17.9" fill="#fff" stroke="#32cd32" stroke-width="7.0"/>
<circle cx="4093.5" cy="912.7" r="17.9" fill="#fff" stroke="#32cd32" stroke-width="7.0"/>
<circle cx="4183.4" cy="874.3" r="17.9" fill="#fff" stroke="#32cd32" stroke-width="7.0"/>
<circle cx="4273.2" cy="934.9" r="17.9" fill="#fff" stroke="#32cd32" stroke-width="7.0"/>
<circle cx="4318.2" cy="1085.7" r="17.9" fill="#fff" stroke="#32cd32" stroke-width="7.0"/>
<circle cx="4363.2" cy="1009.7" r="17.9" fill="#fff" stroke="#32cd32" stroke-width="7.0"/>
<circle cx="4408.1" cy="1033.6" r="17.9" fill="#fff" stroke="#32cd32" stroke-width="7.0"/>
<circle cx="4453.1" cy="1031.0" r="17.9" fill="#fff" stroke="#32cd32" stroke-width="7.0"/>
<path d="M407.6 389.1V463.4M373.8 389.1h67.5M373.8 463.4h67.5" stroke="#0000ff" stroke-width="5.0" fill="none"/>
<path d="M452.5 369.0V447.2M418.8 369.0h67.5M418.8 447.2h67.5" stroke="#0000ff" stroke-width="5.0" fill="none"/>
<path d="M497.5 358.3V418.1M463.7 358.3h67.5M463.7 418.1h67.5" stroke="#0000ff" stroke-width="5.0" fill="none"/>
<path d="M542.4 380.6V440.3M508.7 380.6h67.5M508.7 440.3h67.5" stroke="#0000ff" stroke-width="5.0" fill="none"/>
<path d="M587.4 393.8V461.3M553.6 393.8h67.5M553.6 461.3h67.5" stroke="#0000ff" stroke-width="5.0" fill="none"/>
<path d="M632.3 375.4V443.8M598.6 375.4h67.5M598.6 443.8h67.5" stroke="#0000ff" stroke-width="5.0" fill="none"/>
<path d="M677.2 312.7V404.5M643.5 312.7h67.5M643.5 404.5h67.5" stroke="#0000ff" stroke-width="5.0" fill="none"/>
<path d="M722.2 296.4V384.0M688.5 296.4h67.5M688.5 384.0h67.5" stroke="#0000ff" stroke-width="5.0" fill="none"/>
<path d="M767.2 295.1V423.3M733.4 295.1h67.5M733.4 423.3h67.5" stroke="#0000ff" stroke-width="5.0" fill="none"/>
<path d="M902.0 310.1V389.5M868.3 310.1h67.5M868.3 389.5h67.5" stroke="#0000ff" stroke-width="5.0" fill="none"/>
<path d="M947.0 303.3V387.4M913.2 303.3h67.5M913.2 387.4h67.5" stroke="#0000ff" stroke-width="5.0" fill="none"/>
<path d="M1036.8 755.6V846.1M1003.1 755.6h67.5M1003.1 846.1h67.5" stroke="#0000ff" stroke-width="5.0" fill="none"/>
<path d="M1351.5 256.7V450.6M1317.8 256.7h67.5M1317.8 450.6h67.5" stroke="#0000ff" stroke-width="5.0" fill="none"/>
<path d="M1531.3 268.7V382.3M1497.6 268.7h67.5M1497.6 382.3h67.5" stroke="#0000ff" stroke-width="5.0" fill="none"/>
<path d="M1621.2 286.2V407.5M1587.5 286.2h67.5M1587.5 407.5h67.5" stroke="#0000ff" stroke-width="5.0" fill="none"/>
<path d="M1666.2 293.0V405.3M1632.4 293.0h67.5M1632.4 405.3h67.5" stroke="#0000ff" stroke-width="5.0" fill="none"/>
<path d="M1711.1 299.0V388.7M1677.3 299.0h67.5M1677.3 388.7h67.5" stroke="#0000ff" stroke-width="5.0" fill="none"/>
<path d="M1756.1 222.6V294.3M1722.3 222.6h67.5M1722.3 294.3h67.5" stroke="#0000ff" stroke-width="5.0" fill="none"/>
<path d="M1801.0 231.9V274.2M1767.2 231.9h67.5M1767.2 274.2h67.5" stroke="#0000ff" stroke-width="5.0" fill="none"/>
<path d="M1846.0 300.7V310.5M1812.2 300.7h67.5M1812.2 310.5h67.5" stroke="#0000ff" stroke-width="5.0" fill="none"/>
<path d="M1890.9 224.3V256.3M1857.2 224.3h67.5M1857.2 256.3h67.5" stroke="#0000ff" stroke-width="5.0" fill="none"/>
<path d="M1935.8 250.3V290.9M1902.1 250.3h67.5M1902.1 290.9h67.5" stroke="#0000ff" stroke-width="5.0" fill="none"/>
<path d="M1980.8 266.5V290.9M1947.1 266.5h67.5M1947.1 290.9h67.5" stroke="#0000ff" stroke-width="5.0" fill="none"/>
<path d="M2025.8 217.0V250.3M1992.0 217.0h67.5M1992.0 250.3h67.5" stroke="#0000ff" stroke-width="5.0" fill="none"/>
<path d="M2070.7 286.2V310.9M2037.0 286.2h67.5M2037.0 310.9h67.5" stroke="#0000ff" stroke-width="5.0" fill="none"/>
<path d="M2115.7 252.9V294.3M2081.9 252.9h67.5M2081.9 294.3h67.5" stroke="#0000ff" stroke-width="5.0" fill="none"/>
<path d="M2160.6 306.2V339.6M2126.8 306.2h67.5M2126.8 339.6h67.5" stroke="#0000ff" stroke-width="5.0" fill="none"/>
<path d="M2205.6 261.8V315.6M2171.8 261.8h67.5M2171.8 315.6h67.5" stroke="#0000ff" stroke-width="5.0" fill="none"/>
<path d="M2250.5 274.2V313.5M2216.8 274.2h67.5M2216.8 313.5h67.5" stroke="#0000ff" stroke-width="5.0" fill="none"/>
<path d="M2295.5 299.4V328.5M2261.7 299.4h67.5M2261.7 328.5h67.5" stroke="#0000ff" stroke-width="5.0" fill="none"/>
<path d="M2340.4 319.1V351.1M2306.7 319.1h67.5M2306.7 351.1h67.5" stroke="#0000ff" stroke-width="5.0" fill="none"/>
<path d="M2385.4 330.6V376.7M2351.6 330.6h67.5M2351.6 376.7h67.5" stroke="#0000ff" stroke-width="5.0" fill="none"/>
<path d="M2430.3 262.7V325.5M2396.6 262.7h67.5M2396.6 325.5h67.5" stroke="#0000ff" stroke-width="5.0" fill="none"/>
<path d="M2475.2 324.2V393.4M2441.5 324.2h67.5M2441.5 393.4h67.5" stroke="#0000ff" stroke-width="5.0" fill="none"/>
<path d="M2520.2 380.6V418.1M2486.5 380.6h67.5M2486.5 418.1h67.5" stroke="#0000ff" stroke-width="5.0" fill="none"/>
<path d="M2565.2 345.5V386.1M2531.4 345.5h67.5M2531.4 386.1h67.5" stroke="#0000ff" stroke-width="5.0" fill="none"/>
<path d="M2610.1 334.0V356.2M2576.3 334.0h67.5M2576.3 356.2h67.5" stroke="#0000ff" stroke-width="5.0" fill="none"/>
<path d="M2655.1 331.9V355.4M2621.3 331.9h67.5M2621.3 355.4h67.5" stroke="#0000ff" stroke-width="5.0" fill="none"/>
<path d="M2700.0 301.6V331.4M2666.2 301.6h67.5M2666.2 331.4h67.5" stroke="#0000ff" stroke-width="5.0" fill="none"/>
<path d="M2745.0 293.4V317.4M2711.2 293.4h67.5M2711.2 317.4h67.5" stroke="#0000ff" stroke-width="5.0" fill="none"/>
<path d="M2789.9 348.1V389.5M2756.2 348.1h67.5M2756.2 389.5h67.5" stroke="#0000ff" stroke-width="5.0" fill="none"/>
<path d="M2834.8 378.4V422.0M2801.1 378.4h67.5M2801.1 422.0h67.5" stroke="#0000ff" stroke-width="5.0" fill="none"/>
<path d="M2879.8 320.8V353.6M2846.1 320.8h67.5M2846.1 353.6h67.5" stroke="#0000ff" stroke-width="5.0" fill="none"/>
<path d="M2924.8 289.6V315.2M2891.0 289.6h67.5M2891.0 315.2h67.5" stroke="#0000ff" stroke-width="5.0" fill="none"/>
<path d="M2969.7 252.9V293.0M2936.0 252.9h67.5M2936.0 293.0h67.5" stroke="#0000ff" stroke-width="5.0" fill="none"/>
<path d="M3014.7 298.6V326.7M2980.9 298.6h67.5M2980.9 326.7h67.5" stroke="#0000ff" stroke-width="5.0" fill="none"/>
<path d="M3059.6 336.1V365.2M3025.8 336.1h67.5M3025.8 365.2h67.5" stroke="#0000ff" stroke-width="5.0" fill="none"/>
<path d="M3104.6 281.5V310.5M3070.8 281.5h67.5M3070.8 310.5h67.5" stroke="#0000ff" stroke-width="5.0" fill="none"/>
<path d="M3149.5 310.1V340.4M3115.8 310.1h67.5M3115.8 340.4h67.5" stroke="#0000ff" stroke-width="5.0" fill="none"/>
<path d="M3194.5 309.2V334.9M3160.7 309.2h67.5M3160.7 334.9h67.5" stroke="#0000ff" stroke-width="5.0" fill="none"/>
<path d="M3239.4 334.0V372.0M3205.7 334.0h67.5M3205.7 372.0h67.5" stroke="#0000ff" stroke-width="5.0" fill="none"/>
<path d="M3284.3 312.7V342.1M3250.6 312.7h67.5M3250.6 342.1h67.5" stroke="#0000ff" stroke-width="5.0" fill="none"/>
<path d="M3329.3 352.8V383.1M3295.6 352.8h67.5M3295.6 383.1h67.5" stroke="#0000ff" stroke-width="5.0" fill="none"/>
<path d="M3374.2 417.3V495.0M3340.5 417.3h67.5M3340.5 495.0h67.5" stroke="#0000ff" stroke-width="5.0" fill="none"/>
<path d="M3419.2 435.2V496.7M3385.5 435.2h67.5M3385.5 496.7h67.5" stroke="#0000ff" stroke-width="5.0" fill="none"/>
<path d="M3464.2 371.2V476.6M3430.4 371.2h67.5M3430.4 476.6h67.5" stroke="#0000ff" stroke-width="5.0" fill="none"/>
<path d="M3509.1 453.6V523.6M3475.3 453.6h67.5M3475.3 523.6h67.5" stroke="#0000ff" stroke-width="5.0" fill="none"/>
<path d="M3554.1 327.2V373.3M3520.3 327.2h67.5M3520.3 373.3h67.5" stroke="#0000ff" stroke-width="5.0" fill="none"/>
<path d="M3599.0 339.1V379.7M3565.2 339.1h67.5M3565.2 379.7h67.5" stroke="#0000ff" stroke-width="5.0" fill="none"/>
<path d="M3644.0 366.9V401.5M3610.2 366.9h67.5M3610.2 401.5h67.5" stroke="#0000ff" stroke-width="5.0" fill="none"/>
<path d="M3688.9 341.3V377.6M3655.2 341.3h67.5M3655.2 377.6h67.5" stroke="#0000ff" stroke-width="5.0" fill="none"/>
<path d="M3733.8 378.4V382.7M3700.1 378.4h67.5M3700.1 382.7h67.5" stroke="#0000ff" stroke-width="5.0" fill="none"/>
<path d="M3778.8 430.5V467.2M3745.1 430.5h67.5M3745.1 467.2h67.5" stroke="#0000ff" stroke-width="5.0" fill="none"/>
<path d="M3823.8 351.1V378.4M3790.0 351.1h67.5M3790.0 378.4h67.5" stroke="#0000ff" stroke-width="5.0" fill="none"/>
<path d="M3868.7 311.4V340.4M3835.0 311.4h67.5M3835.0 340.4h67.5" stroke="#0000ff" stroke-width="5.0" fill="none"/>
<path d="M3913.7 427.5V464.7M3879.9 427.5h67.5M3879.9 464.7h67.5" stroke="#0000ff" stroke-width="5.0" fill="none"/>
<path d="M3958.6 392.5V456.1M3924.8 392.5h67.5M3924.8 456.1h67.5" stroke="#0000ff" stroke-width="5.0" fill="none"/>
<path d="M4003.6 630.4V654.3M3969.8 630.4h67.5M3969.8 654.3h67.5" stroke="#0000ff" stroke-width="5.0" fill="none"/>
<path d="M4048.5 633.8V644.4M4014.8 633.8h67.5M4014.8 644.4h67.5" stroke="#0000ff" stroke-width="5.0" fill="none"/>
<path d="M4093.5 499.3V573.1M4059.7 499.3h67.5M4059.7 573.1h67.5" stroke="#0000ff" stroke-width="5.0" fill="none"/>
<path d="M4138.4 530.4V567.6M4104.7 530.4h67.5M4104.7 567.6h67.5" stroke="#0000ff" stroke-width="5.0" fill="none"/>
<path d="M4183.4 545.4V614.1M4149.6 545.4h67.5M4149.6 614.1h67.5" stroke="#0000ff" stroke-width="5.0" fill="none"/>
<path d="M4228.3 531.3V568.4M4194.6 531.3h67.5M4194.6 568.4h67.5" stroke="#0000ff" stroke-width="5.0" fill="none"/>
<path d="M4273.2 334.0V389.1M4239.5 334.0h67.5M4239.5 389.1h67.5" stroke="#0000ff" stroke-width="5.0" fill="none"/>
<path d="M4318.2 346.4V373.3M4284.5 346.4h67.5M4284.5 373.3h67.5" stroke="#0000ff" stroke-width="5.0" fill="none"/>
<path d="M4363.2 408.3V419.4M4329.4 408.3h67.5M4329.4 419.4h67.5" stroke="#0000ff" stroke-width="5.0" fill="none"/>
<path d="M4408.1 318.2V323.3M4374.4 318.2h67.5M4374.4 323.3h67.5" stroke="#0000ff" stroke-width="5.0" fill="none"/>
<path d="M4453.1 310.9V316.1M4419.3 310.9h67.5M4419.3 316.1h67.5" stroke="#0000ff" stroke-width="5.0" fill="none"/>
<path d="M4498.0 551.8V591.9M4464.3 551.8h67.5M4464.3 591.9h67.5" stroke="#0000ff" stroke-width="5.0" fill="none"/>
<path d="M4543.0 527.0V616.7M4509.2 527.0h67.5M4509.2 616.7h67.5" stroke="#0000ff" stroke-width="5.0" fill="none"/>
<path d="M4587.9 715.9V721.4M4554.2 715.9h67.5M4554.2 721.4h67.5" stroke="#0000ff" stroke-width="5.0" fill="none"/>
<path d="M4632.9 502.3V532.6M4599.1 502.3h67.5M4599.1 532.6h67.5" stroke="#0000ff" stroke-width="5.0" fill="none"/>
<circle cx="407.6" cy="426.7" r="17.9" fill="#fff" stroke="#0000ff" stroke-width="7.0"/>
<circle cx="452.5" cy="408.3" r="17.9" fill="#fff" stroke="#0000ff" stroke-width="7.0"/>
<circle cx="497.5" cy="389.1" r="17.9" fill="#fff" stroke="#0000ff" stroke-width="7.0"/>
<circle cx="542.4" cy="410.4" r="17.9" fill="#fff" stroke="#0000ff" stroke-width="7.0"/>
<circle cx="587.4" cy="428.0" r="17.9" fill="#fff" stroke="#0000ff" stroke-width="7.0"/>
<circle cx="632.3" cy="410.0" r="17.9" fill="#fff" stroke="#0000ff" stroke-width="7.0"/>
<circle cx="677.2" cy="359.2" r="17.9" fill="#fff" stroke="#0000ff" stroke-width="7.0"/>
<circle cx="722.2" cy="340.4" r="17.9" fill="#fff" stroke="#0000ff" stroke-width="7.0"/>
<circle cx="767.2" cy="359.2" r="17.9" fill="#fff" stroke="#0000ff" stroke-width="7.0"/>
<circle cx="902.0" cy="349.8" r="17.9" fill="#fff" stroke="#0000ff" stroke-width="7.0"/>
<circle cx="947.0" cy="344.7" r="17.9" fill="#fff" stroke="#0000ff" stroke-width="7.0"/>
<circle cx="1036.8" cy="801.7" r="21.4" fill="#0000ff"/>
<circle cx="1351.5" cy="354.1" r="17.9" fill="#fff" stroke="#0000ff" stroke-width="7.0"/>
<circle cx="1531.3" cy="325.5" r="17.9" fill="#fff" stroke="#0000ff" stroke-width="7.0"/>
<circle cx="1621.2" cy="346.8" r="17.9" fill="#fff" stroke="#0000ff" stroke-width="7.0"/>
<circle cx="1666.2" cy="349.0" r="17.9" fill="#fff" stroke="#0000ff" stroke-width="7.0"/>
<circle cx="1711.1" cy="344.3" r="17.9" fill="#fff" stroke="#0000ff" stroke-width="7.0"/>
<circle cx="1756.1" cy="258.0" r="17.9" fill="#fff" stroke="#0000ff" stroke-width="7.0"/>
<circle cx="1801.0" cy="252.9" r="17.9" fill="#fff" stroke="#0000ff" stroke-width="7.0"/>
<circle cx="1846.0" cy="305.8" r="21.4" fill="#0000ff"/>
<circle cx="1890.9" cy="239.6" r="17.9" fill="#fff" stroke="#0000ff" stroke-width="7.0"/>
<circle cx="1935.8" cy="270.8" r="17.9" fill="#fff" stroke="#0000ff" stroke-width="7.0"/>
<circle cx="1980.8" cy="278.5" r="17.9" fill="#fff" stroke="#0000ff" stroke-width="7.0"/>
<circle cx="2025.8" cy="235.4" r="17.9" fill="#fff" stroke="#0000ff" stroke-width="7.0"/>
<circle cx="2070.7" cy="298.6" r="17.9" fill="#fff" stroke="#0000ff" stroke-width="7.0"/>
<circle cx="2115.7" cy="273.8" r="17.9" fill="#fff" stroke="#0000ff" stroke-width="7.0"/>
<circle cx="2160.6" cy="322.9" r="17.9" fill="#fff" stroke="#0000ff" stroke-width="7.0"/>
<circle cx="2205.6" cy="288.7" r="17.9" fill="#fff" stroke="#0000ff" stroke-width="7.0"/>
<circle cx="2250.5" cy="294.3" r="17.9" fill="#fff" stroke="#0000ff" stroke-width="7.0"/>
<circle cx="2295.5" cy="313.5" r="17.9" fill="#fff" stroke="#0000ff" stroke-width="7.0"/>
<circle cx="2340.4" cy="334.9" r="17.9" fill="#fff" stroke="#0000ff" stroke-width="7.0"/>
<circle cx="2385.4" cy="354.1" r="17.9" fill="#fff" stroke="#0000ff" stroke-width="7.0"/>
<circle cx="2430.3" cy="294.3" r="17.9" fill="#fff" stroke="#0000ff" stroke-width="7.0"/>
<circle cx="2475.2" cy="359.2" r="17.9" fill="#fff" stroke="#0000ff" stroke-width="7.0"/>
<circle cx="2520.2" cy="398.9" r="17.9" fill="#fff" stroke="#0000ff" stroke-width="7.0"/>
<circle cx="2565.2" cy="364.8" r="17.9" fill="#fff" stroke="#0000ff" stroke-width="7.0"/>
<circle cx="2610.1" cy="345.5" r="17.9" fill="#fff" stroke="#0000ff" stroke-width="7.0"/>
<circle cx="2655.1" cy="343.4" r="17.9" fill="#fff" stroke="#0000ff" stroke-width="7.0"/>
<circle cx="2700.0" cy="316.9" r="17.9" fill="#fff" stroke="#0000ff" stroke-width="7.0"/>
<circle cx="2745.0" cy="305.0" r="17.9" fill="#fff" stroke="#0000ff" stroke-width="7.0"/>
<circle cx="2789.9" cy="369.0" r="17.9" fill="#fff" stroke="#0000ff" stroke-width="7.0"/>
<circle cx="2834.8" cy="399.8" r="17.9" fill="#fff" stroke="#0000ff" stroke-width="7.0"/>
<circle cx="2879.8" cy="336.1" r="17.9" fill="#fff" stroke="#0000ff" stroke-width="7.0"/>
<circle cx="2924.8" cy="302.8" r="17.9" fill="#fff" stroke="#0000ff" stroke-width="7.0"/>
<circle cx="2969.7" cy="272.9" r="17.9" fill="#fff" stroke="#0000ff" stroke-width="7.0"/>
<circle cx="3014.7" cy="312.2" r="17.9" fill="#fff" stroke="#0000ff" stroke-width="7.0"/>
<circle cx="3059.6" cy="351.1" r="17.9" fill="#fff" stroke="#0000ff" stroke-width="7.0"/>
<circle cx="3104.6" cy="296.4" r="17.9" fill="#fff" stroke="#0000ff" stroke-width="7.0"/>
<circle cx="3149.5" cy="326.3" r="17.9" fill="#fff" stroke="#0000ff" stroke-width="7.0"/>
<circle cx="3194.5" cy="323.3" r="17.9" fill="#fff" stroke="#0000ff" stroke-width="7.0"/>
<circle cx="3239.4" cy="354.9" r="17.9" fill="#fff" stroke="#0000ff" stroke-width="7.0"/>
<circle cx="3284.3" cy="328.5" r="21.4" fill="#0000ff"/>
<circle cx="3329.3" cy="368.2" r="17.9" fill="#fff" stroke="#0000ff" stroke-width="7.0"/>
<circle cx="3374.2" cy="456.6" r="17.9" fill="#fff" stroke="#0000ff" stroke-width="7.0"/>
<circle cx="3419.2" cy="466.4" r="17.9" fill="#fff" stroke="#0000ff" stroke-width="7.0"/>
<circle cx="3464.2" cy="424.5" r="17.9" fill="#fff" stroke="#0000ff" stroke-width="7.0"/>
<circle cx="3509.1" cy="488.6" r="17.9" fill="#fff" stroke="#0000ff" stroke-width="7.0"/>
<circle cx="3554.1" cy="349.8" r="17.9" fill="#fff" stroke="#0000ff" stroke-width="7.0"/>
<circle cx="3599.0" cy="358.3" r="17.9" fill="#fff" stroke="#0000ff" stroke-width="7.0"/>
<circle cx="3644.0" cy="384.0" r="17.9" fill="#fff" stroke="#0000ff" stroke-width="7.0"/>
<circle cx="3688.9" cy="359.2" r="17.9" fill="#fff" stroke="#0000ff" stroke-width="7.0"/>
<circle cx="3733.8" cy="380.6" r="21.4" fill="#0000ff"/>
<circle cx="3778.8" cy="448.9" r="17.9" fill="#fff" stroke="#0000ff" stroke-width="7.0"/>
<circle cx="3823.8" cy="364.8" r="21.4" fill="#0000ff"/>
<circle cx="3868.7" cy="325.5" r="17.9" fill="#fff" stroke="#0000ff" stroke-width="7.0"/>
<circle cx="3913.7" cy="445.9" r="17.9" fill="#fff" stroke="#0000ff" stroke-width="7.0"/>
<circle cx="3958.6" cy="424.5" r="17.9" fill="#fff" stroke="#0000ff" stroke-width="7.0"/>
<circle cx="4003.6" cy="642.3" r="21.4" fill="#0000ff"/>
<circle cx="4048.5" cy="638.9" r="21.4" fill="#0000ff"/>
<circle cx="4093.5" cy="536.4" r="17.9" fill="#fff" stroke="#0000ff" stroke-width="7.0"/>
<circle cx="4138.4" cy="549.2" r="21.4" fill="#0000ff"/>
<circle cx="4183.4" cy="579.5" r="17.9" fill="#fff" stroke="#0000ff" stroke-width="7.0"/>
<circle cx="4228.3" cy="550.5" r="21.4" fill="#0000ff"/>
<circle cx="4273.2" cy="361.8" r="17.9" fill="#fff" stroke="#0000ff" stroke-width="7.0"/>
<circle cx="4318.2" cy="359.6" r="17.9" fill="#fff" stroke="#0000ff" stroke-width="7.0"/>
<circle cx="4363.2" cy="413.9" r="17.9" fill="#fff" stroke="#0000ff" stroke-width="7.0"/>
<circle cx="4408.1" cy="320.8" r="17.9" fill="#fff" stroke="#0000ff" stroke-width="7.0"/>
<circle cx="4453.1" cy="313.5" r="17.9" fill="#fff" stroke="#0000ff" stroke-width="7.0"/>
<circle cx="4498.0" cy="571.9" r="21.4" fill="#0000ff"/>
<circle cx="4543.0" cy="571.9" r="21.4" fill="#0000ff"/>
<circle cx="4587.9" cy="718.4" r="21.4" fill="#0000ff"/>
<circle cx="4632.9" cy="517.2" r="21.4" fill="#0000ff"/>
<rect x="4644" y="634.8" width="12" height="4.7" fill="#0000ff"/>
</g>
<g fill="#000">
<rect x="337.1" y="139.9" width="7" height="1086.8000000000002"/>
<rect x="337.1" y="1219.7" width="4320.9" height="7"/>
<rect x="340.6" y="139.9" width="102.5" height="7"/>
<rect x="340.6" y="274.9" width="102.5" height="7"/>
<rect x="340.6" y="409.9" width="102.5" height="7"/>
<rect x="340.6" y="544.9" width="102.5" height="7"/>
<rect x="340.6" y="679.9" width="102.5" height="7"/>
<rect x="340.6" y="814.8" width="102.5" height="7"/>
<rect x="340.6" y="949.8" width="102.5" height="7"/>
<rect x="340.6" y="1084.8" width="102.5" height="7"/>
<rect x="340.6" y="1219.8" width="102.5" height="7"/>
<rect x="337.2" y="1144.2" width="6.8" height="79"/>
<rect x="427.1" y="1182.2" width="6.8" height="41"/>
<rect x="516.9" y="1182.2" width="6.8" height="41"/>
<rect x="606.8" y="1182.2" width="6.8" height="41"/>
<rect x="696.7" y="1144.2" width="6.8" height="79"/>
<rect x="786.6" y="1182.2" width="6.8" height="41"/>
<rect x="876.4" y="1182.2" width="6.8" height="41"/>
<rect x="966.3" y="1182.2" width="6.8" height="41"/>
<rect x="1056.2" y="1144.2" width="6.8" height="79"/>
<rect x="1146.1" y="1182.2" width="6.8" height="41"/>
<rect x="1235.9" y="1182.2" width="6.8" height="41"/>
<rect x="1325.8" y="1182.2" width="6.8" height="41"/>
<rect x="1415.7" y="1144.2" width="6.8" height="79"/>
<rect x="1505.5" y="1182.2" width="6.8" height="41"/>
<rect x="1595.4" y="1182.2" width="6.8" height="41"/>
<rect x="1685.3" y="1182.2" width="6.8" height="41"/>
<rect x="1775.2" y="1144.2" width="6.8" height="79"/>
<rect x="1865.0" y="1182.2" width="6.8" height="41"/>
<rect x="1954.9" y="1182.2" width="6.8" height="41"/>
<rect x="2044.8" y="1182.2" width="6.8" height="41"/>
<rect x="2134.7" y="1144.2" width="6.8" height="79"/>
<rect x="2224.5" y="1182.2" width="6.8" height="41"/>
<rect x="2314.4" y="1182.2" width="6.8" height="41"/>
<rect x="2404.3" y="1182.2" width="6.8" height="41"/>
<rect x="2494.1" y="1144.2" width="6.8" height="79"/>
<rect x="2584.0" y="1182.2" width="6.8" height="41"/>
<rect x="2673.9" y="1182.2" width="6.8" height="41"/>
<rect x="2763.8" y="1182.2" width="6.8" height="41"/>
<rect x="2853.6" y="1144.2" width="6.8" height="79"/>
<rect x="2943.5" y="1182.2" width="6.8" height="41"/>
<rect x="3033.4" y="1182.2" width="6.8" height="41"/>
<rect x="3123.3" y="1182.2" width="6.8" height="41"/>
<rect x="3213.1" y="1144.2" width="6.8" height="79"/>
<rect x="3303.0" y="1182.2" width="6.8" height="41"/>
<rect x="3392.9" y="1182.2" width="6.8" height="41"/>
<rect x="3482.8" y="1182.2" width="6.8" height="41"/>
<rect x="3572.6" y="1144.2" width="6.8" height="79"/>
<rect x="3662.5" y="1182.2" width="6.8" height="41"/>
<rect x="3752.4" y="1182.2" width="6.8" height="41"/>
<rect x="3842.2" y="1182.2" width="6.8" height="41"/>
<rect x="3932.1" y="1144.2" width="6.8" height="79"/>
<rect x="4022.0" y="1182.2" width="6.8" height="41"/>
<rect x="4111.9" y="1182.2" width="6.8" height="41"/>
<rect x="4201.7" y="1182.2" width="6.8" height="41"/>
<rect x="4291.6" y="1144.2" width="6.8" height="79"/>
<rect x="4381.5" y="1182.2" width="6.8" height="41"/>
<rect x="4471.4" y="1182.2" width="6.8" height="41"/>
<rect x="4561.2" y="1182.2" width="6.8" height="41"/>
<rect x="4651.1" y="1144.2" width="6.8" height="79"/>
</g>
<path d="M341.0 188.0C400.3 190.4 582.8 200.9 697.0 202.5C811.2 204.1 908.8 198.1 1026.0 197.4C1143.2 196.8 1282.8 199.0 1400.0 198.6C1517.2 198.2 1626.7 195.2 1729.0 194.8C1831.3 194.4 1966.5 195.8 2014.0 196.0M2119.5 197.4C2182.9 197.8 2322.8 199.8 2500.0 199.6C2677.2 199.4 3037.2 195.7 3183.0 196.0C3328.8 196.3 3305.5 201.2 3375.0 201.6C3444.5 202.0 3534.0 198.6 3600.0 198.2C3666.0 197.8 3712.0 200.3 3771.0 199.0C3830.0 197.7 3865.1 191.5 3954.0 190.5C4042.9 189.5 4217.7 190.9 4304.5 193.0C4391.3 195.1 4416.7 204.6 4475.0 203.3C4533.3 202.0 4624.6 188.4 4654.5 185.4" stroke="#000" stroke-width="4.7" fill="none"/>
<text x="2066" y="217.4" font-family="Liberation Sans, Arial, sans-serif" font-size="58.5" text-anchor="middle" transform="rotate(0 2066 197.4)">210</text>
<path d="M341.0 420.0C390.8 419.8 546.8 419.8 640.0 419.0C733.2 418.2 816.7 416.4 900.0 415.0C983.3 413.6 1056.7 411.6 1140.0 410.5C1223.3 409.4 1325.3 409.2 1400.0 408.3C1474.7 407.4 1485.7 406.3 1588.0 405.3C1690.3 404.3 1943.0 402.8 2014.0 402.3M2119.5 401.0C2182.9 401.4 2344.1 402.1 2500.0 403.5C2655.9 404.9 2871.7 407.7 3055.0 409.6C3238.3 411.5 3450.2 413.3 3600.0 415.0C3749.8 416.7 3854.3 419.0 3954.0 420.0C4053.7 421.0 4114.7 419.7 4198.0 421.0C4281.3 422.3 4377.9 428.3 4454.0 428.0C4530.1 427.7 4621.1 420.5 4654.5 419.0" stroke="#000" stroke-width="4.7" fill="none"/>
<text x="2066" y="422.3" font-family="Liberation Sans, Arial, sans-serif" font-size="58.5" text-anchor="middle" transform="rotate(0 2066 402.3)">230</text>
<path d="M341.0 643.0C439.3 641.8 754.5 637.9 931.0 636.0C1107.5 634.1 1219.5 633.6 1400.0 631.6C1580.5 629.6 1911.7 625.5 2014.0 624.3M2119.5 623.0C2182.9 622.6 2376.1 619.6 2500.0 620.5C2623.9 621.4 2763.3 626.9 2863.0 628.6C2962.7 630.3 3016.2 629.9 3098.0 630.7C3179.8 631.6 3270.3 631.5 3354.0 633.7C3437.7 635.9 3495.0 641.1 3600.0 644.0C3705.0 646.9 3897.5 649.4 3984.0 651.0C4070.5 652.6 4067.7 649.5 4119.0 653.5C4170.3 657.5 4202.8 669.1 4292.0 675.0C4381.2 680.9 4594.1 686.7 4654.5 689.0" stroke="#000" stroke-width="4.7" fill="none"/>
<text x="2066" y="645.3" font-family="Liberation Sans, Arial, sans-serif" font-size="58.5" text-anchor="middle" transform="rotate(0 2066 625.3)">250</text>
<path d="M341.0 978.0C389.7 977.4 550.7 975.5 633.0 974.5C715.3 973.5 776.2 972.9 835.0 972.0C893.8 971.1 927.2 969.8 986.0 969.0C1044.8 968.2 1129.2 967.2 1188.0 967.0C1246.8 966.8 1265.3 967.2 1339.0 968.0C1412.7 968.8 1517.5 969.5 1630.0 972.0C1742.5 974.5 1950.0 981.2 2014.0 983.0M2119.5 986.6C2149.0 988.3 2233.3 995.4 2296.7 996.8C2360.1 998.2 2437.7 994.8 2500.0 995.0C2562.3 995.2 2599.6 996.3 2670.8 998.0C2742.0 999.7 2841.6 1003.6 2927.0 1005.4C3012.4 1007.2 3070.8 1007.9 3183.0 1008.8C3295.2 1009.6 3502.0 1009.9 3600.0 1010.5C3698.0 1011.1 3699.6 1010.4 3770.8 1012.2C3842.0 1014.1 3934.5 1019.7 4027.0 1021.6C4119.5 1023.5 4247.7 1022.1 4326.0 1023.7C4404.3 1025.3 4441.9 1028.2 4496.7 1031.0C4551.4 1033.8 4628.2 1039.2 4654.5 1040.8" stroke="#000" stroke-width="4.7" fill="none"/>
<text x="2066" y="1004.4" font-family="Liberation Sans, Arial, sans-serif" font-size="58.5" text-anchor="middle" transform="rotate(3.4 2066 984.4)">273</text>
<path d="M341.0 1073.5C365.5 1074.1 402.3 1076.2 488.0 1077.0C573.7 1077.8 703.0 1078.3 855.0 1078.0C1007.0 1077.7 1206.8 1075.9 1400.0 1075.0C1593.2 1074.1 1911.7 1073.2 2014.0 1072.8M2119.5 1072.0C2149.0 1072.7 2233.3 1074.8 2296.7 1076.2C2360.1 1077.6 2430.5 1079.3 2500.0 1080.5C2569.5 1081.7 2628.1 1081.8 2713.5 1083.5C2798.9 1085.2 2905.7 1088.9 3012.4 1090.8C3119.2 1092.7 3256.1 1094.5 3354.0 1095.0C3451.9 1095.5 3530.5 1094.0 3600.0 1094.0C3669.5 1094.0 3699.6 1093.5 3770.8 1095.0C3842.0 1096.5 3934.5 1099.6 4027.0 1102.7C4119.5 1105.8 4221.4 1108.8 4326.0 1113.4C4430.6 1118.0 4599.8 1127.7 4654.5 1130.5" stroke="#000" stroke-width="4.7" fill="none"/>
<text x="2066" y="1094" font-family="Liberation Sans, Arial, sans-serif" font-size="58.5" text-anchor="middle" transform="rotate(0 2066 1074)">279</text>
<text x="2497" y="99" font-family="Liberation Sans, Arial, sans-serif" font-size="100.5" text-anchor="middle">Payerne: 2025/11/01</text>
<text x="307" y="169.5" font-family="DejaVu Sans, sans-serif" font-size="67.7" text-anchor="end">12.4</text>
<text x="307" y="304.5" font-family="DejaVu Sans, sans-serif" font-size="67.7" text-anchor="end">10.9</text>
<text x="307" y="439.5" font-family="DejaVu Sans, sans-serif" font-size="67.7" text-anchor="end">9.51</text>
<text x="307" y="574.5" font-family="DejaVu Sans, sans-serif" font-size="67.7" text-anchor="end">8.02</text>
<text x="307" y="709.5" font-family="DejaVu Sans, sans-serif" font-size="67.7" text-anchor="end">6.53</text>
<text x="307" y="844.4" font-family="DejaVu Sans, sans-serif" font-size="67.7" text-anchor="end">5.05</text>
<text x="307" y="979.4" font-family="DejaVu Sans, sans-serif" font-size="67.7" text-anchor="end">3.56</text>
<text x="307" y="1114.4" font-family="DejaVu Sans, sans-serif" font-size="67.7" text-anchor="end">2.07</text>
<text x="307" y="1249.4" font-family="DejaVu Sans, sans-serif" font-size="67.7" text-anchor="end">0.59</text>
<text x="340.6" y="1304.2" font-family="DejaVu Sans, sans-serif" font-size="75" text-anchor="middle">0</text>
<text x="700.1" y="1304.2" font-family="DejaVu Sans, sans-serif" font-size="75" text-anchor="middle">2</text>
<text x="1059.6" y="1304.2" font-family="DejaVu Sans, sans-serif" font-size="75" text-anchor="middle">4</text>
<text x="1419.1" y="1304.2" font-family="DejaVu Sans, sans-serif" font-size="75" text-anchor="middle">6</text>
<text x="1778.6" y="1304.2" font-family="DejaVu Sans, sans-serif" font-size="75" text-anchor="middle">8</text>
<text x="2138.1" y="1304.2" font-family="DejaVu Sans, sans-serif" font-size="75" text-anchor="middle">10</text>
<text x="2497.5" y="1304.2" font-family="DejaVu Sans, sans-serif" font-size="75" text-anchor="middle">12</text>
<text x="2857.0" y="1304.2" font-family="DejaVu Sans, sans-serif" font-size="75" text-anchor="middle">14</text>
<text x="3216.5" y="1304.2" font-family="DejaVu Sans, sans-serif" font-size="75" text-anchor="middle">16</text>
<text x="3576.0" y="1304.2" font-family="DejaVu Sans, sans-serif" font-size="75" text-anchor="middle">18</text>
<text x="3935.5" y="1304.2" font-family="DejaVu Sans, sans-serif" font-size="75" text-anchor="middle">20</text>
<text x="4295.0" y="1304.2" font-family="DejaVu Sans, sans-serif" font-size="75" text-anchor="middle">22</text>
<text x="4654.5" y="1304.2" font-family="DejaVu Sans, sans-serif" font-size="75" text-anchor="middle">24</text>
<text x="2497" y="1383.5" font-family="DejaVu Sans, sans-serif" font-size="76.4" text-anchor="middle">Time (UTC)</text>
<text transform="translate(112 682) rotate(-90)" font-family="DejaVu Sans, sans-serif" font-size="68.3" text-anchor="middle">Height AMSL (km)</text>
<rect x="340.6" y="1463.5" width="4313.9" height="69" fill="url(#cb)"/>
<rect x="337.0" y="1531.8" width="4321.099999999999" height="7.2" fill="#000"/>
<rect x="337.1" y="1513.8" width="7" height="21.200000000000045" fill="#000"/>
<rect x="480.9" y="1523" width="7" height="12" fill="#000"/>
<rect x="624.7" y="1523" width="7" height="12" fill="#000"/>
<rect x="768.5" y="1523" width="7" height="12" fill="#000"/>
<rect x="912.3" y="1523" width="7" height="12" fill="#000"/>
<rect x="1056.1" y="1523" width="7" height="12" fill="#000"/>
<rect x="1199.9" y="1523" width="7" height="12" fill="#000"/>
<rect x="1343.7" y="1523" width="7" height="12" fill="#000"/>
<rect x="1487.5" y="1523" width="7" height="12" fill="#000"/>
<rect x="1631.3" y="1523" width="7" height="12" fill="#000"/>
<rect x="1775.1" y="1513.8" width="7" height="21.200000000000045" fill="#000"/>
<rect x="1918.9" y="1523" width="7" height="12" fill="#000"/>
<rect x="2062.7" y="1523" width="7" height="12" fill="#000"/>
<rect x="2206.5" y="1523" width="7" height="12" fill="#000"/>
<rect x="2350.3" y="1523" width="7" height="12" fill="#000"/>
<rect x="2494.0" y="1523" width="7" height="12" fill="#000"/>
<rect x="2637.8" y="1523" width="7" height="12" fill="#000"/>
<rect x="2781.6" y="1523" width="7" height="12" fill="#000"/>
<rect x="2925.4" y="1523" width="7" height="12" fill="#000"/>
<rect x="3069.2" y="1523" width="7" height="12" fill="#000"/>
<rect x="3213.0" y="1513.8" width="7" height="21.200000000000045" fill="#000"/>
<rect x="3356.8" y="1523" width="7" height="12" fill="#000"/>
<rect x="3500.6" y="1523" width="7" height="12" fill="#000"/>
<rect x="3644.4" y="1523" width="7" height="12" fill="#000"/>
<rect x="3788.2" y="1523" width="7" height="12" fill="#000"/>
<rect x="3932.0" y="1523" width="7" height="12" fill="#000"/>
<rect x="4075.8" y="1523" width="7" height="12" fill="#000"/>
<rect x="4219.6" y="1523" width="7" height="12" fill="#000"/>
<rect x="4363.4" y="1523" width="7" height="12" fill="#000"/>
<rect x="4507.2" y="1523" width="7" height="12" fill="#000"/>
<rect x="4651.0" y="1513.8" width="7" height="21.200000000000045" fill="#000"/>
<text x="331.6" y="1598" font-family="DejaVu Sans, sans-serif" font-size="58.5" text-anchor="middle">Clear</text>
<text x="1778.6" y="1598" font-family="DejaVu Sans, sans-serif" font-size="58.5" text-anchor="middle">Water</text>
<text x="3216.5" y="1598" font-family="DejaVu Sans, sans-serif" font-size="58.5" text-anchor="middle">Ice</text>
<text x="4654.5" y="1598" font-family="DejaVu Sans, sans-serif" font-size="58.5" text-anchor="middle">Other</text>
<rect x="499.2" y="1679" width="652.5999999999999" height="372" fill="#fff" stroke="#000" stroke-width="6"/>
<rect x="1469.3" y="1679" width="594.5000000000002" height="261.4000000000001" fill="#fff" stroke="#000" stroke-width="6"/>
<rect x="3108.2" y="1678.7" width="586.6000000000004" height="449.9999999999998" fill="#fff" stroke="#000" stroke-width="6"/>
<circle cx="547.7" cy="1762.5" r="21" fill="#32cd32"/>
<circle cx="547.7" cy="1856.3" r="17.8" fill="#fff" stroke="#32cd32" stroke-width="5.5"/>
<path d="M526.5 1939.5L569 1981.5M569 1939.5L526.5 1981.5" stroke="#32cd32" stroke-width="6" fill="none"/>
<text x="595.5" y="1783" font-family="DejaVu Sans, sans-serif" font-size="58.5">SEV-OCA SL Wat</text>
<text x="595.5" y="1877.4" font-family="DejaVu Sans, sans-serif" font-size="58.5">SEV-OCA 2L Wat</text>
<text x="595.5" y="1981" font-family="DejaVu Sans, sans-serif" font-size="58.5">OCA High Err Wat</text>
<circle cx="1517" cy="1762.5" r="21" fill="#0000ff"/>
<circle cx="1517" cy="1856.3" r="17.8" fill="#fff" stroke="#0000ff" stroke-width="5.5"/>
<text x="1565.5" y="1783" font-family="DejaVu Sans, sans-serif" font-size="58.5">SEV-OCA SL Ice</text>
<text x="1565.5" y="1877.4" font-family="DejaVu Sans, sans-serif" font-size="58.5">SEV-OCA 2L Ice</text>
<path d="M3135.5 1775.0 L3178.5 1775.0 L3157.0 1738.5Z" fill="#ff0000" fill-rule="evenodd"/>
<text x="3204.5" y="1783.9" font-family="DejaVu Sans, sans-serif" font-size="58.5">ACTRIS CBH</text>
<path d="M3135.5 1844.2 L3178.5 1844.2 L3157.0 1880.7Z" fill="#ff0000" fill-rule="evenodd"/>
<text x="3204.5" y="1878.7" font-family="DejaVu Sans, sans-serif" font-size="58.5">ACTRIS CTH</text>
<path d="M3135.5 1964.2 L3178.5 1964.2 L3157.0 1927.7Z M3146.7 1957.8 L3167.3 1957.8 L3157.0 1940.3Z" fill="#ff0000" fill-rule="evenodd"/>
<text x="3204.5" y="1973" font-family="DejaVu Sans, sans-serif" font-size="58.5">ACTRIS CBH BL</text>
<path d="M3135.5 2033.2 L3178.5 2033.2 L3157.0 2069.8Z M3146.7 2039.7 L3167.3 2039.7 L3157.0 2057.1Z" fill="#ff0000" fill-rule="evenodd"/>
<text x="3204.5" y="2067.8" font-family="DejaVu Sans, sans-serif" font-size="58.5">ACTRIS CTH BL</text>
</svg></body></html>
